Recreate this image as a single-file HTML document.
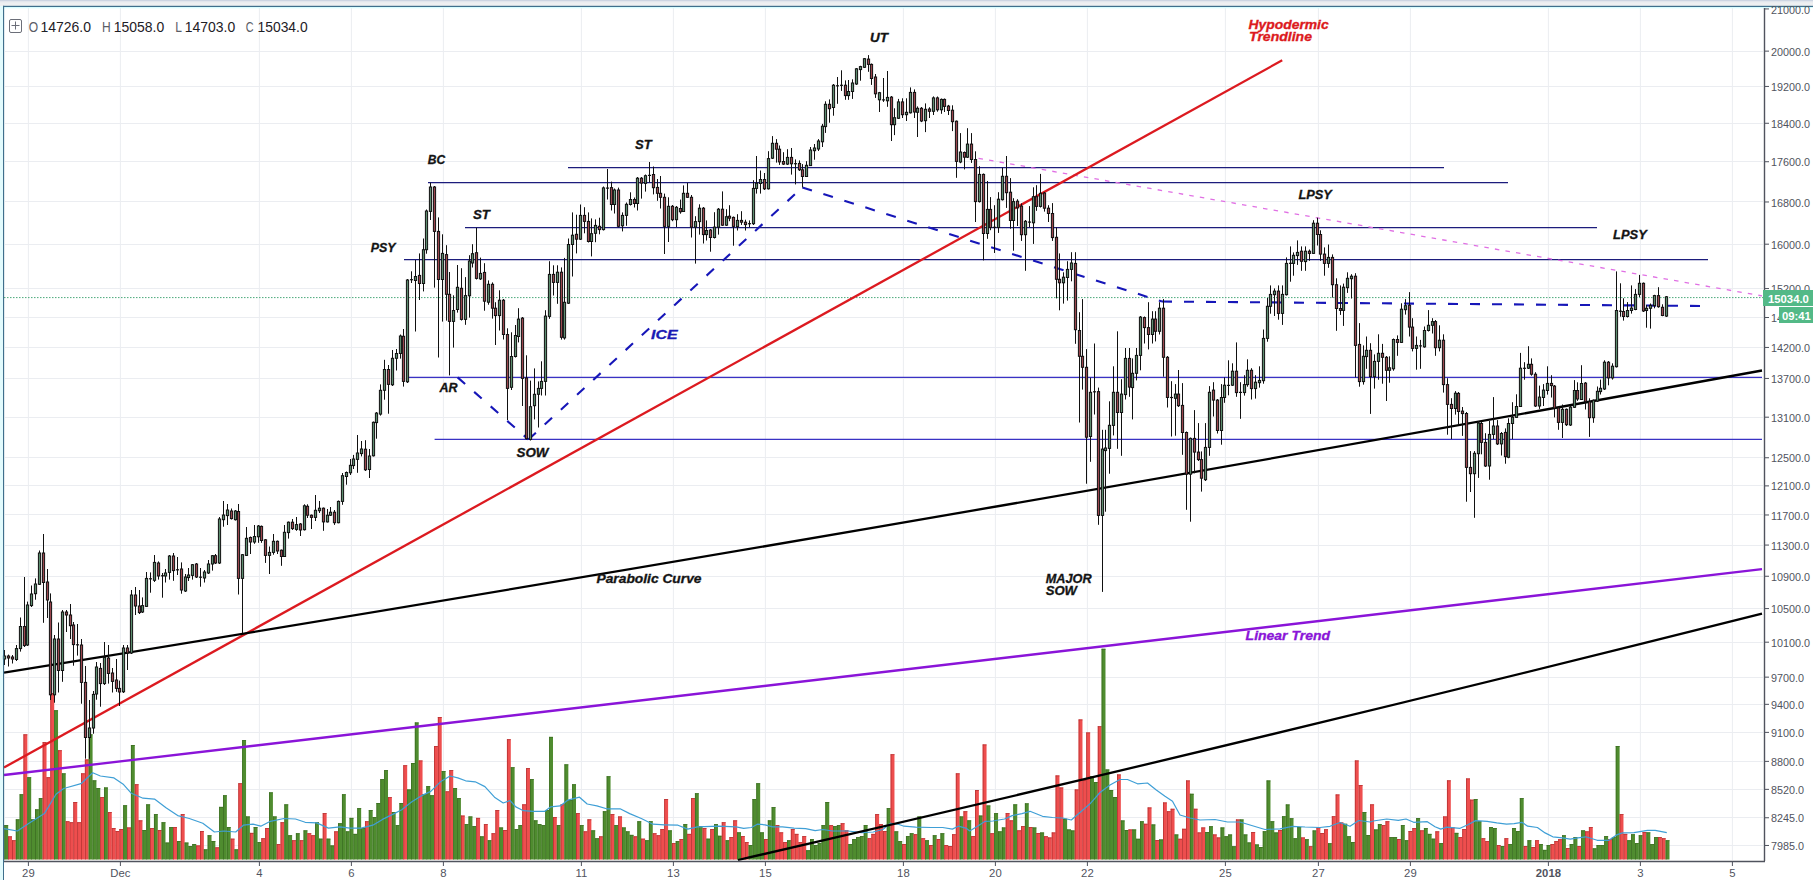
<!DOCTYPE html>
<html><head><meta charset="utf-8"><title>Chart</title>
<style>html,body{margin:0;padding:0;background:#fff;width:1813px;height:880px;overflow:hidden;font-family:"Liberation Sans",sans-serif}</style></head>
<body>
<svg width="1813" height="880" viewBox="0 0 1813 880" style="position:absolute;left:0;top:0;font-family:'Liberation Sans',sans-serif">
<rect x="0" y="0" width="1813" height="880" fill="#ffffff"/>
<rect x="0" y="0" width="1813" height="6" fill="#eeeff1"/>
<rect x="0" y="0" width="1813" height="1.3" fill="#cdd5e2"/>
<rect x="0" y="1.3" width="1813" height="1" fill="#e2e6ee"/>
<rect x="0" y="6" width="3" height="874" fill="#e2fbfd"/>
<line x1="28.4" y1="8" x2="28.4" y2="860" stroke="#ebedf1" stroke-width="1"/>
<line x1="120.4" y1="8" x2="120.4" y2="860" stroke="#ebedf1" stroke-width="1"/>
<line x1="259.4" y1="8" x2="259.4" y2="860" stroke="#ebedf1" stroke-width="1"/>
<line x1="351.4" y1="8" x2="351.4" y2="860" stroke="#ebedf1" stroke-width="1"/>
<line x1="443.4" y1="8" x2="443.4" y2="860" stroke="#ebedf1" stroke-width="1"/>
<line x1="581.4" y1="8" x2="581.4" y2="860" stroke="#ebedf1" stroke-width="1"/>
<line x1="673.4" y1="8" x2="673.4" y2="860" stroke="#ebedf1" stroke-width="1"/>
<line x1="765.4" y1="8" x2="765.4" y2="860" stroke="#ebedf1" stroke-width="1"/>
<line x1="903.4" y1="8" x2="903.4" y2="860" stroke="#ebedf1" stroke-width="1"/>
<line x1="995.4" y1="8" x2="995.4" y2="860" stroke="#ebedf1" stroke-width="1"/>
<line x1="1087.4" y1="8" x2="1087.4" y2="860" stroke="#ebedf1" stroke-width="1"/>
<line x1="1225.4" y1="8" x2="1225.4" y2="860" stroke="#ebedf1" stroke-width="1"/>
<line x1="1318.4" y1="8" x2="1318.4" y2="860" stroke="#ebedf1" stroke-width="1"/>
<line x1="1410.4" y1="8" x2="1410.4" y2="860" stroke="#ebedf1" stroke-width="1"/>
<line x1="1548.4" y1="8" x2="1548.4" y2="860" stroke="#ebedf1" stroke-width="1"/>
<line x1="1640.4" y1="8" x2="1640.4" y2="860" stroke="#ebedf1" stroke-width="1"/>
<line x1="1732.4" y1="8" x2="1732.4" y2="860" stroke="#ebedf1" stroke-width="1"/>
<line x1="5" y1="51.5" x2="1763" y2="51.5" stroke="#ebedf1" stroke-width="1"/>
<line x1="5" y1="86.5" x2="1763" y2="86.5" stroke="#ebedf1" stroke-width="1"/>
<line x1="5" y1="123.5" x2="1763" y2="123.5" stroke="#ebedf1" stroke-width="1"/>
<line x1="5" y1="161.5" x2="1763" y2="161.5" stroke="#ebedf1" stroke-width="1"/>
<line x1="5" y1="201.5" x2="1763" y2="201.5" stroke="#ebedf1" stroke-width="1"/>
<line x1="5" y1="244.5" x2="1763" y2="244.5" stroke="#ebedf1" stroke-width="1"/>
<line x1="5" y1="288.5" x2="1763" y2="288.5" stroke="#ebedf1" stroke-width="1"/>
<line x1="5" y1="317.5" x2="1763" y2="317.5" stroke="#ebedf1" stroke-width="1"/>
<line x1="5" y1="347.5" x2="1763" y2="347.5" stroke="#ebedf1" stroke-width="1"/>
<line x1="5" y1="378.5" x2="1763" y2="378.5" stroke="#ebedf1" stroke-width="1"/>
<line x1="5" y1="417.5" x2="1763" y2="417.5" stroke="#ebedf1" stroke-width="1"/>
<line x1="5" y1="457.5" x2="1763" y2="457.5" stroke="#ebedf1" stroke-width="1"/>
<line x1="5" y1="485.5" x2="1763" y2="485.5" stroke="#ebedf1" stroke-width="1"/>
<line x1="5" y1="514.5" x2="1763" y2="514.5" stroke="#ebedf1" stroke-width="1"/>
<line x1="5" y1="545.5" x2="1763" y2="545.5" stroke="#ebedf1" stroke-width="1"/>
<line x1="5" y1="576.5" x2="1763" y2="576.5" stroke="#ebedf1" stroke-width="1"/>
<line x1="5" y1="608.5" x2="1763" y2="608.5" stroke="#ebedf1" stroke-width="1"/>
<line x1="5" y1="642.5" x2="1763" y2="642.5" stroke="#ebedf1" stroke-width="1"/>
<line x1="5" y1="677.5" x2="1763" y2="677.5" stroke="#ebedf1" stroke-width="1"/>
<line x1="5" y1="704.5" x2="1763" y2="704.5" stroke="#ebedf1" stroke-width="1"/>
<line x1="5" y1="732.5" x2="1763" y2="732.5" stroke="#ebedf1" stroke-width="1"/>
<line x1="5" y1="761.5" x2="1763" y2="761.5" stroke="#ebedf1" stroke-width="1"/>
<line x1="5" y1="789.5" x2="1763" y2="789.5" stroke="#ebedf1" stroke-width="1"/>
<line x1="5" y1="817.5" x2="1763" y2="817.5" stroke="#ebedf1" stroke-width="1"/>
<line x1="5" y1="845.5" x2="1763" y2="845.5" stroke="#ebedf1" stroke-width="1"/>
<rect x="4.33" y="825.2" width="3.84" height="34.3" fill="#4f8c2f"/>
<rect x="4.33" y="825.2" width="0.8" height="34.3" fill="#3c6f22"/>
<rect x="4.33" y="825.2" width="3.84" height="0.8" fill="#3c6f22"/>
<rect x="8.16" y="836.4" width="3.84" height="23.1" fill="#ee4e4e"/>
<rect x="8.16" y="836.4" width="0.8" height="23.1" fill="#b83232"/>
<rect x="8.16" y="836.4" width="3.84" height="0.8" fill="#b83232"/>
<rect x="12.00" y="840.3" width="3.84" height="19.2" fill="#ee4e4e"/>
<rect x="12.00" y="840.3" width="0.8" height="19.2" fill="#b83232"/>
<rect x="12.00" y="840.3" width="3.84" height="0.8" fill="#b83232"/>
<rect x="15.84" y="819.4" width="3.84" height="40.1" fill="#4f8c2f"/>
<rect x="15.84" y="819.4" width="0.8" height="40.1" fill="#3c6f22"/>
<rect x="15.84" y="819.4" width="3.84" height="0.8" fill="#3c6f22"/>
<rect x="19.67" y="794.3" width="3.84" height="65.2" fill="#4f8c2f"/>
<rect x="19.67" y="794.3" width="0.8" height="65.2" fill="#3c6f22"/>
<rect x="19.67" y="794.3" width="3.84" height="0.8" fill="#3c6f22"/>
<rect x="23.51" y="734.4" width="3.84" height="125.1" fill="#ee4e4e"/>
<rect x="23.51" y="734.4" width="0.8" height="125.1" fill="#b83232"/>
<rect x="23.51" y="734.4" width="3.84" height="0.8" fill="#b83232"/>
<rect x="27.35" y="777.3" width="3.84" height="82.2" fill="#4f8c2f"/>
<rect x="27.35" y="777.3" width="0.8" height="82.2" fill="#3c6f22"/>
<rect x="27.35" y="777.3" width="3.84" height="0.8" fill="#3c6f22"/>
<rect x="31.18" y="819.4" width="3.84" height="40.1" fill="#4f8c2f"/>
<rect x="31.18" y="819.4" width="0.8" height="40.1" fill="#3c6f22"/>
<rect x="31.18" y="819.4" width="3.84" height="0.8" fill="#3c6f22"/>
<rect x="35.02" y="809.4" width="3.84" height="50.1" fill="#4f8c2f"/>
<rect x="35.02" y="809.4" width="0.8" height="50.1" fill="#3c6f22"/>
<rect x="35.02" y="809.4" width="3.84" height="0.8" fill="#3c6f22"/>
<rect x="38.86" y="798.2" width="3.84" height="61.3" fill="#4f8c2f"/>
<rect x="38.86" y="798.2" width="0.8" height="61.3" fill="#3c6f22"/>
<rect x="38.86" y="798.2" width="3.84" height="0.8" fill="#3c6f22"/>
<rect x="42.69" y="742.2" width="3.84" height="117.3" fill="#ee4e4e"/>
<rect x="42.69" y="742.2" width="0.8" height="117.3" fill="#b83232"/>
<rect x="42.69" y="742.2" width="3.84" height="0.8" fill="#b83232"/>
<rect x="46.53" y="777.3" width="3.84" height="82.2" fill="#ee4e4e"/>
<rect x="46.53" y="777.3" width="0.8" height="82.2" fill="#b83232"/>
<rect x="46.53" y="777.3" width="3.84" height="0.8" fill="#b83232"/>
<rect x="50.37" y="693.0" width="3.84" height="166.5" fill="#ee4e4e"/>
<rect x="50.37" y="693.0" width="0.8" height="166.5" fill="#b83232"/>
<rect x="50.37" y="693.0" width="3.84" height="0.8" fill="#b83232"/>
<rect x="54.20" y="710.3" width="3.84" height="149.2" fill="#4f8c2f"/>
<rect x="54.20" y="710.3" width="0.8" height="149.2" fill="#3c6f22"/>
<rect x="54.20" y="710.3" width="3.84" height="0.8" fill="#3c6f22"/>
<rect x="58.04" y="750.3" width="3.84" height="109.2" fill="#ee4e4e"/>
<rect x="58.04" y="750.3" width="0.8" height="109.2" fill="#b83232"/>
<rect x="58.04" y="750.3" width="3.84" height="0.8" fill="#b83232"/>
<rect x="61.88" y="773.4" width="3.84" height="86.1" fill="#4f8c2f"/>
<rect x="61.88" y="773.4" width="0.8" height="86.1" fill="#3c6f22"/>
<rect x="61.88" y="773.4" width="3.84" height="0.8" fill="#3c6f22"/>
<rect x="65.71" y="821.3" width="3.84" height="38.2" fill="#ee4e4e"/>
<rect x="65.71" y="821.3" width="0.8" height="38.2" fill="#b83232"/>
<rect x="65.71" y="821.3" width="3.84" height="0.8" fill="#b83232"/>
<rect x="69.55" y="822.3" width="3.84" height="37.2" fill="#ee4e4e"/>
<rect x="69.55" y="822.3" width="0.8" height="37.2" fill="#b83232"/>
<rect x="69.55" y="822.3" width="3.84" height="0.8" fill="#b83232"/>
<rect x="73.39" y="802.0" width="3.84" height="57.5" fill="#ee4e4e"/>
<rect x="73.39" y="802.0" width="0.8" height="57.5" fill="#b83232"/>
<rect x="73.39" y="802.0" width="3.84" height="0.8" fill="#b83232"/>
<rect x="77.23" y="822.3" width="3.84" height="37.2" fill="#ee4e4e"/>
<rect x="77.23" y="822.3" width="0.8" height="37.2" fill="#b83232"/>
<rect x="77.23" y="822.3" width="3.84" height="0.8" fill="#b83232"/>
<rect x="81.06" y="773.4" width="3.84" height="86.1" fill="#ee4e4e"/>
<rect x="81.06" y="773.4" width="0.8" height="86.1" fill="#b83232"/>
<rect x="81.06" y="773.4" width="3.84" height="0.8" fill="#b83232"/>
<rect x="84.90" y="759.5" width="3.84" height="100.0" fill="#ee4e4e"/>
<rect x="84.90" y="759.5" width="0.8" height="100.0" fill="#b83232"/>
<rect x="84.90" y="759.5" width="3.84" height="0.8" fill="#b83232"/>
<rect x="88.74" y="734.4" width="3.84" height="125.1" fill="#4f8c2f"/>
<rect x="88.74" y="734.4" width="0.8" height="125.1" fill="#3c6f22"/>
<rect x="88.74" y="734.4" width="3.84" height="0.8" fill="#3c6f22"/>
<rect x="92.57" y="780.4" width="3.84" height="79.1" fill="#4f8c2f"/>
<rect x="92.57" y="780.4" width="0.8" height="79.1" fill="#3c6f22"/>
<rect x="92.57" y="780.4" width="3.84" height="0.8" fill="#3c6f22"/>
<rect x="96.41" y="788.1" width="3.84" height="71.4" fill="#4f8c2f"/>
<rect x="96.41" y="788.1" width="0.8" height="71.4" fill="#3c6f22"/>
<rect x="96.41" y="788.1" width="3.84" height="0.8" fill="#3c6f22"/>
<rect x="100.25" y="797.2" width="3.84" height="62.3" fill="#ee4e4e"/>
<rect x="100.25" y="797.2" width="0.8" height="62.3" fill="#b83232"/>
<rect x="100.25" y="797.2" width="3.84" height="0.8" fill="#b83232"/>
<rect x="104.08" y="787.5" width="3.84" height="72.0" fill="#4f8c2f"/>
<rect x="104.08" y="787.5" width="0.8" height="72.0" fill="#3c6f22"/>
<rect x="104.08" y="787.5" width="3.84" height="0.8" fill="#3c6f22"/>
<rect x="107.92" y="812.1" width="3.84" height="47.4" fill="#ee4e4e"/>
<rect x="107.92" y="812.1" width="0.8" height="47.4" fill="#b83232"/>
<rect x="107.92" y="812.1" width="3.84" height="0.8" fill="#b83232"/>
<rect x="111.76" y="828.1" width="3.84" height="31.4" fill="#ee4e4e"/>
<rect x="111.76" y="828.1" width="0.8" height="31.4" fill="#b83232"/>
<rect x="111.76" y="828.1" width="3.84" height="0.8" fill="#b83232"/>
<rect x="115.59" y="831.0" width="3.84" height="28.5" fill="#ee4e4e"/>
<rect x="115.59" y="831.0" width="0.8" height="28.5" fill="#b83232"/>
<rect x="115.59" y="831.0" width="3.84" height="0.8" fill="#b83232"/>
<rect x="119.43" y="829.1" width="3.84" height="30.4" fill="#ee4e4e"/>
<rect x="119.43" y="829.1" width="0.8" height="30.4" fill="#b83232"/>
<rect x="119.43" y="829.1" width="3.84" height="0.8" fill="#b83232"/>
<rect x="123.27" y="805.3" width="3.84" height="54.2" fill="#4f8c2f"/>
<rect x="123.27" y="805.3" width="0.8" height="54.2" fill="#3c6f22"/>
<rect x="123.27" y="805.3" width="3.84" height="0.8" fill="#3c6f22"/>
<rect x="127.10" y="827.5" width="3.84" height="32.0" fill="#ee4e4e"/>
<rect x="127.10" y="827.5" width="0.8" height="32.0" fill="#b83232"/>
<rect x="127.10" y="827.5" width="3.84" height="0.8" fill="#b83232"/>
<rect x="130.94" y="745.0" width="3.84" height="114.5" fill="#4f8c2f"/>
<rect x="130.94" y="745.0" width="0.8" height="114.5" fill="#3c6f22"/>
<rect x="130.94" y="745.0" width="3.84" height="0.8" fill="#3c6f22"/>
<rect x="134.78" y="784.3" width="3.84" height="75.2" fill="#ee4e4e"/>
<rect x="134.78" y="784.3" width="0.8" height="75.2" fill="#b83232"/>
<rect x="134.78" y="784.3" width="3.84" height="0.8" fill="#b83232"/>
<rect x="138.61" y="820.4" width="3.84" height="39.1" fill="#ee4e4e"/>
<rect x="138.61" y="820.4" width="0.8" height="39.1" fill="#b83232"/>
<rect x="138.61" y="820.4" width="3.84" height="0.8" fill="#b83232"/>
<rect x="142.45" y="830.0" width="3.84" height="29.5" fill="#4f8c2f"/>
<rect x="142.45" y="830.0" width="0.8" height="29.5" fill="#3c6f22"/>
<rect x="142.45" y="830.0" width="3.84" height="0.8" fill="#3c6f22"/>
<rect x="146.29" y="804.4" width="3.84" height="55.1" fill="#4f8c2f"/>
<rect x="146.29" y="804.4" width="0.8" height="55.1" fill="#3c6f22"/>
<rect x="146.29" y="804.4" width="3.84" height="0.8" fill="#3c6f22"/>
<rect x="150.12" y="828.1" width="3.84" height="31.4" fill="#ee4e4e"/>
<rect x="150.12" y="828.1" width="0.8" height="31.4" fill="#b83232"/>
<rect x="150.12" y="828.1" width="3.84" height="0.8" fill="#b83232"/>
<rect x="153.96" y="814.2" width="3.84" height="45.3" fill="#4f8c2f"/>
<rect x="153.96" y="814.2" width="0.8" height="45.3" fill="#3c6f22"/>
<rect x="153.96" y="814.2" width="3.84" height="0.8" fill="#3c6f22"/>
<rect x="157.80" y="830.0" width="3.84" height="29.5" fill="#ee4e4e"/>
<rect x="157.80" y="830.0" width="0.8" height="29.5" fill="#b83232"/>
<rect x="157.80" y="830.0" width="3.84" height="0.8" fill="#b83232"/>
<rect x="161.63" y="822.3" width="3.84" height="37.2" fill="#4f8c2f"/>
<rect x="161.63" y="822.3" width="0.8" height="37.2" fill="#3c6f22"/>
<rect x="161.63" y="822.3" width="3.84" height="0.8" fill="#3c6f22"/>
<rect x="165.47" y="842.6" width="3.84" height="16.9" fill="#4f8c2f"/>
<rect x="165.47" y="842.6" width="0.8" height="16.9" fill="#3c6f22"/>
<rect x="165.47" y="842.6" width="3.84" height="0.8" fill="#3c6f22"/>
<rect x="169.31" y="827.1" width="3.84" height="32.4" fill="#4f8c2f"/>
<rect x="169.31" y="827.1" width="0.8" height="32.4" fill="#3c6f22"/>
<rect x="169.31" y="827.1" width="3.84" height="0.8" fill="#3c6f22"/>
<rect x="173.15" y="827.1" width="3.84" height="32.4" fill="#ee4e4e"/>
<rect x="173.15" y="827.1" width="0.8" height="32.4" fill="#b83232"/>
<rect x="173.15" y="827.1" width="3.84" height="0.8" fill="#b83232"/>
<rect x="176.98" y="841.0" width="3.84" height="18.5" fill="#4f8c2f"/>
<rect x="176.98" y="841.0" width="0.8" height="18.5" fill="#3c6f22"/>
<rect x="176.98" y="841.0" width="3.84" height="0.8" fill="#3c6f22"/>
<rect x="180.82" y="814.2" width="3.84" height="45.3" fill="#ee4e4e"/>
<rect x="180.82" y="814.2" width="0.8" height="45.3" fill="#b83232"/>
<rect x="180.82" y="814.2" width="3.84" height="0.8" fill="#b83232"/>
<rect x="184.66" y="842.6" width="3.84" height="16.9" fill="#4f8c2f"/>
<rect x="184.66" y="842.6" width="0.8" height="16.9" fill="#3c6f22"/>
<rect x="184.66" y="842.6" width="3.84" height="0.8" fill="#3c6f22"/>
<rect x="188.49" y="846.1" width="3.84" height="13.4" fill="#4f8c2f"/>
<rect x="188.49" y="846.1" width="0.8" height="13.4" fill="#3c6f22"/>
<rect x="188.49" y="846.1" width="3.84" height="0.8" fill="#3c6f22"/>
<rect x="192.33" y="844.1" width="3.84" height="15.4" fill="#4f8c2f"/>
<rect x="192.33" y="844.1" width="0.8" height="15.4" fill="#3c6f22"/>
<rect x="192.33" y="844.1" width="3.84" height="0.8" fill="#3c6f22"/>
<rect x="196.17" y="845.5" width="3.84" height="14.0" fill="#ee4e4e"/>
<rect x="196.17" y="845.5" width="0.8" height="14.0" fill="#b83232"/>
<rect x="196.17" y="845.5" width="3.84" height="0.8" fill="#b83232"/>
<rect x="200.00" y="831.0" width="3.84" height="28.5" fill="#ee4e4e"/>
<rect x="200.00" y="831.0" width="0.8" height="28.5" fill="#b83232"/>
<rect x="200.00" y="831.0" width="3.84" height="0.8" fill="#b83232"/>
<rect x="203.84" y="849.4" width="3.84" height="10.1" fill="#4f8c2f"/>
<rect x="203.84" y="849.4" width="0.8" height="10.1" fill="#3c6f22"/>
<rect x="203.84" y="849.4" width="3.84" height="0.8" fill="#3c6f22"/>
<rect x="207.68" y="835.3" width="3.84" height="24.2" fill="#4f8c2f"/>
<rect x="207.68" y="835.3" width="0.8" height="24.2" fill="#3c6f22"/>
<rect x="207.68" y="835.3" width="3.84" height="0.8" fill="#3c6f22"/>
<rect x="211.51" y="841.0" width="3.84" height="18.5" fill="#4f8c2f"/>
<rect x="211.51" y="841.0" width="0.8" height="18.5" fill="#3c6f22"/>
<rect x="211.51" y="841.0" width="3.84" height="0.8" fill="#3c6f22"/>
<rect x="215.35" y="847.4" width="3.84" height="12.1" fill="#ee4e4e"/>
<rect x="215.35" y="847.4" width="0.8" height="12.1" fill="#b83232"/>
<rect x="215.35" y="847.4" width="3.84" height="0.8" fill="#b83232"/>
<rect x="219.19" y="806.9" width="3.84" height="52.6" fill="#4f8c2f"/>
<rect x="219.19" y="806.9" width="0.8" height="52.6" fill="#3c6f22"/>
<rect x="219.19" y="806.9" width="3.84" height="0.8" fill="#3c6f22"/>
<rect x="223.02" y="795.3" width="3.84" height="64.2" fill="#4f8c2f"/>
<rect x="223.02" y="795.3" width="0.8" height="64.2" fill="#3c6f22"/>
<rect x="223.02" y="795.3" width="3.84" height="0.8" fill="#3c6f22"/>
<rect x="226.86" y="827.1" width="3.84" height="32.4" fill="#4f8c2f"/>
<rect x="226.86" y="827.1" width="0.8" height="32.4" fill="#3c6f22"/>
<rect x="226.86" y="827.1" width="3.84" height="0.8" fill="#3c6f22"/>
<rect x="230.70" y="838.7" width="3.84" height="20.8" fill="#ee4e4e"/>
<rect x="230.70" y="838.7" width="0.8" height="20.8" fill="#b83232"/>
<rect x="230.70" y="838.7" width="3.84" height="0.8" fill="#b83232"/>
<rect x="234.53" y="849.4" width="3.84" height="10.1" fill="#4f8c2f"/>
<rect x="234.53" y="849.4" width="0.8" height="10.1" fill="#3c6f22"/>
<rect x="234.53" y="849.4" width="3.84" height="0.8" fill="#3c6f22"/>
<rect x="238.37" y="783.3" width="3.84" height="76.2" fill="#ee4e4e"/>
<rect x="238.37" y="783.3" width="0.8" height="76.2" fill="#b83232"/>
<rect x="238.37" y="783.3" width="3.84" height="0.8" fill="#b83232"/>
<rect x="242.21" y="740.2" width="3.84" height="119.3" fill="#4f8c2f"/>
<rect x="242.21" y="740.2" width="0.8" height="119.3" fill="#3c6f22"/>
<rect x="242.21" y="740.2" width="3.84" height="0.8" fill="#3c6f22"/>
<rect x="246.04" y="816.5" width="3.84" height="43.0" fill="#4f8c2f"/>
<rect x="246.04" y="816.5" width="0.8" height="43.0" fill="#3c6f22"/>
<rect x="246.04" y="816.5" width="3.84" height="0.8" fill="#3c6f22"/>
<rect x="249.88" y="832.9" width="3.84" height="26.6" fill="#ee4e4e"/>
<rect x="249.88" y="832.9" width="0.8" height="26.6" fill="#b83232"/>
<rect x="249.88" y="832.9" width="3.84" height="0.8" fill="#b83232"/>
<rect x="253.72" y="827.1" width="3.84" height="32.4" fill="#4f8c2f"/>
<rect x="253.72" y="827.1" width="0.8" height="32.4" fill="#3c6f22"/>
<rect x="253.72" y="827.1" width="3.84" height="0.8" fill="#3c6f22"/>
<rect x="257.55" y="842.2" width="3.84" height="17.3" fill="#4f8c2f"/>
<rect x="257.55" y="842.2" width="0.8" height="17.3" fill="#3c6f22"/>
<rect x="257.55" y="842.2" width="3.84" height="0.8" fill="#3c6f22"/>
<rect x="261.39" y="838.3" width="3.84" height="21.2" fill="#ee4e4e"/>
<rect x="261.39" y="838.3" width="0.8" height="21.2" fill="#b83232"/>
<rect x="261.39" y="838.3" width="3.84" height="0.8" fill="#b83232"/>
<rect x="265.23" y="828.1" width="3.84" height="31.4" fill="#ee4e4e"/>
<rect x="265.23" y="828.1" width="0.8" height="31.4" fill="#b83232"/>
<rect x="265.23" y="828.1" width="3.84" height="0.8" fill="#b83232"/>
<rect x="269.07" y="792.4" width="3.84" height="67.1" fill="#4f8c2f"/>
<rect x="269.07" y="792.4" width="0.8" height="67.1" fill="#3c6f22"/>
<rect x="269.07" y="792.4" width="3.84" height="0.8" fill="#3c6f22"/>
<rect x="272.90" y="816.5" width="3.84" height="43.0" fill="#4f8c2f"/>
<rect x="272.90" y="816.5" width="0.8" height="43.0" fill="#3c6f22"/>
<rect x="272.90" y="816.5" width="3.84" height="0.8" fill="#3c6f22"/>
<rect x="276.74" y="844.1" width="3.84" height="15.4" fill="#ee4e4e"/>
<rect x="276.74" y="844.1" width="0.8" height="15.4" fill="#b83232"/>
<rect x="276.74" y="844.1" width="3.84" height="0.8" fill="#b83232"/>
<rect x="280.58" y="822.3" width="3.84" height="37.2" fill="#ee4e4e"/>
<rect x="280.58" y="822.3" width="0.8" height="37.2" fill="#b83232"/>
<rect x="280.58" y="822.3" width="3.84" height="0.8" fill="#b83232"/>
<rect x="284.41" y="804.4" width="3.84" height="55.1" fill="#4f8c2f"/>
<rect x="284.41" y="804.4" width="0.8" height="55.1" fill="#3c6f22"/>
<rect x="284.41" y="804.4" width="3.84" height="0.8" fill="#3c6f22"/>
<rect x="288.25" y="835.3" width="3.84" height="24.2" fill="#4f8c2f"/>
<rect x="288.25" y="835.3" width="0.8" height="24.2" fill="#3c6f22"/>
<rect x="288.25" y="835.3" width="3.84" height="0.8" fill="#3c6f22"/>
<rect x="292.09" y="840.3" width="3.84" height="19.2" fill="#ee4e4e"/>
<rect x="292.09" y="840.3" width="0.8" height="19.2" fill="#b83232"/>
<rect x="292.09" y="840.3" width="3.84" height="0.8" fill="#b83232"/>
<rect x="295.92" y="833.3" width="3.84" height="26.2" fill="#4f8c2f"/>
<rect x="295.92" y="833.3" width="0.8" height="26.2" fill="#3c6f22"/>
<rect x="295.92" y="833.3" width="3.84" height="0.8" fill="#3c6f22"/>
<rect x="299.76" y="840.3" width="3.84" height="19.2" fill="#ee4e4e"/>
<rect x="299.76" y="840.3" width="0.8" height="19.2" fill="#b83232"/>
<rect x="299.76" y="840.3" width="3.84" height="0.8" fill="#b83232"/>
<rect x="303.60" y="830.4" width="3.84" height="29.1" fill="#4f8c2f"/>
<rect x="303.60" y="830.4" width="0.8" height="29.1" fill="#3c6f22"/>
<rect x="303.60" y="830.4" width="3.84" height="0.8" fill="#3c6f22"/>
<rect x="307.43" y="833.3" width="3.84" height="26.2" fill="#ee4e4e"/>
<rect x="307.43" y="833.3" width="0.8" height="26.2" fill="#b83232"/>
<rect x="307.43" y="833.3" width="3.84" height="0.8" fill="#b83232"/>
<rect x="311.27" y="835.3" width="3.84" height="24.2" fill="#ee4e4e"/>
<rect x="311.27" y="835.3" width="0.8" height="24.2" fill="#b83232"/>
<rect x="311.27" y="835.3" width="3.84" height="0.8" fill="#b83232"/>
<rect x="315.11" y="822.3" width="3.84" height="37.2" fill="#4f8c2f"/>
<rect x="315.11" y="822.3" width="0.8" height="37.2" fill="#3c6f22"/>
<rect x="315.11" y="822.3" width="3.84" height="0.8" fill="#3c6f22"/>
<rect x="318.94" y="838.7" width="3.84" height="20.8" fill="#4f8c2f"/>
<rect x="318.94" y="838.7" width="0.8" height="20.8" fill="#3c6f22"/>
<rect x="318.94" y="838.7" width="3.84" height="0.8" fill="#3c6f22"/>
<rect x="322.78" y="813.2" width="3.84" height="46.3" fill="#ee4e4e"/>
<rect x="322.78" y="813.2" width="0.8" height="46.3" fill="#b83232"/>
<rect x="322.78" y="813.2" width="3.84" height="0.8" fill="#b83232"/>
<rect x="326.62" y="838.7" width="3.84" height="20.8" fill="#4f8c2f"/>
<rect x="326.62" y="838.7" width="0.8" height="20.8" fill="#3c6f22"/>
<rect x="326.62" y="838.7" width="3.84" height="0.8" fill="#3c6f22"/>
<rect x="330.45" y="845.5" width="3.84" height="14.0" fill="#4f8c2f"/>
<rect x="330.45" y="845.5" width="0.8" height="14.0" fill="#3c6f22"/>
<rect x="330.45" y="845.5" width="3.84" height="0.8" fill="#3c6f22"/>
<rect x="334.29" y="831.4" width="3.84" height="28.1" fill="#ee4e4e"/>
<rect x="334.29" y="831.4" width="0.8" height="28.1" fill="#b83232"/>
<rect x="334.29" y="831.4" width="3.84" height="0.8" fill="#b83232"/>
<rect x="338.13" y="823.3" width="3.84" height="36.2" fill="#4f8c2f"/>
<rect x="338.13" y="823.3" width="0.8" height="36.2" fill="#3c6f22"/>
<rect x="338.13" y="823.3" width="3.84" height="0.8" fill="#3c6f22"/>
<rect x="341.96" y="794.3" width="3.84" height="65.2" fill="#4f8c2f"/>
<rect x="341.96" y="794.3" width="0.8" height="65.2" fill="#3c6f22"/>
<rect x="341.96" y="794.3" width="3.84" height="0.8" fill="#3c6f22"/>
<rect x="345.80" y="831.4" width="3.84" height="28.1" fill="#4f8c2f"/>
<rect x="345.80" y="831.4" width="0.8" height="28.1" fill="#3c6f22"/>
<rect x="345.80" y="831.4" width="3.84" height="0.8" fill="#3c6f22"/>
<rect x="349.64" y="817.9" width="3.84" height="41.6" fill="#4f8c2f"/>
<rect x="349.64" y="817.9" width="0.8" height="41.6" fill="#3c6f22"/>
<rect x="349.64" y="817.9" width="3.84" height="0.8" fill="#3c6f22"/>
<rect x="353.47" y="833.9" width="3.84" height="25.6" fill="#4f8c2f"/>
<rect x="353.47" y="833.9" width="0.8" height="25.6" fill="#3c6f22"/>
<rect x="353.47" y="833.9" width="3.84" height="0.8" fill="#3c6f22"/>
<rect x="357.31" y="808.2" width="3.84" height="51.3" fill="#4f8c2f"/>
<rect x="357.31" y="808.2" width="0.8" height="51.3" fill="#3c6f22"/>
<rect x="357.31" y="808.2" width="3.84" height="0.8" fill="#3c6f22"/>
<rect x="361.15" y="828.1" width="3.84" height="31.4" fill="#4f8c2f"/>
<rect x="361.15" y="828.1" width="0.8" height="31.4" fill="#3c6f22"/>
<rect x="361.15" y="828.1" width="3.84" height="0.8" fill="#3c6f22"/>
<rect x="364.99" y="821.3" width="3.84" height="38.2" fill="#ee4e4e"/>
<rect x="364.99" y="821.3" width="0.8" height="38.2" fill="#b83232"/>
<rect x="364.99" y="821.3" width="3.84" height="0.8" fill="#b83232"/>
<rect x="368.82" y="810.1" width="3.84" height="49.4" fill="#4f8c2f"/>
<rect x="368.82" y="810.1" width="0.8" height="49.4" fill="#3c6f22"/>
<rect x="368.82" y="810.1" width="3.84" height="0.8" fill="#3c6f22"/>
<rect x="372.66" y="817.1" width="3.84" height="42.4" fill="#4f8c2f"/>
<rect x="372.66" y="817.1" width="0.8" height="42.4" fill="#3c6f22"/>
<rect x="372.66" y="817.1" width="3.84" height="0.8" fill="#3c6f22"/>
<rect x="376.50" y="803.0" width="3.84" height="56.5" fill="#4f8c2f"/>
<rect x="376.50" y="803.0" width="0.8" height="56.5" fill="#3c6f22"/>
<rect x="376.50" y="803.0" width="3.84" height="0.8" fill="#3c6f22"/>
<rect x="380.33" y="779.2" width="3.84" height="80.3" fill="#4f8c2f"/>
<rect x="380.33" y="779.2" width="0.8" height="80.3" fill="#3c6f22"/>
<rect x="380.33" y="779.2" width="3.84" height="0.8" fill="#3c6f22"/>
<rect x="384.17" y="770.2" width="3.84" height="89.3" fill="#4f8c2f"/>
<rect x="384.17" y="770.2" width="0.8" height="89.3" fill="#3c6f22"/>
<rect x="384.17" y="770.2" width="3.84" height="0.8" fill="#3c6f22"/>
<rect x="388.01" y="797.2" width="3.84" height="62.3" fill="#ee4e4e"/>
<rect x="388.01" y="797.2" width="0.8" height="62.3" fill="#b83232"/>
<rect x="388.01" y="797.2" width="3.84" height="0.8" fill="#b83232"/>
<rect x="391.84" y="812.1" width="3.84" height="47.4" fill="#4f8c2f"/>
<rect x="391.84" y="812.1" width="0.8" height="47.4" fill="#3c6f22"/>
<rect x="391.84" y="812.1" width="3.84" height="0.8" fill="#3c6f22"/>
<rect x="395.68" y="825.2" width="3.84" height="34.3" fill="#4f8c2f"/>
<rect x="395.68" y="825.2" width="0.8" height="34.3" fill="#3c6f22"/>
<rect x="395.68" y="825.2" width="3.84" height="0.8" fill="#3c6f22"/>
<rect x="399.52" y="803.0" width="3.84" height="56.5" fill="#4f8c2f"/>
<rect x="399.52" y="803.0" width="0.8" height="56.5" fill="#3c6f22"/>
<rect x="399.52" y="803.0" width="3.84" height="0.8" fill="#3c6f22"/>
<rect x="403.35" y="765.3" width="3.84" height="94.2" fill="#ee4e4e"/>
<rect x="403.35" y="765.3" width="0.8" height="94.2" fill="#b83232"/>
<rect x="403.35" y="765.3" width="3.84" height="0.8" fill="#b83232"/>
<rect x="407.19" y="789.5" width="3.84" height="70.0" fill="#4f8c2f"/>
<rect x="407.19" y="789.5" width="0.8" height="70.0" fill="#3c6f22"/>
<rect x="407.19" y="789.5" width="3.84" height="0.8" fill="#3c6f22"/>
<rect x="411.03" y="763.0" width="3.84" height="96.5" fill="#4f8c2f"/>
<rect x="411.03" y="763.0" width="0.8" height="96.5" fill="#3c6f22"/>
<rect x="411.03" y="763.0" width="3.84" height="0.8" fill="#3c6f22"/>
<rect x="414.86" y="722.5" width="3.84" height="137.0" fill="#4f8c2f"/>
<rect x="414.86" y="722.5" width="0.8" height="137.0" fill="#3c6f22"/>
<rect x="414.86" y="722.5" width="3.84" height="0.8" fill="#3c6f22"/>
<rect x="418.70" y="760.5" width="3.84" height="99.0" fill="#ee4e4e"/>
<rect x="418.70" y="760.5" width="0.8" height="99.0" fill="#b83232"/>
<rect x="418.70" y="760.5" width="3.84" height="0.8" fill="#b83232"/>
<rect x="422.54" y="794.3" width="3.84" height="65.2" fill="#4f8c2f"/>
<rect x="422.54" y="794.3" width="0.8" height="65.2" fill="#3c6f22"/>
<rect x="422.54" y="794.3" width="3.84" height="0.8" fill="#3c6f22"/>
<rect x="426.37" y="786.2" width="3.84" height="73.3" fill="#4f8c2f"/>
<rect x="426.37" y="786.2" width="0.8" height="73.3" fill="#3c6f22"/>
<rect x="426.37" y="786.2" width="3.84" height="0.8" fill="#3c6f22"/>
<rect x="430.21" y="795.3" width="3.84" height="64.2" fill="#4f8c2f"/>
<rect x="430.21" y="795.3" width="0.8" height="64.2" fill="#3c6f22"/>
<rect x="430.21" y="795.3" width="3.84" height="0.8" fill="#3c6f22"/>
<rect x="434.05" y="746.0" width="3.84" height="113.5" fill="#ee4e4e"/>
<rect x="434.05" y="746.0" width="0.8" height="113.5" fill="#b83232"/>
<rect x="434.05" y="746.0" width="3.84" height="0.8" fill="#b83232"/>
<rect x="437.88" y="717.0" width="3.84" height="142.5" fill="#ee4e4e"/>
<rect x="437.88" y="717.0" width="0.8" height="142.5" fill="#b83232"/>
<rect x="437.88" y="717.0" width="3.84" height="0.8" fill="#b83232"/>
<rect x="441.72" y="771.1" width="3.84" height="88.4" fill="#4f8c2f"/>
<rect x="441.72" y="771.1" width="0.8" height="88.4" fill="#3c6f22"/>
<rect x="441.72" y="771.1" width="3.84" height="0.8" fill="#3c6f22"/>
<rect x="445.56" y="791.4" width="3.84" height="68.1" fill="#ee4e4e"/>
<rect x="445.56" y="791.4" width="0.8" height="68.1" fill="#b83232"/>
<rect x="445.56" y="791.4" width="3.84" height="0.8" fill="#b83232"/>
<rect x="449.39" y="770.2" width="3.84" height="89.3" fill="#ee4e4e"/>
<rect x="449.39" y="770.2" width="0.8" height="89.3" fill="#b83232"/>
<rect x="449.39" y="770.2" width="3.84" height="0.8" fill="#b83232"/>
<rect x="453.23" y="788.1" width="3.84" height="71.4" fill="#4f8c2f"/>
<rect x="453.23" y="788.1" width="0.8" height="71.4" fill="#3c6f22"/>
<rect x="453.23" y="788.1" width="3.84" height="0.8" fill="#3c6f22"/>
<rect x="457.07" y="798.2" width="3.84" height="61.3" fill="#4f8c2f"/>
<rect x="457.07" y="798.2" width="0.8" height="61.3" fill="#3c6f22"/>
<rect x="457.07" y="798.2" width="3.84" height="0.8" fill="#3c6f22"/>
<rect x="460.91" y="815.6" width="3.84" height="43.9" fill="#ee4e4e"/>
<rect x="460.91" y="815.6" width="0.8" height="43.9" fill="#b83232"/>
<rect x="460.91" y="815.6" width="3.84" height="0.8" fill="#b83232"/>
<rect x="464.74" y="824.2" width="3.84" height="35.3" fill="#4f8c2f"/>
<rect x="464.74" y="824.2" width="0.8" height="35.3" fill="#3c6f22"/>
<rect x="464.74" y="824.2" width="3.84" height="0.8" fill="#3c6f22"/>
<rect x="468.58" y="816.5" width="3.84" height="43.0" fill="#4f8c2f"/>
<rect x="468.58" y="816.5" width="0.8" height="43.0" fill="#3c6f22"/>
<rect x="468.58" y="816.5" width="3.84" height="0.8" fill="#3c6f22"/>
<rect x="472.42" y="826.2" width="3.84" height="33.3" fill="#4f8c2f"/>
<rect x="472.42" y="826.2" width="0.8" height="33.3" fill="#3c6f22"/>
<rect x="472.42" y="826.2" width="3.84" height="0.8" fill="#3c6f22"/>
<rect x="476.25" y="817.9" width="3.84" height="41.6" fill="#ee4e4e"/>
<rect x="476.25" y="817.9" width="0.8" height="41.6" fill="#b83232"/>
<rect x="476.25" y="817.9" width="3.84" height="0.8" fill="#b83232"/>
<rect x="480.09" y="836.4" width="3.84" height="23.1" fill="#4f8c2f"/>
<rect x="480.09" y="836.4" width="0.8" height="23.1" fill="#3c6f22"/>
<rect x="480.09" y="836.4" width="3.84" height="0.8" fill="#3c6f22"/>
<rect x="483.93" y="824.2" width="3.84" height="35.3" fill="#ee4e4e"/>
<rect x="483.93" y="824.2" width="0.8" height="35.3" fill="#b83232"/>
<rect x="483.93" y="824.2" width="3.84" height="0.8" fill="#b83232"/>
<rect x="487.76" y="840.3" width="3.84" height="19.2" fill="#4f8c2f"/>
<rect x="487.76" y="840.3" width="0.8" height="19.2" fill="#3c6f22"/>
<rect x="487.76" y="840.3" width="3.84" height="0.8" fill="#3c6f22"/>
<rect x="491.60" y="833.3" width="3.84" height="26.2" fill="#ee4e4e"/>
<rect x="491.60" y="833.3" width="0.8" height="26.2" fill="#b83232"/>
<rect x="491.60" y="833.3" width="3.84" height="0.8" fill="#b83232"/>
<rect x="495.44" y="810.1" width="3.84" height="49.4" fill="#ee4e4e"/>
<rect x="495.44" y="810.1" width="0.8" height="49.4" fill="#b83232"/>
<rect x="495.44" y="810.1" width="3.84" height="0.8" fill="#b83232"/>
<rect x="499.27" y="827.5" width="3.84" height="32.0" fill="#4f8c2f"/>
<rect x="499.27" y="827.5" width="0.8" height="32.0" fill="#3c6f22"/>
<rect x="499.27" y="827.5" width="3.84" height="0.8" fill="#3c6f22"/>
<rect x="503.11" y="830.0" width="3.84" height="29.5" fill="#ee4e4e"/>
<rect x="503.11" y="830.0" width="0.8" height="29.5" fill="#b83232"/>
<rect x="503.11" y="830.0" width="3.84" height="0.8" fill="#b83232"/>
<rect x="506.95" y="739.3" width="3.84" height="120.2" fill="#ee4e4e"/>
<rect x="506.95" y="739.3" width="0.8" height="120.2" fill="#b83232"/>
<rect x="506.95" y="739.3" width="3.84" height="0.8" fill="#b83232"/>
<rect x="510.78" y="767.3" width="3.84" height="92.2" fill="#4f8c2f"/>
<rect x="510.78" y="767.3" width="0.8" height="92.2" fill="#3c6f22"/>
<rect x="510.78" y="767.3" width="3.84" height="0.8" fill="#3c6f22"/>
<rect x="514.62" y="829.1" width="3.84" height="30.4" fill="#4f8c2f"/>
<rect x="514.62" y="829.1" width="0.8" height="30.4" fill="#3c6f22"/>
<rect x="514.62" y="829.1" width="3.84" height="0.8" fill="#3c6f22"/>
<rect x="518.46" y="825.2" width="3.84" height="34.3" fill="#4f8c2f"/>
<rect x="518.46" y="825.2" width="0.8" height="34.3" fill="#3c6f22"/>
<rect x="518.46" y="825.2" width="3.84" height="0.8" fill="#3c6f22"/>
<rect x="522.29" y="804.4" width="3.84" height="55.1" fill="#ee4e4e"/>
<rect x="522.29" y="804.4" width="0.8" height="55.1" fill="#b83232"/>
<rect x="522.29" y="804.4" width="3.84" height="0.8" fill="#b83232"/>
<rect x="526.13" y="768.2" width="3.84" height="91.3" fill="#ee4e4e"/>
<rect x="526.13" y="768.2" width="0.8" height="91.3" fill="#b83232"/>
<rect x="526.13" y="768.2" width="3.84" height="0.8" fill="#b83232"/>
<rect x="529.97" y="779.2" width="3.84" height="80.3" fill="#4f8c2f"/>
<rect x="529.97" y="779.2" width="0.8" height="80.3" fill="#3c6f22"/>
<rect x="529.97" y="779.2" width="3.84" height="0.8" fill="#3c6f22"/>
<rect x="533.80" y="820.4" width="3.84" height="39.1" fill="#4f8c2f"/>
<rect x="533.80" y="820.4" width="0.8" height="39.1" fill="#3c6f22"/>
<rect x="533.80" y="820.4" width="3.84" height="0.8" fill="#3c6f22"/>
<rect x="537.64" y="824.2" width="3.84" height="35.3" fill="#4f8c2f"/>
<rect x="537.64" y="824.2" width="0.8" height="35.3" fill="#3c6f22"/>
<rect x="537.64" y="824.2" width="3.84" height="0.8" fill="#3c6f22"/>
<rect x="541.48" y="825.2" width="3.84" height="34.3" fill="#4f8c2f"/>
<rect x="541.48" y="825.2" width="0.8" height="34.3" fill="#3c6f22"/>
<rect x="541.48" y="825.2" width="3.84" height="0.8" fill="#3c6f22"/>
<rect x="545.31" y="810.1" width="3.84" height="49.4" fill="#4f8c2f"/>
<rect x="545.31" y="810.1" width="0.8" height="49.4" fill="#3c6f22"/>
<rect x="545.31" y="810.1" width="3.84" height="0.8" fill="#3c6f22"/>
<rect x="549.15" y="736.9" width="3.84" height="122.6" fill="#4f8c2f"/>
<rect x="549.15" y="736.9" width="0.8" height="122.6" fill="#3c6f22"/>
<rect x="549.15" y="736.9" width="3.84" height="0.8" fill="#3c6f22"/>
<rect x="552.99" y="817.1" width="3.84" height="42.4" fill="#ee4e4e"/>
<rect x="552.99" y="817.1" width="0.8" height="42.4" fill="#b83232"/>
<rect x="552.99" y="817.1" width="3.84" height="0.8" fill="#b83232"/>
<rect x="556.83" y="825.2" width="3.84" height="34.3" fill="#4f8c2f"/>
<rect x="556.83" y="825.2" width="0.8" height="34.3" fill="#3c6f22"/>
<rect x="556.83" y="825.2" width="3.84" height="0.8" fill="#3c6f22"/>
<rect x="560.66" y="804.4" width="3.84" height="55.1" fill="#ee4e4e"/>
<rect x="560.66" y="804.4" width="0.8" height="55.1" fill="#b83232"/>
<rect x="560.66" y="804.4" width="3.84" height="0.8" fill="#b83232"/>
<rect x="564.50" y="764.4" width="3.84" height="95.1" fill="#4f8c2f"/>
<rect x="564.50" y="764.4" width="0.8" height="95.1" fill="#3c6f22"/>
<rect x="564.50" y="764.4" width="3.84" height="0.8" fill="#3c6f22"/>
<rect x="568.34" y="800.1" width="3.84" height="59.4" fill="#4f8c2f"/>
<rect x="568.34" y="800.1" width="0.8" height="59.4" fill="#3c6f22"/>
<rect x="568.34" y="800.1" width="3.84" height="0.8" fill="#3c6f22"/>
<rect x="572.17" y="784.3" width="3.84" height="75.2" fill="#4f8c2f"/>
<rect x="572.17" y="784.3" width="0.8" height="75.2" fill="#3c6f22"/>
<rect x="572.17" y="784.3" width="3.84" height="0.8" fill="#3c6f22"/>
<rect x="576.01" y="813.2" width="3.84" height="46.3" fill="#ee4e4e"/>
<rect x="576.01" y="813.2" width="0.8" height="46.3" fill="#b83232"/>
<rect x="576.01" y="813.2" width="3.84" height="0.8" fill="#b83232"/>
<rect x="579.85" y="825.2" width="3.84" height="34.3" fill="#4f8c2f"/>
<rect x="579.85" y="825.2" width="0.8" height="34.3" fill="#3c6f22"/>
<rect x="579.85" y="825.2" width="3.84" height="0.8" fill="#3c6f22"/>
<rect x="583.68" y="831.4" width="3.84" height="28.1" fill="#ee4e4e"/>
<rect x="583.68" y="831.4" width="0.8" height="28.1" fill="#b83232"/>
<rect x="583.68" y="831.4" width="3.84" height="0.8" fill="#b83232"/>
<rect x="587.52" y="819.4" width="3.84" height="40.1" fill="#ee4e4e"/>
<rect x="587.52" y="819.4" width="0.8" height="40.1" fill="#b83232"/>
<rect x="587.52" y="819.4" width="3.84" height="0.8" fill="#b83232"/>
<rect x="591.36" y="830.4" width="3.84" height="29.1" fill="#4f8c2f"/>
<rect x="591.36" y="830.4" width="0.8" height="29.1" fill="#3c6f22"/>
<rect x="591.36" y="830.4" width="3.84" height="0.8" fill="#3c6f22"/>
<rect x="595.19" y="838.3" width="3.84" height="21.2" fill="#4f8c2f"/>
<rect x="595.19" y="838.3" width="0.8" height="21.2" fill="#3c6f22"/>
<rect x="595.19" y="838.3" width="3.84" height="0.8" fill="#3c6f22"/>
<rect x="599.03" y="836.4" width="3.84" height="23.1" fill="#ee4e4e"/>
<rect x="599.03" y="836.4" width="0.8" height="23.1" fill="#b83232"/>
<rect x="599.03" y="836.4" width="3.84" height="0.8" fill="#b83232"/>
<rect x="602.87" y="811.3" width="3.84" height="48.2" fill="#4f8c2f"/>
<rect x="602.87" y="811.3" width="0.8" height="48.2" fill="#3c6f22"/>
<rect x="602.87" y="811.3" width="3.84" height="0.8" fill="#3c6f22"/>
<rect x="606.70" y="776.3" width="3.84" height="83.2" fill="#4f8c2f"/>
<rect x="606.70" y="776.3" width="0.8" height="83.2" fill="#3c6f22"/>
<rect x="606.70" y="776.3" width="3.84" height="0.8" fill="#3c6f22"/>
<rect x="610.54" y="814.2" width="3.84" height="45.3" fill="#ee4e4e"/>
<rect x="610.54" y="814.2" width="0.8" height="45.3" fill="#b83232"/>
<rect x="610.54" y="814.2" width="3.84" height="0.8" fill="#b83232"/>
<rect x="614.38" y="825.2" width="3.84" height="34.3" fill="#4f8c2f"/>
<rect x="614.38" y="825.2" width="0.8" height="34.3" fill="#3c6f22"/>
<rect x="614.38" y="825.2" width="3.84" height="0.8" fill="#3c6f22"/>
<rect x="618.21" y="816.5" width="3.84" height="43.0" fill="#ee4e4e"/>
<rect x="618.21" y="816.5" width="0.8" height="43.0" fill="#b83232"/>
<rect x="618.21" y="816.5" width="3.84" height="0.8" fill="#b83232"/>
<rect x="622.05" y="827.5" width="3.84" height="32.0" fill="#4f8c2f"/>
<rect x="622.05" y="827.5" width="0.8" height="32.0" fill="#3c6f22"/>
<rect x="622.05" y="827.5" width="3.84" height="0.8" fill="#3c6f22"/>
<rect x="625.89" y="831.4" width="3.84" height="28.1" fill="#4f8c2f"/>
<rect x="625.89" y="831.4" width="0.8" height="28.1" fill="#3c6f22"/>
<rect x="625.89" y="831.4" width="3.84" height="0.8" fill="#3c6f22"/>
<rect x="629.72" y="834.9" width="3.84" height="24.6" fill="#4f8c2f"/>
<rect x="629.72" y="834.9" width="0.8" height="24.6" fill="#3c6f22"/>
<rect x="629.72" y="834.9" width="3.84" height="0.8" fill="#3c6f22"/>
<rect x="633.56" y="836.4" width="3.84" height="23.1" fill="#ee4e4e"/>
<rect x="633.56" y="836.4" width="0.8" height="23.1" fill="#b83232"/>
<rect x="633.56" y="836.4" width="3.84" height="0.8" fill="#b83232"/>
<rect x="637.40" y="821.3" width="3.84" height="38.2" fill="#4f8c2f"/>
<rect x="637.40" y="821.3" width="0.8" height="38.2" fill="#3c6f22"/>
<rect x="637.40" y="821.3" width="3.84" height="0.8" fill="#3c6f22"/>
<rect x="641.23" y="838.7" width="3.84" height="20.8" fill="#ee4e4e"/>
<rect x="641.23" y="838.7" width="0.8" height="20.8" fill="#b83232"/>
<rect x="641.23" y="838.7" width="3.84" height="0.8" fill="#b83232"/>
<rect x="645.07" y="840.3" width="3.84" height="19.2" fill="#4f8c2f"/>
<rect x="645.07" y="840.3" width="0.8" height="19.2" fill="#3c6f22"/>
<rect x="645.07" y="840.3" width="3.84" height="0.8" fill="#3c6f22"/>
<rect x="648.91" y="821.3" width="3.84" height="38.2" fill="#4f8c2f"/>
<rect x="648.91" y="821.3" width="0.8" height="38.2" fill="#3c6f22"/>
<rect x="648.91" y="821.3" width="3.84" height="0.8" fill="#3c6f22"/>
<rect x="652.75" y="833.3" width="3.84" height="26.2" fill="#ee4e4e"/>
<rect x="652.75" y="833.3" width="0.8" height="26.2" fill="#b83232"/>
<rect x="652.75" y="833.3" width="3.84" height="0.8" fill="#b83232"/>
<rect x="656.58" y="835.3" width="3.84" height="24.2" fill="#ee4e4e"/>
<rect x="656.58" y="835.3" width="0.8" height="24.2" fill="#b83232"/>
<rect x="656.58" y="835.3" width="3.84" height="0.8" fill="#b83232"/>
<rect x="660.42" y="829.1" width="3.84" height="30.4" fill="#ee4e4e"/>
<rect x="660.42" y="829.1" width="0.8" height="30.4" fill="#b83232"/>
<rect x="660.42" y="829.1" width="3.84" height="0.8" fill="#b83232"/>
<rect x="664.26" y="799.1" width="3.84" height="60.4" fill="#ee4e4e"/>
<rect x="664.26" y="799.1" width="0.8" height="60.4" fill="#b83232"/>
<rect x="664.26" y="799.1" width="3.84" height="0.8" fill="#b83232"/>
<rect x="668.09" y="830.4" width="3.84" height="29.1" fill="#4f8c2f"/>
<rect x="668.09" y="830.4" width="0.8" height="29.1" fill="#3c6f22"/>
<rect x="668.09" y="830.4" width="3.84" height="0.8" fill="#3c6f22"/>
<rect x="671.93" y="843.2" width="3.84" height="16.3" fill="#ee4e4e"/>
<rect x="671.93" y="843.2" width="0.8" height="16.3" fill="#b83232"/>
<rect x="671.93" y="843.2" width="3.84" height="0.8" fill="#b83232"/>
<rect x="675.77" y="841.2" width="3.84" height="18.3" fill="#4f8c2f"/>
<rect x="675.77" y="841.2" width="0.8" height="18.3" fill="#3c6f22"/>
<rect x="675.77" y="841.2" width="3.84" height="0.8" fill="#3c6f22"/>
<rect x="679.60" y="839.1" width="3.84" height="20.4" fill="#ee4e4e"/>
<rect x="679.60" y="839.1" width="0.8" height="20.4" fill="#b83232"/>
<rect x="679.60" y="839.1" width="3.84" height="0.8" fill="#b83232"/>
<rect x="683.44" y="824.2" width="3.84" height="35.3" fill="#4f8c2f"/>
<rect x="683.44" y="824.2" width="0.8" height="35.3" fill="#3c6f22"/>
<rect x="683.44" y="824.2" width="3.84" height="0.8" fill="#3c6f22"/>
<rect x="687.28" y="833.9" width="3.84" height="25.6" fill="#ee4e4e"/>
<rect x="687.28" y="833.9" width="0.8" height="25.6" fill="#b83232"/>
<rect x="687.28" y="833.9" width="3.84" height="0.8" fill="#b83232"/>
<rect x="691.11" y="798.2" width="3.84" height="61.3" fill="#ee4e4e"/>
<rect x="691.11" y="798.2" width="0.8" height="61.3" fill="#b83232"/>
<rect x="691.11" y="798.2" width="3.84" height="0.8" fill="#b83232"/>
<rect x="694.95" y="793.3" width="3.84" height="66.2" fill="#4f8c2f"/>
<rect x="694.95" y="793.3" width="0.8" height="66.2" fill="#3c6f22"/>
<rect x="694.95" y="793.3" width="3.84" height="0.8" fill="#3c6f22"/>
<rect x="698.79" y="826.2" width="3.84" height="33.3" fill="#4f8c2f"/>
<rect x="698.79" y="826.2" width="0.8" height="33.3" fill="#3c6f22"/>
<rect x="698.79" y="826.2" width="3.84" height="0.8" fill="#3c6f22"/>
<rect x="702.62" y="828.1" width="3.84" height="31.4" fill="#ee4e4e"/>
<rect x="702.62" y="828.1" width="0.8" height="31.4" fill="#b83232"/>
<rect x="702.62" y="828.1" width="3.84" height="0.8" fill="#b83232"/>
<rect x="706.46" y="838.7" width="3.84" height="20.8" fill="#4f8c2f"/>
<rect x="706.46" y="838.7" width="0.8" height="20.8" fill="#3c6f22"/>
<rect x="706.46" y="838.7" width="3.84" height="0.8" fill="#3c6f22"/>
<rect x="710.30" y="829.1" width="3.84" height="30.4" fill="#ee4e4e"/>
<rect x="710.30" y="829.1" width="0.8" height="30.4" fill="#b83232"/>
<rect x="710.30" y="829.1" width="3.84" height="0.8" fill="#b83232"/>
<rect x="714.13" y="824.2" width="3.84" height="35.3" fill="#4f8c2f"/>
<rect x="714.13" y="824.2" width="0.8" height="35.3" fill="#3c6f22"/>
<rect x="714.13" y="824.2" width="3.84" height="0.8" fill="#3c6f22"/>
<rect x="717.97" y="835.8" width="3.84" height="23.7" fill="#4f8c2f"/>
<rect x="717.97" y="835.8" width="0.8" height="23.7" fill="#3c6f22"/>
<rect x="717.97" y="835.8" width="3.84" height="0.8" fill="#3c6f22"/>
<rect x="721.81" y="822.3" width="3.84" height="37.2" fill="#ee4e4e"/>
<rect x="721.81" y="822.3" width="0.8" height="37.2" fill="#b83232"/>
<rect x="721.81" y="822.3" width="3.84" height="0.8" fill="#b83232"/>
<rect x="725.64" y="840.3" width="3.84" height="19.2" fill="#4f8c2f"/>
<rect x="725.64" y="840.3" width="0.8" height="19.2" fill="#3c6f22"/>
<rect x="725.64" y="840.3" width="3.84" height="0.8" fill="#3c6f22"/>
<rect x="729.48" y="837.2" width="3.84" height="22.3" fill="#ee4e4e"/>
<rect x="729.48" y="837.2" width="0.8" height="22.3" fill="#b83232"/>
<rect x="729.48" y="837.2" width="3.84" height="0.8" fill="#b83232"/>
<rect x="733.32" y="820.4" width="3.84" height="39.1" fill="#ee4e4e"/>
<rect x="733.32" y="820.4" width="0.8" height="39.1" fill="#b83232"/>
<rect x="733.32" y="820.4" width="3.84" height="0.8" fill="#b83232"/>
<rect x="737.15" y="832.4" width="3.84" height="27.1" fill="#4f8c2f"/>
<rect x="737.15" y="832.4" width="0.8" height="27.1" fill="#3c6f22"/>
<rect x="737.15" y="832.4" width="3.84" height="0.8" fill="#3c6f22"/>
<rect x="740.99" y="836.2" width="3.84" height="23.3" fill="#ee4e4e"/>
<rect x="740.99" y="836.2" width="0.8" height="23.3" fill="#b83232"/>
<rect x="740.99" y="836.2" width="3.84" height="0.8" fill="#b83232"/>
<rect x="744.83" y="842.2" width="3.84" height="17.3" fill="#ee4e4e"/>
<rect x="744.83" y="842.2" width="0.8" height="17.3" fill="#b83232"/>
<rect x="744.83" y="842.2" width="3.84" height="0.8" fill="#b83232"/>
<rect x="748.67" y="845.1" width="3.84" height="14.4" fill="#4f8c2f"/>
<rect x="748.67" y="845.1" width="0.8" height="14.4" fill="#3c6f22"/>
<rect x="748.67" y="845.1" width="3.84" height="0.8" fill="#3c6f22"/>
<rect x="752.50" y="799.1" width="3.84" height="60.4" fill="#4f8c2f"/>
<rect x="752.50" y="799.1" width="0.8" height="60.4" fill="#3c6f22"/>
<rect x="752.50" y="799.1" width="3.84" height="0.8" fill="#3c6f22"/>
<rect x="756.34" y="783.3" width="3.84" height="76.2" fill="#4f8c2f"/>
<rect x="756.34" y="783.3" width="0.8" height="76.2" fill="#3c6f22"/>
<rect x="756.34" y="783.3" width="3.84" height="0.8" fill="#3c6f22"/>
<rect x="760.18" y="832.4" width="3.84" height="27.1" fill="#4f8c2f"/>
<rect x="760.18" y="832.4" width="0.8" height="27.1" fill="#3c6f22"/>
<rect x="760.18" y="832.4" width="3.84" height="0.8" fill="#3c6f22"/>
<rect x="764.01" y="839.1" width="3.84" height="20.4" fill="#ee4e4e"/>
<rect x="764.01" y="839.1" width="0.8" height="20.4" fill="#b83232"/>
<rect x="764.01" y="839.1" width="3.84" height="0.8" fill="#b83232"/>
<rect x="767.85" y="820.4" width="3.84" height="39.1" fill="#4f8c2f"/>
<rect x="767.85" y="820.4" width="0.8" height="39.1" fill="#3c6f22"/>
<rect x="767.85" y="820.4" width="3.84" height="0.8" fill="#3c6f22"/>
<rect x="771.69" y="807.2" width="3.84" height="52.3" fill="#4f8c2f"/>
<rect x="771.69" y="807.2" width="0.8" height="52.3" fill="#3c6f22"/>
<rect x="771.69" y="807.2" width="3.84" height="0.8" fill="#3c6f22"/>
<rect x="775.52" y="825.2" width="3.84" height="34.3" fill="#ee4e4e"/>
<rect x="775.52" y="825.2" width="0.8" height="34.3" fill="#b83232"/>
<rect x="775.52" y="825.2" width="3.84" height="0.8" fill="#b83232"/>
<rect x="779.36" y="832.4" width="3.84" height="27.1" fill="#ee4e4e"/>
<rect x="779.36" y="832.4" width="0.8" height="27.1" fill="#b83232"/>
<rect x="779.36" y="832.4" width="3.84" height="0.8" fill="#b83232"/>
<rect x="783.20" y="842.2" width="3.84" height="17.3" fill="#ee4e4e"/>
<rect x="783.20" y="842.2" width="0.8" height="17.3" fill="#b83232"/>
<rect x="783.20" y="842.2" width="3.84" height="0.8" fill="#b83232"/>
<rect x="787.03" y="840.3" width="3.84" height="19.2" fill="#4f8c2f"/>
<rect x="787.03" y="840.3" width="0.8" height="19.2" fill="#3c6f22"/>
<rect x="787.03" y="840.3" width="3.84" height="0.8" fill="#3c6f22"/>
<rect x="790.87" y="829.1" width="3.84" height="30.4" fill="#ee4e4e"/>
<rect x="790.87" y="829.1" width="0.8" height="30.4" fill="#b83232"/>
<rect x="790.87" y="829.1" width="3.84" height="0.8" fill="#b83232"/>
<rect x="794.71" y="833.9" width="3.84" height="25.6" fill="#ee4e4e"/>
<rect x="794.71" y="833.9" width="0.8" height="25.6" fill="#b83232"/>
<rect x="794.71" y="833.9" width="3.84" height="0.8" fill="#b83232"/>
<rect x="798.54" y="842.2" width="3.84" height="17.3" fill="#ee4e4e"/>
<rect x="798.54" y="842.2" width="0.8" height="17.3" fill="#b83232"/>
<rect x="798.54" y="842.2" width="3.84" height="0.8" fill="#b83232"/>
<rect x="802.38" y="836.2" width="3.84" height="23.3" fill="#ee4e4e"/>
<rect x="802.38" y="836.2" width="0.8" height="23.3" fill="#b83232"/>
<rect x="802.38" y="836.2" width="3.84" height="0.8" fill="#b83232"/>
<rect x="806.22" y="850.3" width="3.84" height="9.2" fill="#4f8c2f"/>
<rect x="806.22" y="850.3" width="0.8" height="9.2" fill="#3c6f22"/>
<rect x="806.22" y="850.3" width="3.84" height="0.8" fill="#3c6f22"/>
<rect x="810.05" y="839.1" width="3.84" height="20.4" fill="#4f8c2f"/>
<rect x="810.05" y="839.1" width="0.8" height="20.4" fill="#3c6f22"/>
<rect x="810.05" y="839.1" width="3.84" height="0.8" fill="#3c6f22"/>
<rect x="813.89" y="845.1" width="3.84" height="14.4" fill="#4f8c2f"/>
<rect x="813.89" y="845.1" width="0.8" height="14.4" fill="#3c6f22"/>
<rect x="813.89" y="845.1" width="3.84" height="0.8" fill="#3c6f22"/>
<rect x="817.73" y="843.2" width="3.84" height="16.3" fill="#4f8c2f"/>
<rect x="817.73" y="843.2" width="0.8" height="16.3" fill="#3c6f22"/>
<rect x="817.73" y="843.2" width="3.84" height="0.8" fill="#3c6f22"/>
<rect x="821.56" y="825.2" width="3.84" height="34.3" fill="#4f8c2f"/>
<rect x="821.56" y="825.2" width="0.8" height="34.3" fill="#3c6f22"/>
<rect x="821.56" y="825.2" width="3.84" height="0.8" fill="#3c6f22"/>
<rect x="825.40" y="802.0" width="3.84" height="57.5" fill="#4f8c2f"/>
<rect x="825.40" y="802.0" width="0.8" height="57.5" fill="#3c6f22"/>
<rect x="825.40" y="802.0" width="3.84" height="0.8" fill="#3c6f22"/>
<rect x="829.24" y="825.2" width="3.84" height="34.3" fill="#ee4e4e"/>
<rect x="829.24" y="825.2" width="0.8" height="34.3" fill="#b83232"/>
<rect x="829.24" y="825.2" width="3.84" height="0.8" fill="#b83232"/>
<rect x="833.07" y="826.2" width="3.84" height="33.3" fill="#4f8c2f"/>
<rect x="833.07" y="826.2" width="0.8" height="33.3" fill="#3c6f22"/>
<rect x="833.07" y="826.2" width="3.84" height="0.8" fill="#3c6f22"/>
<rect x="836.91" y="825.2" width="3.84" height="34.3" fill="#4f8c2f"/>
<rect x="836.91" y="825.2" width="0.8" height="34.3" fill="#3c6f22"/>
<rect x="836.91" y="825.2" width="3.84" height="0.8" fill="#3c6f22"/>
<rect x="840.75" y="823.3" width="3.84" height="36.2" fill="#ee4e4e"/>
<rect x="840.75" y="823.3" width="0.8" height="36.2" fill="#b83232"/>
<rect x="840.75" y="823.3" width="3.84" height="0.8" fill="#b83232"/>
<rect x="844.59" y="830.4" width="3.84" height="29.1" fill="#ee4e4e"/>
<rect x="844.59" y="830.4" width="0.8" height="29.1" fill="#b83232"/>
<rect x="844.59" y="830.4" width="3.84" height="0.8" fill="#b83232"/>
<rect x="848.42" y="844.1" width="3.84" height="15.4" fill="#4f8c2f"/>
<rect x="848.42" y="844.1" width="0.8" height="15.4" fill="#3c6f22"/>
<rect x="848.42" y="844.1" width="3.84" height="0.8" fill="#3c6f22"/>
<rect x="852.26" y="839.1" width="3.84" height="20.4" fill="#4f8c2f"/>
<rect x="852.26" y="839.1" width="0.8" height="20.4" fill="#3c6f22"/>
<rect x="852.26" y="839.1" width="3.84" height="0.8" fill="#3c6f22"/>
<rect x="856.10" y="837.2" width="3.84" height="22.3" fill="#4f8c2f"/>
<rect x="856.10" y="837.2" width="0.8" height="22.3" fill="#3c6f22"/>
<rect x="856.10" y="837.2" width="3.84" height="0.8" fill="#3c6f22"/>
<rect x="859.93" y="836.2" width="3.84" height="23.3" fill="#4f8c2f"/>
<rect x="859.93" y="836.2" width="0.8" height="23.3" fill="#3c6f22"/>
<rect x="859.93" y="836.2" width="3.84" height="0.8" fill="#3c6f22"/>
<rect x="863.77" y="825.2" width="3.84" height="34.3" fill="#4f8c2f"/>
<rect x="863.77" y="825.2" width="0.8" height="34.3" fill="#3c6f22"/>
<rect x="863.77" y="825.2" width="3.84" height="0.8" fill="#3c6f22"/>
<rect x="867.61" y="838.3" width="3.84" height="21.2" fill="#ee4e4e"/>
<rect x="867.61" y="838.3" width="0.8" height="21.2" fill="#b83232"/>
<rect x="867.61" y="838.3" width="3.84" height="0.8" fill="#b83232"/>
<rect x="871.44" y="833.9" width="3.84" height="25.6" fill="#ee4e4e"/>
<rect x="871.44" y="833.9" width="0.8" height="25.6" fill="#b83232"/>
<rect x="871.44" y="833.9" width="3.84" height="0.8" fill="#b83232"/>
<rect x="875.28" y="814.2" width="3.84" height="45.3" fill="#ee4e4e"/>
<rect x="875.28" y="814.2" width="0.8" height="45.3" fill="#b83232"/>
<rect x="875.28" y="814.2" width="3.84" height="0.8" fill="#b83232"/>
<rect x="879.12" y="824.2" width="3.84" height="35.3" fill="#ee4e4e"/>
<rect x="879.12" y="824.2" width="0.8" height="35.3" fill="#b83232"/>
<rect x="879.12" y="824.2" width="3.84" height="0.8" fill="#b83232"/>
<rect x="882.95" y="831.0" width="3.84" height="28.5" fill="#ee4e4e"/>
<rect x="882.95" y="831.0" width="0.8" height="28.5" fill="#b83232"/>
<rect x="882.95" y="831.0" width="3.84" height="0.8" fill="#b83232"/>
<rect x="886.79" y="808.2" width="3.84" height="51.3" fill="#4f8c2f"/>
<rect x="886.79" y="808.2" width="0.8" height="51.3" fill="#3c6f22"/>
<rect x="886.79" y="808.2" width="3.84" height="0.8" fill="#3c6f22"/>
<rect x="890.63" y="754.3" width="3.84" height="105.2" fill="#ee4e4e"/>
<rect x="890.63" y="754.3" width="0.8" height="105.2" fill="#b83232"/>
<rect x="890.63" y="754.3" width="3.84" height="0.8" fill="#b83232"/>
<rect x="894.46" y="831.4" width="3.84" height="28.1" fill="#4f8c2f"/>
<rect x="894.46" y="831.4" width="0.8" height="28.1" fill="#3c6f22"/>
<rect x="894.46" y="831.4" width="3.84" height="0.8" fill="#3c6f22"/>
<rect x="898.30" y="841.2" width="3.84" height="18.3" fill="#4f8c2f"/>
<rect x="898.30" y="841.2" width="0.8" height="18.3" fill="#3c6f22"/>
<rect x="898.30" y="841.2" width="3.84" height="0.8" fill="#3c6f22"/>
<rect x="902.14" y="844.1" width="3.84" height="15.4" fill="#ee4e4e"/>
<rect x="902.14" y="844.1" width="0.8" height="15.4" fill="#b83232"/>
<rect x="902.14" y="844.1" width="3.84" height="0.8" fill="#b83232"/>
<rect x="905.97" y="836.2" width="3.84" height="23.3" fill="#4f8c2f"/>
<rect x="905.97" y="836.2" width="0.8" height="23.3" fill="#3c6f22"/>
<rect x="905.97" y="836.2" width="3.84" height="0.8" fill="#3c6f22"/>
<rect x="909.81" y="833.3" width="3.84" height="26.2" fill="#4f8c2f"/>
<rect x="909.81" y="833.3" width="0.8" height="26.2" fill="#3c6f22"/>
<rect x="909.81" y="833.3" width="3.84" height="0.8" fill="#3c6f22"/>
<rect x="913.65" y="834.3" width="3.84" height="25.2" fill="#ee4e4e"/>
<rect x="913.65" y="834.3" width="0.8" height="25.2" fill="#b83232"/>
<rect x="913.65" y="834.3" width="3.84" height="0.8" fill="#b83232"/>
<rect x="917.48" y="816.5" width="3.84" height="43.0" fill="#4f8c2f"/>
<rect x="917.48" y="816.5" width="0.8" height="43.0" fill="#3c6f22"/>
<rect x="917.48" y="816.5" width="3.84" height="0.8" fill="#3c6f22"/>
<rect x="921.32" y="838.3" width="3.84" height="21.2" fill="#ee4e4e"/>
<rect x="921.32" y="838.3" width="0.8" height="21.2" fill="#b83232"/>
<rect x="921.32" y="838.3" width="3.84" height="0.8" fill="#b83232"/>
<rect x="925.16" y="840.3" width="3.84" height="19.2" fill="#4f8c2f"/>
<rect x="925.16" y="840.3" width="0.8" height="19.2" fill="#3c6f22"/>
<rect x="925.16" y="840.3" width="3.84" height="0.8" fill="#3c6f22"/>
<rect x="928.99" y="845.1" width="3.84" height="14.4" fill="#ee4e4e"/>
<rect x="928.99" y="845.1" width="0.8" height="14.4" fill="#b83232"/>
<rect x="928.99" y="845.1" width="3.84" height="0.8" fill="#b83232"/>
<rect x="932.83" y="835.3" width="3.84" height="24.2" fill="#4f8c2f"/>
<rect x="932.83" y="835.3" width="0.8" height="24.2" fill="#3c6f22"/>
<rect x="932.83" y="835.3" width="3.84" height="0.8" fill="#3c6f22"/>
<rect x="936.67" y="839.1" width="3.84" height="20.4" fill="#ee4e4e"/>
<rect x="936.67" y="839.1" width="0.8" height="20.4" fill="#b83232"/>
<rect x="936.67" y="839.1" width="3.84" height="0.8" fill="#b83232"/>
<rect x="940.51" y="833.3" width="3.84" height="26.2" fill="#4f8c2f"/>
<rect x="940.51" y="833.3" width="0.8" height="26.2" fill="#3c6f22"/>
<rect x="940.51" y="833.3" width="3.84" height="0.8" fill="#3c6f22"/>
<rect x="944.34" y="845.1" width="3.84" height="14.4" fill="#ee4e4e"/>
<rect x="944.34" y="845.1" width="0.8" height="14.4" fill="#b83232"/>
<rect x="944.34" y="845.1" width="3.84" height="0.8" fill="#b83232"/>
<rect x="948.18" y="846.1" width="3.84" height="13.4" fill="#ee4e4e"/>
<rect x="948.18" y="846.1" width="0.8" height="13.4" fill="#b83232"/>
<rect x="948.18" y="846.1" width="3.84" height="0.8" fill="#b83232"/>
<rect x="952.02" y="834.3" width="3.84" height="25.2" fill="#ee4e4e"/>
<rect x="952.02" y="834.3" width="0.8" height="25.2" fill="#b83232"/>
<rect x="952.02" y="834.3" width="3.84" height="0.8" fill="#b83232"/>
<rect x="955.85" y="773.4" width="3.84" height="86.1" fill="#ee4e4e"/>
<rect x="955.85" y="773.4" width="0.8" height="86.1" fill="#b83232"/>
<rect x="955.85" y="773.4" width="3.84" height="0.8" fill="#b83232"/>
<rect x="959.69" y="816.5" width="3.84" height="43.0" fill="#4f8c2f"/>
<rect x="959.69" y="816.5" width="0.8" height="43.0" fill="#3c6f22"/>
<rect x="959.69" y="816.5" width="3.84" height="0.8" fill="#3c6f22"/>
<rect x="963.53" y="811.3" width="3.84" height="48.2" fill="#ee4e4e"/>
<rect x="963.53" y="811.3" width="0.8" height="48.2" fill="#b83232"/>
<rect x="963.53" y="811.3" width="3.84" height="0.8" fill="#b83232"/>
<rect x="967.36" y="820.4" width="3.84" height="39.1" fill="#4f8c2f"/>
<rect x="967.36" y="820.4" width="0.8" height="39.1" fill="#3c6f22"/>
<rect x="967.36" y="820.4" width="3.84" height="0.8" fill="#3c6f22"/>
<rect x="971.20" y="836.2" width="3.84" height="23.3" fill="#ee4e4e"/>
<rect x="971.20" y="836.2" width="0.8" height="23.3" fill="#b83232"/>
<rect x="971.20" y="836.2" width="3.84" height="0.8" fill="#b83232"/>
<rect x="975.04" y="790.1" width="3.84" height="69.4" fill="#ee4e4e"/>
<rect x="975.04" y="790.1" width="0.8" height="69.4" fill="#b83232"/>
<rect x="975.04" y="790.1" width="3.84" height="0.8" fill="#b83232"/>
<rect x="978.87" y="815.6" width="3.84" height="43.9" fill="#4f8c2f"/>
<rect x="978.87" y="815.6" width="0.8" height="43.9" fill="#3c6f22"/>
<rect x="978.87" y="815.6" width="3.84" height="0.8" fill="#3c6f22"/>
<rect x="982.71" y="744.5" width="3.84" height="115.0" fill="#ee4e4e"/>
<rect x="982.71" y="744.5" width="0.8" height="115.0" fill="#b83232"/>
<rect x="982.71" y="744.5" width="3.84" height="0.8" fill="#b83232"/>
<rect x="986.55" y="805.5" width="3.84" height="54.0" fill="#4f8c2f"/>
<rect x="986.55" y="805.5" width="0.8" height="54.0" fill="#3c6f22"/>
<rect x="986.55" y="805.5" width="3.84" height="0.8" fill="#3c6f22"/>
<rect x="990.38" y="833.3" width="3.84" height="26.2" fill="#ee4e4e"/>
<rect x="990.38" y="833.3" width="0.8" height="26.2" fill="#b83232"/>
<rect x="990.38" y="833.3" width="3.84" height="0.8" fill="#b83232"/>
<rect x="994.22" y="813.2" width="3.84" height="46.3" fill="#4f8c2f"/>
<rect x="994.22" y="813.2" width="0.8" height="46.3" fill="#3c6f22"/>
<rect x="994.22" y="813.2" width="3.84" height="0.8" fill="#3c6f22"/>
<rect x="998.06" y="831.4" width="3.84" height="28.1" fill="#4f8c2f"/>
<rect x="998.06" y="831.4" width="0.8" height="28.1" fill="#3c6f22"/>
<rect x="998.06" y="831.4" width="3.84" height="0.8" fill="#3c6f22"/>
<rect x="1001.89" y="827.5" width="3.84" height="32.0" fill="#4f8c2f"/>
<rect x="1001.89" y="827.5" width="0.8" height="32.0" fill="#3c6f22"/>
<rect x="1001.89" y="827.5" width="3.84" height="0.8" fill="#3c6f22"/>
<rect x="1005.73" y="813.2" width="3.84" height="46.3" fill="#ee4e4e"/>
<rect x="1005.73" y="813.2" width="0.8" height="46.3" fill="#b83232"/>
<rect x="1005.73" y="813.2" width="3.84" height="0.8" fill="#b83232"/>
<rect x="1009.57" y="820.4" width="3.84" height="39.1" fill="#ee4e4e"/>
<rect x="1009.57" y="820.4" width="0.8" height="39.1" fill="#b83232"/>
<rect x="1009.57" y="820.4" width="3.84" height="0.8" fill="#b83232"/>
<rect x="1013.40" y="804.4" width="3.84" height="55.1" fill="#4f8c2f"/>
<rect x="1013.40" y="804.4" width="0.8" height="55.1" fill="#3c6f22"/>
<rect x="1013.40" y="804.4" width="3.84" height="0.8" fill="#3c6f22"/>
<rect x="1017.24" y="830.4" width="3.84" height="29.1" fill="#ee4e4e"/>
<rect x="1017.24" y="830.4" width="0.8" height="29.1" fill="#b83232"/>
<rect x="1017.24" y="830.4" width="3.84" height="0.8" fill="#b83232"/>
<rect x="1021.08" y="826.2" width="3.84" height="33.3" fill="#ee4e4e"/>
<rect x="1021.08" y="826.2" width="0.8" height="33.3" fill="#b83232"/>
<rect x="1021.08" y="826.2" width="3.84" height="0.8" fill="#b83232"/>
<rect x="1024.91" y="803.4" width="3.84" height="56.1" fill="#4f8c2f"/>
<rect x="1024.91" y="803.4" width="0.8" height="56.1" fill="#3c6f22"/>
<rect x="1024.91" y="803.4" width="3.84" height="0.8" fill="#3c6f22"/>
<rect x="1028.75" y="827.1" width="3.84" height="32.4" fill="#ee4e4e"/>
<rect x="1028.75" y="827.1" width="0.8" height="32.4" fill="#b83232"/>
<rect x="1028.75" y="827.1" width="3.84" height="0.8" fill="#b83232"/>
<rect x="1032.59" y="827.5" width="3.84" height="32.0" fill="#4f8c2f"/>
<rect x="1032.59" y="827.5" width="0.8" height="32.0" fill="#3c6f22"/>
<rect x="1032.59" y="827.5" width="3.84" height="0.8" fill="#3c6f22"/>
<rect x="1036.43" y="833.0" width="3.84" height="26.5" fill="#ee4e4e"/>
<rect x="1036.43" y="833.0" width="0.8" height="26.5" fill="#b83232"/>
<rect x="1036.43" y="833.0" width="3.84" height="0.8" fill="#b83232"/>
<rect x="1040.26" y="832.5" width="3.84" height="27.0" fill="#4f8c2f"/>
<rect x="1040.26" y="832.5" width="0.8" height="27.0" fill="#3c6f22"/>
<rect x="1040.26" y="832.5" width="3.84" height="0.8" fill="#3c6f22"/>
<rect x="1044.10" y="836.3" width="3.84" height="23.2" fill="#ee4e4e"/>
<rect x="1044.10" y="836.3" width="0.8" height="23.2" fill="#b83232"/>
<rect x="1044.10" y="836.3" width="3.84" height="0.8" fill="#b83232"/>
<rect x="1047.94" y="837.5" width="3.84" height="22.0" fill="#ee4e4e"/>
<rect x="1047.94" y="837.5" width="0.8" height="22.0" fill="#b83232"/>
<rect x="1047.94" y="837.5" width="3.84" height="0.8" fill="#b83232"/>
<rect x="1051.77" y="832.5" width="3.84" height="27.0" fill="#ee4e4e"/>
<rect x="1051.77" y="832.5" width="0.8" height="27.0" fill="#b83232"/>
<rect x="1051.77" y="832.5" width="3.84" height="0.8" fill="#b83232"/>
<rect x="1055.61" y="775.5" width="3.84" height="84.0" fill="#ee4e4e"/>
<rect x="1055.61" y="775.5" width="0.8" height="84.0" fill="#b83232"/>
<rect x="1055.61" y="775.5" width="3.84" height="0.8" fill="#b83232"/>
<rect x="1059.45" y="787.5" width="3.84" height="72.0" fill="#ee4e4e"/>
<rect x="1059.45" y="787.5" width="0.8" height="72.0" fill="#b83232"/>
<rect x="1059.45" y="787.5" width="3.84" height="0.8" fill="#b83232"/>
<rect x="1063.28" y="818.8" width="3.84" height="40.7" fill="#4f8c2f"/>
<rect x="1063.28" y="818.8" width="0.8" height="40.7" fill="#3c6f22"/>
<rect x="1063.28" y="818.8" width="3.84" height="0.8" fill="#3c6f22"/>
<rect x="1067.12" y="829.5" width="3.84" height="30.0" fill="#4f8c2f"/>
<rect x="1067.12" y="829.5" width="0.8" height="30.0" fill="#3c6f22"/>
<rect x="1067.12" y="829.5" width="3.84" height="0.8" fill="#3c6f22"/>
<rect x="1070.96" y="830.5" width="3.84" height="29.0" fill="#4f8c2f"/>
<rect x="1070.96" y="830.5" width="0.8" height="29.0" fill="#3c6f22"/>
<rect x="1070.96" y="830.5" width="3.84" height="0.8" fill="#3c6f22"/>
<rect x="1074.79" y="789.5" width="3.84" height="70.0" fill="#ee4e4e"/>
<rect x="1074.79" y="789.5" width="0.8" height="70.0" fill="#b83232"/>
<rect x="1074.79" y="789.5" width="3.84" height="0.8" fill="#b83232"/>
<rect x="1078.63" y="719.5" width="3.84" height="140.0" fill="#ee4e4e"/>
<rect x="1078.63" y="719.5" width="0.8" height="140.0" fill="#b83232"/>
<rect x="1078.63" y="719.5" width="3.84" height="0.8" fill="#b83232"/>
<rect x="1082.47" y="780.0" width="3.84" height="79.5" fill="#ee4e4e"/>
<rect x="1082.47" y="780.0" width="0.8" height="79.5" fill="#b83232"/>
<rect x="1082.47" y="780.0" width="3.84" height="0.8" fill="#b83232"/>
<rect x="1086.30" y="732.5" width="3.84" height="127.0" fill="#ee4e4e"/>
<rect x="1086.30" y="732.5" width="0.8" height="127.0" fill="#b83232"/>
<rect x="1086.30" y="732.5" width="3.84" height="0.8" fill="#b83232"/>
<rect x="1090.14" y="776.3" width="3.84" height="83.2" fill="#4f8c2f"/>
<rect x="1090.14" y="776.3" width="0.8" height="83.2" fill="#3c6f22"/>
<rect x="1090.14" y="776.3" width="3.84" height="0.8" fill="#3c6f22"/>
<rect x="1093.98" y="782.0" width="3.84" height="77.5" fill="#4f8c2f"/>
<rect x="1093.98" y="782.0" width="0.8" height="77.5" fill="#3c6f22"/>
<rect x="1093.98" y="782.0" width="3.84" height="0.8" fill="#3c6f22"/>
<rect x="1097.81" y="726.3" width="3.84" height="133.2" fill="#ee4e4e"/>
<rect x="1097.81" y="726.3" width="0.8" height="133.2" fill="#b83232"/>
<rect x="1097.81" y="726.3" width="3.84" height="0.8" fill="#b83232"/>
<rect x="1101.65" y="648.8" width="3.84" height="210.7" fill="#4f8c2f"/>
<rect x="1101.65" y="648.8" width="0.8" height="210.7" fill="#3c6f22"/>
<rect x="1101.65" y="648.8" width="3.84" height="0.8" fill="#3c6f22"/>
<rect x="1105.49" y="769.5" width="3.84" height="90.0" fill="#4f8c2f"/>
<rect x="1105.49" y="769.5" width="0.8" height="90.0" fill="#3c6f22"/>
<rect x="1105.49" y="769.5" width="3.84" height="0.8" fill="#3c6f22"/>
<rect x="1109.32" y="790.0" width="3.84" height="69.5" fill="#4f8c2f"/>
<rect x="1109.32" y="790.0" width="0.8" height="69.5" fill="#3c6f22"/>
<rect x="1109.32" y="790.0" width="3.84" height="0.8" fill="#3c6f22"/>
<rect x="1113.16" y="797.0" width="3.84" height="62.5" fill="#4f8c2f"/>
<rect x="1113.16" y="797.0" width="0.8" height="62.5" fill="#3c6f22"/>
<rect x="1113.16" y="797.0" width="3.84" height="0.8" fill="#3c6f22"/>
<rect x="1117.00" y="774.5" width="3.84" height="85.0" fill="#ee4e4e"/>
<rect x="1117.00" y="774.5" width="0.8" height="85.0" fill="#b83232"/>
<rect x="1117.00" y="774.5" width="3.84" height="0.8" fill="#b83232"/>
<rect x="1120.83" y="820.5" width="3.84" height="39.0" fill="#4f8c2f"/>
<rect x="1120.83" y="820.5" width="0.8" height="39.0" fill="#3c6f22"/>
<rect x="1120.83" y="820.5" width="3.84" height="0.8" fill="#3c6f22"/>
<rect x="1124.67" y="830.0" width="3.84" height="29.5" fill="#4f8c2f"/>
<rect x="1124.67" y="830.0" width="0.8" height="29.5" fill="#3c6f22"/>
<rect x="1124.67" y="830.0" width="3.84" height="0.8" fill="#3c6f22"/>
<rect x="1128.51" y="829.5" width="3.84" height="30.0" fill="#ee4e4e"/>
<rect x="1128.51" y="829.5" width="0.8" height="30.0" fill="#b83232"/>
<rect x="1128.51" y="829.5" width="3.84" height="0.8" fill="#b83232"/>
<rect x="1132.35" y="829.5" width="3.84" height="30.0" fill="#4f8c2f"/>
<rect x="1132.35" y="829.5" width="0.8" height="30.0" fill="#3c6f22"/>
<rect x="1132.35" y="829.5" width="3.84" height="0.8" fill="#3c6f22"/>
<rect x="1136.18" y="838.8" width="3.84" height="20.7" fill="#4f8c2f"/>
<rect x="1136.18" y="838.8" width="0.8" height="20.7" fill="#3c6f22"/>
<rect x="1136.18" y="838.8" width="3.84" height="0.8" fill="#3c6f22"/>
<rect x="1140.02" y="821.3" width="3.84" height="38.2" fill="#4f8c2f"/>
<rect x="1140.02" y="821.3" width="0.8" height="38.2" fill="#3c6f22"/>
<rect x="1140.02" y="821.3" width="3.84" height="0.8" fill="#3c6f22"/>
<rect x="1143.86" y="823.8" width="3.84" height="35.7" fill="#ee4e4e"/>
<rect x="1143.86" y="823.8" width="0.8" height="35.7" fill="#b83232"/>
<rect x="1143.86" y="823.8" width="3.84" height="0.8" fill="#b83232"/>
<rect x="1147.69" y="807.5" width="3.84" height="52.0" fill="#ee4e4e"/>
<rect x="1147.69" y="807.5" width="0.8" height="52.0" fill="#b83232"/>
<rect x="1147.69" y="807.5" width="3.84" height="0.8" fill="#b83232"/>
<rect x="1151.53" y="824.5" width="3.84" height="35.0" fill="#4f8c2f"/>
<rect x="1151.53" y="824.5" width="0.8" height="35.0" fill="#3c6f22"/>
<rect x="1151.53" y="824.5" width="3.84" height="0.8" fill="#3c6f22"/>
<rect x="1155.37" y="840.0" width="3.84" height="19.5" fill="#ee4e4e"/>
<rect x="1155.37" y="840.0" width="0.8" height="19.5" fill="#b83232"/>
<rect x="1155.37" y="840.0" width="3.84" height="0.8" fill="#b83232"/>
<rect x="1159.20" y="839.5" width="3.84" height="20.0" fill="#4f8c2f"/>
<rect x="1159.20" y="839.5" width="0.8" height="20.0" fill="#3c6f22"/>
<rect x="1159.20" y="839.5" width="3.84" height="0.8" fill="#3c6f22"/>
<rect x="1163.04" y="802.5" width="3.84" height="57.0" fill="#ee4e4e"/>
<rect x="1163.04" y="802.5" width="0.8" height="57.0" fill="#b83232"/>
<rect x="1163.04" y="802.5" width="3.84" height="0.8" fill="#b83232"/>
<rect x="1166.88" y="811.3" width="3.84" height="48.2" fill="#ee4e4e"/>
<rect x="1166.88" y="811.3" width="0.8" height="48.2" fill="#b83232"/>
<rect x="1166.88" y="811.3" width="3.84" height="0.8" fill="#b83232"/>
<rect x="1170.71" y="808.8" width="3.84" height="50.7" fill="#ee4e4e"/>
<rect x="1170.71" y="808.8" width="0.8" height="50.7" fill="#b83232"/>
<rect x="1170.71" y="808.8" width="3.84" height="0.8" fill="#b83232"/>
<rect x="1174.55" y="834.5" width="3.84" height="25.0" fill="#4f8c2f"/>
<rect x="1174.55" y="834.5" width="0.8" height="25.0" fill="#3c6f22"/>
<rect x="1174.55" y="834.5" width="3.84" height="0.8" fill="#3c6f22"/>
<rect x="1178.39" y="838.8" width="3.84" height="20.7" fill="#ee4e4e"/>
<rect x="1178.39" y="838.8" width="0.8" height="20.7" fill="#b83232"/>
<rect x="1178.39" y="838.8" width="3.84" height="0.8" fill="#b83232"/>
<rect x="1182.22" y="828.8" width="3.84" height="30.7" fill="#ee4e4e"/>
<rect x="1182.22" y="828.8" width="0.8" height="30.7" fill="#b83232"/>
<rect x="1182.22" y="828.8" width="3.84" height="0.8" fill="#b83232"/>
<rect x="1186.06" y="780.5" width="3.84" height="79.0" fill="#ee4e4e"/>
<rect x="1186.06" y="780.5" width="0.8" height="79.0" fill="#b83232"/>
<rect x="1186.06" y="780.5" width="3.84" height="0.8" fill="#b83232"/>
<rect x="1189.90" y="793.8" width="3.84" height="65.7" fill="#4f8c2f"/>
<rect x="1189.90" y="793.8" width="0.8" height="65.7" fill="#3c6f22"/>
<rect x="1189.90" y="793.8" width="3.84" height="0.8" fill="#3c6f22"/>
<rect x="1193.73" y="808.8" width="3.84" height="50.7" fill="#ee4e4e"/>
<rect x="1193.73" y="808.8" width="0.8" height="50.7" fill="#b83232"/>
<rect x="1193.73" y="808.8" width="3.84" height="0.8" fill="#b83232"/>
<rect x="1197.57" y="832.5" width="3.84" height="27.0" fill="#ee4e4e"/>
<rect x="1197.57" y="832.5" width="0.8" height="27.0" fill="#b83232"/>
<rect x="1197.57" y="832.5" width="3.84" height="0.8" fill="#b83232"/>
<rect x="1201.41" y="827.5" width="3.84" height="32.0" fill="#ee4e4e"/>
<rect x="1201.41" y="827.5" width="0.8" height="32.0" fill="#b83232"/>
<rect x="1201.41" y="827.5" width="3.84" height="0.8" fill="#b83232"/>
<rect x="1205.24" y="832.0" width="3.84" height="27.5" fill="#4f8c2f"/>
<rect x="1205.24" y="832.0" width="0.8" height="27.5" fill="#3c6f22"/>
<rect x="1205.24" y="832.0" width="3.84" height="0.8" fill="#3c6f22"/>
<rect x="1209.08" y="826.3" width="3.84" height="33.2" fill="#4f8c2f"/>
<rect x="1209.08" y="826.3" width="0.8" height="33.2" fill="#3c6f22"/>
<rect x="1209.08" y="826.3" width="3.84" height="0.8" fill="#3c6f22"/>
<rect x="1212.92" y="834.5" width="3.84" height="25.0" fill="#ee4e4e"/>
<rect x="1212.92" y="834.5" width="0.8" height="25.0" fill="#b83232"/>
<rect x="1212.92" y="834.5" width="3.84" height="0.8" fill="#b83232"/>
<rect x="1216.75" y="837.5" width="3.84" height="22.0" fill="#ee4e4e"/>
<rect x="1216.75" y="837.5" width="0.8" height="22.0" fill="#b83232"/>
<rect x="1216.75" y="837.5" width="3.84" height="0.8" fill="#b83232"/>
<rect x="1220.59" y="827.5" width="3.84" height="32.0" fill="#4f8c2f"/>
<rect x="1220.59" y="827.5" width="0.8" height="32.0" fill="#3c6f22"/>
<rect x="1220.59" y="827.5" width="3.84" height="0.8" fill="#3c6f22"/>
<rect x="1224.43" y="836.3" width="3.84" height="23.2" fill="#4f8c2f"/>
<rect x="1224.43" y="836.3" width="0.8" height="23.2" fill="#3c6f22"/>
<rect x="1224.43" y="836.3" width="3.84" height="0.8" fill="#3c6f22"/>
<rect x="1228.27" y="834.5" width="3.84" height="25.0" fill="#4f8c2f"/>
<rect x="1228.27" y="834.5" width="0.8" height="25.0" fill="#3c6f22"/>
<rect x="1228.27" y="834.5" width="3.84" height="0.8" fill="#3c6f22"/>
<rect x="1232.10" y="846.3" width="3.84" height="13.2" fill="#4f8c2f"/>
<rect x="1232.10" y="846.3" width="0.8" height="13.2" fill="#3c6f22"/>
<rect x="1232.10" y="846.3" width="3.84" height="0.8" fill="#3c6f22"/>
<rect x="1235.94" y="819.5" width="3.84" height="40.0" fill="#ee4e4e"/>
<rect x="1235.94" y="819.5" width="0.8" height="40.0" fill="#b83232"/>
<rect x="1235.94" y="819.5" width="3.84" height="0.8" fill="#b83232"/>
<rect x="1239.78" y="819.5" width="3.84" height="40.0" fill="#4f8c2f"/>
<rect x="1239.78" y="819.5" width="0.8" height="40.0" fill="#3c6f22"/>
<rect x="1239.78" y="819.5" width="3.84" height="0.8" fill="#3c6f22"/>
<rect x="1243.61" y="834.5" width="3.84" height="25.0" fill="#4f8c2f"/>
<rect x="1243.61" y="834.5" width="0.8" height="25.0" fill="#3c6f22"/>
<rect x="1243.61" y="834.5" width="3.84" height="0.8" fill="#3c6f22"/>
<rect x="1247.45" y="842.5" width="3.84" height="17.0" fill="#4f8c2f"/>
<rect x="1247.45" y="842.5" width="0.8" height="17.0" fill="#3c6f22"/>
<rect x="1247.45" y="842.5" width="3.84" height="0.8" fill="#3c6f22"/>
<rect x="1251.29" y="832.0" width="3.84" height="27.5" fill="#ee4e4e"/>
<rect x="1251.29" y="832.0" width="0.8" height="27.5" fill="#b83232"/>
<rect x="1251.29" y="832.0" width="3.84" height="0.8" fill="#b83232"/>
<rect x="1255.12" y="844.5" width="3.84" height="15.0" fill="#4f8c2f"/>
<rect x="1255.12" y="844.5" width="0.8" height="15.0" fill="#3c6f22"/>
<rect x="1255.12" y="844.5" width="3.84" height="0.8" fill="#3c6f22"/>
<rect x="1258.96" y="847.0" width="3.84" height="12.5" fill="#4f8c2f"/>
<rect x="1258.96" y="847.0" width="0.8" height="12.5" fill="#3c6f22"/>
<rect x="1258.96" y="847.0" width="3.84" height="0.8" fill="#3c6f22"/>
<rect x="1262.80" y="831.3" width="3.84" height="28.2" fill="#4f8c2f"/>
<rect x="1262.80" y="831.3" width="0.8" height="28.2" fill="#3c6f22"/>
<rect x="1262.80" y="831.3" width="3.84" height="0.8" fill="#3c6f22"/>
<rect x="1266.63" y="780.5" width="3.84" height="79.0" fill="#4f8c2f"/>
<rect x="1266.63" y="780.5" width="0.8" height="79.0" fill="#3c6f22"/>
<rect x="1266.63" y="780.5" width="3.84" height="0.8" fill="#3c6f22"/>
<rect x="1270.47" y="821.3" width="3.84" height="38.2" fill="#4f8c2f"/>
<rect x="1270.47" y="821.3" width="0.8" height="38.2" fill="#3c6f22"/>
<rect x="1270.47" y="821.3" width="3.84" height="0.8" fill="#3c6f22"/>
<rect x="1274.31" y="832.5" width="3.84" height="27.0" fill="#4f8c2f"/>
<rect x="1274.31" y="832.5" width="0.8" height="27.0" fill="#3c6f22"/>
<rect x="1274.31" y="832.5" width="3.84" height="0.8" fill="#3c6f22"/>
<rect x="1278.14" y="830.0" width="3.84" height="29.5" fill="#ee4e4e"/>
<rect x="1278.14" y="830.0" width="0.8" height="29.5" fill="#b83232"/>
<rect x="1278.14" y="830.0" width="3.84" height="0.8" fill="#b83232"/>
<rect x="1281.98" y="816.3" width="3.84" height="43.2" fill="#4f8c2f"/>
<rect x="1281.98" y="816.3" width="0.8" height="43.2" fill="#3c6f22"/>
<rect x="1281.98" y="816.3" width="3.84" height="0.8" fill="#3c6f22"/>
<rect x="1285.82" y="804.5" width="3.84" height="55.0" fill="#4f8c2f"/>
<rect x="1285.82" y="804.5" width="0.8" height="55.0" fill="#3c6f22"/>
<rect x="1285.82" y="804.5" width="3.84" height="0.8" fill="#3c6f22"/>
<rect x="1289.65" y="818.3" width="3.84" height="41.2" fill="#4f8c2f"/>
<rect x="1289.65" y="818.3" width="0.8" height="41.2" fill="#3c6f22"/>
<rect x="1289.65" y="818.3" width="3.84" height="0.8" fill="#3c6f22"/>
<rect x="1293.49" y="838.3" width="3.84" height="21.2" fill="#4f8c2f"/>
<rect x="1293.49" y="838.3" width="0.8" height="21.2" fill="#3c6f22"/>
<rect x="1293.49" y="838.3" width="3.84" height="0.8" fill="#3c6f22"/>
<rect x="1297.33" y="827.0" width="3.84" height="32.5" fill="#4f8c2f"/>
<rect x="1297.33" y="827.0" width="0.8" height="32.5" fill="#3c6f22"/>
<rect x="1297.33" y="827.0" width="3.84" height="0.8" fill="#3c6f22"/>
<rect x="1301.16" y="837.5" width="3.84" height="22.0" fill="#ee4e4e"/>
<rect x="1301.16" y="837.5" width="0.8" height="22.0" fill="#b83232"/>
<rect x="1301.16" y="837.5" width="3.84" height="0.8" fill="#b83232"/>
<rect x="1305.00" y="839.3" width="3.84" height="20.2" fill="#4f8c2f"/>
<rect x="1305.00" y="839.3" width="0.8" height="20.2" fill="#3c6f22"/>
<rect x="1305.00" y="839.3" width="3.84" height="0.8" fill="#3c6f22"/>
<rect x="1308.84" y="846.3" width="3.84" height="13.2" fill="#ee4e4e"/>
<rect x="1308.84" y="846.3" width="0.8" height="13.2" fill="#b83232"/>
<rect x="1308.84" y="846.3" width="3.84" height="0.8" fill="#b83232"/>
<rect x="1312.67" y="830.5" width="3.84" height="29.0" fill="#4f8c2f"/>
<rect x="1312.67" y="830.5" width="0.8" height="29.0" fill="#3c6f22"/>
<rect x="1312.67" y="830.5" width="3.84" height="0.8" fill="#3c6f22"/>
<rect x="1316.51" y="827.5" width="3.84" height="32.0" fill="#ee4e4e"/>
<rect x="1316.51" y="827.5" width="0.8" height="32.0" fill="#b83232"/>
<rect x="1316.51" y="827.5" width="3.84" height="0.8" fill="#b83232"/>
<rect x="1320.35" y="833.0" width="3.84" height="26.5" fill="#ee4e4e"/>
<rect x="1320.35" y="833.0" width="0.8" height="26.5" fill="#b83232"/>
<rect x="1320.35" y="833.0" width="3.84" height="0.8" fill="#b83232"/>
<rect x="1324.19" y="829.3" width="3.84" height="30.2" fill="#ee4e4e"/>
<rect x="1324.19" y="829.3" width="0.8" height="30.2" fill="#b83232"/>
<rect x="1324.19" y="829.3" width="3.84" height="0.8" fill="#b83232"/>
<rect x="1328.02" y="843.3" width="3.84" height="16.2" fill="#4f8c2f"/>
<rect x="1328.02" y="843.3" width="0.8" height="16.2" fill="#3c6f22"/>
<rect x="1328.02" y="843.3" width="3.84" height="0.8" fill="#3c6f22"/>
<rect x="1331.86" y="816.3" width="3.84" height="43.2" fill="#ee4e4e"/>
<rect x="1331.86" y="816.3" width="0.8" height="43.2" fill="#b83232"/>
<rect x="1331.86" y="816.3" width="3.84" height="0.8" fill="#b83232"/>
<rect x="1335.70" y="794.5" width="3.84" height="65.0" fill="#ee4e4e"/>
<rect x="1335.70" y="794.5" width="0.8" height="65.0" fill="#b83232"/>
<rect x="1335.70" y="794.5" width="3.84" height="0.8" fill="#b83232"/>
<rect x="1339.53" y="822.5" width="3.84" height="37.0" fill="#ee4e4e"/>
<rect x="1339.53" y="822.5" width="0.8" height="37.0" fill="#b83232"/>
<rect x="1339.53" y="822.5" width="3.84" height="0.8" fill="#b83232"/>
<rect x="1343.37" y="823.8" width="3.84" height="35.7" fill="#4f8c2f"/>
<rect x="1343.37" y="823.8" width="0.8" height="35.7" fill="#3c6f22"/>
<rect x="1343.37" y="823.8" width="3.84" height="0.8" fill="#3c6f22"/>
<rect x="1347.21" y="836.3" width="3.84" height="23.2" fill="#4f8c2f"/>
<rect x="1347.21" y="836.3" width="0.8" height="23.2" fill="#3c6f22"/>
<rect x="1347.21" y="836.3" width="3.84" height="0.8" fill="#3c6f22"/>
<rect x="1351.04" y="842.0" width="3.84" height="17.5" fill="#4f8c2f"/>
<rect x="1351.04" y="842.0" width="0.8" height="17.5" fill="#3c6f22"/>
<rect x="1351.04" y="842.0" width="3.84" height="0.8" fill="#3c6f22"/>
<rect x="1354.88" y="760.5" width="3.84" height="99.0" fill="#ee4e4e"/>
<rect x="1354.88" y="760.5" width="0.8" height="99.0" fill="#b83232"/>
<rect x="1354.88" y="760.5" width="3.84" height="0.8" fill="#b83232"/>
<rect x="1358.72" y="785.0" width="3.84" height="74.5" fill="#ee4e4e"/>
<rect x="1358.72" y="785.0" width="0.8" height="74.5" fill="#b83232"/>
<rect x="1358.72" y="785.0" width="3.84" height="0.8" fill="#b83232"/>
<rect x="1362.55" y="812.1" width="3.84" height="47.4" fill="#4f8c2f"/>
<rect x="1362.55" y="812.1" width="0.8" height="47.4" fill="#3c6f22"/>
<rect x="1362.55" y="812.1" width="3.84" height="0.8" fill="#3c6f22"/>
<rect x="1366.39" y="835.0" width="3.84" height="24.5" fill="#4f8c2f"/>
<rect x="1366.39" y="835.0" width="0.8" height="24.5" fill="#3c6f22"/>
<rect x="1366.39" y="835.0" width="3.84" height="0.8" fill="#3c6f22"/>
<rect x="1370.23" y="804.4" width="3.84" height="55.1" fill="#ee4e4e"/>
<rect x="1370.23" y="804.4" width="0.8" height="55.1" fill="#b83232"/>
<rect x="1370.23" y="804.4" width="3.84" height="0.8" fill="#b83232"/>
<rect x="1374.06" y="829.5" width="3.84" height="30.0" fill="#4f8c2f"/>
<rect x="1374.06" y="829.5" width="0.8" height="30.0" fill="#3c6f22"/>
<rect x="1374.06" y="829.5" width="3.84" height="0.8" fill="#3c6f22"/>
<rect x="1377.90" y="824.2" width="3.84" height="35.3" fill="#4f8c2f"/>
<rect x="1377.90" y="824.2" width="0.8" height="35.3" fill="#3c6f22"/>
<rect x="1377.90" y="824.2" width="3.84" height="0.8" fill="#3c6f22"/>
<rect x="1381.74" y="825.2" width="3.84" height="34.3" fill="#ee4e4e"/>
<rect x="1381.74" y="825.2" width="0.8" height="34.3" fill="#b83232"/>
<rect x="1381.74" y="825.2" width="3.84" height="0.8" fill="#b83232"/>
<rect x="1385.57" y="821.3" width="3.84" height="38.2" fill="#ee4e4e"/>
<rect x="1385.57" y="821.3" width="0.8" height="38.2" fill="#b83232"/>
<rect x="1385.57" y="821.3" width="3.84" height="0.8" fill="#b83232"/>
<rect x="1389.41" y="837.2" width="3.84" height="22.3" fill="#4f8c2f"/>
<rect x="1389.41" y="837.2" width="0.8" height="22.3" fill="#3c6f22"/>
<rect x="1389.41" y="837.2" width="3.84" height="0.8" fill="#3c6f22"/>
<rect x="1393.25" y="837.2" width="3.84" height="22.3" fill="#4f8c2f"/>
<rect x="1393.25" y="837.2" width="0.8" height="22.3" fill="#3c6f22"/>
<rect x="1393.25" y="837.2" width="3.84" height="0.8" fill="#3c6f22"/>
<rect x="1397.08" y="839.1" width="3.84" height="20.4" fill="#ee4e4e"/>
<rect x="1397.08" y="839.1" width="0.8" height="20.4" fill="#b83232"/>
<rect x="1397.08" y="839.1" width="3.84" height="0.8" fill="#b83232"/>
<rect x="1400.92" y="825.2" width="3.84" height="34.3" fill="#4f8c2f"/>
<rect x="1400.92" y="825.2" width="0.8" height="34.3" fill="#3c6f22"/>
<rect x="1400.92" y="825.2" width="3.84" height="0.8" fill="#3c6f22"/>
<rect x="1404.76" y="840.3" width="3.84" height="19.2" fill="#4f8c2f"/>
<rect x="1404.76" y="840.3" width="0.8" height="19.2" fill="#3c6f22"/>
<rect x="1404.76" y="840.3" width="3.84" height="0.8" fill="#3c6f22"/>
<rect x="1408.59" y="831.0" width="3.84" height="28.5" fill="#ee4e4e"/>
<rect x="1408.59" y="831.0" width="0.8" height="28.5" fill="#b83232"/>
<rect x="1408.59" y="831.0" width="3.84" height="0.8" fill="#b83232"/>
<rect x="1412.43" y="828.1" width="3.84" height="31.4" fill="#ee4e4e"/>
<rect x="1412.43" y="828.1" width="0.8" height="31.4" fill="#b83232"/>
<rect x="1412.43" y="828.1" width="3.84" height="0.8" fill="#b83232"/>
<rect x="1416.27" y="818.1" width="3.84" height="41.4" fill="#4f8c2f"/>
<rect x="1416.27" y="818.1" width="0.8" height="41.4" fill="#3c6f22"/>
<rect x="1416.27" y="818.1" width="3.84" height="0.8" fill="#3c6f22"/>
<rect x="1420.11" y="830.4" width="3.84" height="29.1" fill="#ee4e4e"/>
<rect x="1420.11" y="830.4" width="0.8" height="29.1" fill="#b83232"/>
<rect x="1420.11" y="830.4" width="3.84" height="0.8" fill="#b83232"/>
<rect x="1423.94" y="828.1" width="3.84" height="31.4" fill="#4f8c2f"/>
<rect x="1423.94" y="828.1" width="0.8" height="31.4" fill="#3c6f22"/>
<rect x="1423.94" y="828.1" width="3.84" height="0.8" fill="#3c6f22"/>
<rect x="1427.78" y="833.9" width="3.84" height="25.6" fill="#4f8c2f"/>
<rect x="1427.78" y="833.9" width="0.8" height="25.6" fill="#3c6f22"/>
<rect x="1427.78" y="833.9" width="3.84" height="0.8" fill="#3c6f22"/>
<rect x="1431.62" y="838.7" width="3.84" height="20.8" fill="#4f8c2f"/>
<rect x="1431.62" y="838.7" width="0.8" height="20.8" fill="#3c6f22"/>
<rect x="1431.62" y="838.7" width="3.84" height="0.8" fill="#3c6f22"/>
<rect x="1435.45" y="831.4" width="3.84" height="28.1" fill="#ee4e4e"/>
<rect x="1435.45" y="831.4" width="0.8" height="28.1" fill="#b83232"/>
<rect x="1435.45" y="831.4" width="3.84" height="0.8" fill="#b83232"/>
<rect x="1439.29" y="843.2" width="3.84" height="16.3" fill="#4f8c2f"/>
<rect x="1439.29" y="843.2" width="0.8" height="16.3" fill="#3c6f22"/>
<rect x="1439.29" y="843.2" width="3.84" height="0.8" fill="#3c6f22"/>
<rect x="1443.13" y="816.5" width="3.84" height="43.0" fill="#ee4e4e"/>
<rect x="1443.13" y="816.5" width="0.8" height="43.0" fill="#b83232"/>
<rect x="1443.13" y="816.5" width="3.84" height="0.8" fill="#b83232"/>
<rect x="1446.96" y="780.4" width="3.84" height="79.1" fill="#ee4e4e"/>
<rect x="1446.96" y="780.4" width="0.8" height="79.1" fill="#b83232"/>
<rect x="1446.96" y="780.4" width="3.84" height="0.8" fill="#b83232"/>
<rect x="1450.80" y="827.5" width="3.84" height="32.0" fill="#ee4e4e"/>
<rect x="1450.80" y="827.5" width="0.8" height="32.0" fill="#b83232"/>
<rect x="1450.80" y="827.5" width="3.84" height="0.8" fill="#b83232"/>
<rect x="1454.64" y="832.9" width="3.84" height="26.6" fill="#4f8c2f"/>
<rect x="1454.64" y="832.9" width="0.8" height="26.6" fill="#3c6f22"/>
<rect x="1454.64" y="832.9" width="3.84" height="0.8" fill="#3c6f22"/>
<rect x="1458.47" y="837.2" width="3.84" height="22.3" fill="#ee4e4e"/>
<rect x="1458.47" y="837.2" width="0.8" height="22.3" fill="#b83232"/>
<rect x="1458.47" y="837.2" width="3.84" height="0.8" fill="#b83232"/>
<rect x="1462.31" y="829.1" width="3.84" height="30.4" fill="#ee4e4e"/>
<rect x="1462.31" y="829.1" width="0.8" height="30.4" fill="#b83232"/>
<rect x="1462.31" y="829.1" width="3.84" height="0.8" fill="#b83232"/>
<rect x="1466.15" y="778.5" width="3.84" height="81.0" fill="#ee4e4e"/>
<rect x="1466.15" y="778.5" width="0.8" height="81.0" fill="#b83232"/>
<rect x="1466.15" y="778.5" width="3.84" height="0.8" fill="#b83232"/>
<rect x="1469.98" y="799.7" width="3.84" height="59.8" fill="#ee4e4e"/>
<rect x="1469.98" y="799.7" width="0.8" height="59.8" fill="#b83232"/>
<rect x="1469.98" y="799.7" width="3.84" height="0.8" fill="#b83232"/>
<rect x="1473.82" y="799.1" width="3.84" height="60.4" fill="#4f8c2f"/>
<rect x="1473.82" y="799.1" width="0.8" height="60.4" fill="#3c6f22"/>
<rect x="1473.82" y="799.1" width="3.84" height="0.8" fill="#3c6f22"/>
<rect x="1477.66" y="821.3" width="3.84" height="38.2" fill="#4f8c2f"/>
<rect x="1477.66" y="821.3" width="0.8" height="38.2" fill="#3c6f22"/>
<rect x="1477.66" y="821.3" width="3.84" height="0.8" fill="#3c6f22"/>
<rect x="1481.49" y="838.3" width="3.84" height="21.2" fill="#ee4e4e"/>
<rect x="1481.49" y="838.3" width="0.8" height="21.2" fill="#b83232"/>
<rect x="1481.49" y="838.3" width="3.84" height="0.8" fill="#b83232"/>
<rect x="1485.33" y="841.2" width="3.84" height="18.3" fill="#ee4e4e"/>
<rect x="1485.33" y="841.2" width="0.8" height="18.3" fill="#b83232"/>
<rect x="1485.33" y="841.2" width="3.84" height="0.8" fill="#b83232"/>
<rect x="1489.17" y="827.1" width="3.84" height="32.4" fill="#4f8c2f"/>
<rect x="1489.17" y="827.1" width="0.8" height="32.4" fill="#3c6f22"/>
<rect x="1489.17" y="827.1" width="3.84" height="0.8" fill="#3c6f22"/>
<rect x="1493.00" y="828.1" width="3.84" height="31.4" fill="#4f8c2f"/>
<rect x="1493.00" y="828.1" width="0.8" height="31.4" fill="#3c6f22"/>
<rect x="1493.00" y="828.1" width="3.84" height="0.8" fill="#3c6f22"/>
<rect x="1496.84" y="845.1" width="3.84" height="14.4" fill="#ee4e4e"/>
<rect x="1496.84" y="845.1" width="0.8" height="14.4" fill="#b83232"/>
<rect x="1496.84" y="845.1" width="3.84" height="0.8" fill="#b83232"/>
<rect x="1500.68" y="846.1" width="3.84" height="13.4" fill="#4f8c2f"/>
<rect x="1500.68" y="846.1" width="0.8" height="13.4" fill="#3c6f22"/>
<rect x="1500.68" y="846.1" width="3.84" height="0.8" fill="#3c6f22"/>
<rect x="1504.51" y="838.3" width="3.84" height="21.2" fill="#ee4e4e"/>
<rect x="1504.51" y="838.3" width="0.8" height="21.2" fill="#b83232"/>
<rect x="1504.51" y="838.3" width="3.84" height="0.8" fill="#b83232"/>
<rect x="1508.35" y="844.1" width="3.84" height="15.4" fill="#4f8c2f"/>
<rect x="1508.35" y="844.1" width="0.8" height="15.4" fill="#3c6f22"/>
<rect x="1508.35" y="844.1" width="3.84" height="0.8" fill="#3c6f22"/>
<rect x="1512.19" y="828.1" width="3.84" height="31.4" fill="#4f8c2f"/>
<rect x="1512.19" y="828.1" width="0.8" height="31.4" fill="#3c6f22"/>
<rect x="1512.19" y="828.1" width="3.84" height="0.8" fill="#3c6f22"/>
<rect x="1516.03" y="831.0" width="3.84" height="28.5" fill="#4f8c2f"/>
<rect x="1516.03" y="831.0" width="0.8" height="28.5" fill="#3c6f22"/>
<rect x="1516.03" y="831.0" width="3.84" height="0.8" fill="#3c6f22"/>
<rect x="1519.86" y="798.2" width="3.84" height="61.3" fill="#4f8c2f"/>
<rect x="1519.86" y="798.2" width="0.8" height="61.3" fill="#3c6f22"/>
<rect x="1519.86" y="798.2" width="3.84" height="0.8" fill="#3c6f22"/>
<rect x="1523.70" y="846.1" width="3.84" height="13.4" fill="#ee4e4e"/>
<rect x="1523.70" y="846.1" width="0.8" height="13.4" fill="#b83232"/>
<rect x="1523.70" y="846.1" width="3.84" height="0.8" fill="#b83232"/>
<rect x="1527.54" y="840.3" width="3.84" height="19.2" fill="#4f8c2f"/>
<rect x="1527.54" y="840.3" width="0.8" height="19.2" fill="#3c6f22"/>
<rect x="1527.54" y="840.3" width="3.84" height="0.8" fill="#3c6f22"/>
<rect x="1531.37" y="847.0" width="3.84" height="12.5" fill="#ee4e4e"/>
<rect x="1531.37" y="847.0" width="0.8" height="12.5" fill="#b83232"/>
<rect x="1531.37" y="847.0" width="3.84" height="0.8" fill="#b83232"/>
<rect x="1535.21" y="840.3" width="3.84" height="19.2" fill="#ee4e4e"/>
<rect x="1535.21" y="840.3" width="0.8" height="19.2" fill="#b83232"/>
<rect x="1535.21" y="840.3" width="3.84" height="0.8" fill="#b83232"/>
<rect x="1539.05" y="844.1" width="3.84" height="15.4" fill="#4f8c2f"/>
<rect x="1539.05" y="844.1" width="0.8" height="15.4" fill="#3c6f22"/>
<rect x="1539.05" y="844.1" width="3.84" height="0.8" fill="#3c6f22"/>
<rect x="1542.88" y="849.9" width="3.84" height="9.6" fill="#4f8c2f"/>
<rect x="1542.88" y="849.9" width="0.8" height="9.6" fill="#3c6f22"/>
<rect x="1542.88" y="849.9" width="3.84" height="0.8" fill="#3c6f22"/>
<rect x="1546.72" y="845.1" width="3.84" height="14.4" fill="#4f8c2f"/>
<rect x="1546.72" y="845.1" width="0.8" height="14.4" fill="#3c6f22"/>
<rect x="1546.72" y="845.1" width="3.84" height="0.8" fill="#3c6f22"/>
<rect x="1550.56" y="844.1" width="3.84" height="15.4" fill="#ee4e4e"/>
<rect x="1550.56" y="844.1" width="0.8" height="15.4" fill="#b83232"/>
<rect x="1550.56" y="844.1" width="3.84" height="0.8" fill="#b83232"/>
<rect x="1554.39" y="841.2" width="3.84" height="18.3" fill="#ee4e4e"/>
<rect x="1554.39" y="841.2" width="0.8" height="18.3" fill="#b83232"/>
<rect x="1554.39" y="841.2" width="3.84" height="0.8" fill="#b83232"/>
<rect x="1558.23" y="839.3" width="3.84" height="20.2" fill="#ee4e4e"/>
<rect x="1558.23" y="839.3" width="0.8" height="20.2" fill="#b83232"/>
<rect x="1558.23" y="839.3" width="3.84" height="0.8" fill="#b83232"/>
<rect x="1562.07" y="835.3" width="3.84" height="24.2" fill="#4f8c2f"/>
<rect x="1562.07" y="835.3" width="0.8" height="24.2" fill="#3c6f22"/>
<rect x="1562.07" y="835.3" width="3.84" height="0.8" fill="#3c6f22"/>
<rect x="1565.90" y="848.0" width="3.84" height="11.5" fill="#ee4e4e"/>
<rect x="1565.90" y="848.0" width="0.8" height="11.5" fill="#b83232"/>
<rect x="1565.90" y="848.0" width="3.84" height="0.8" fill="#b83232"/>
<rect x="1569.74" y="844.1" width="3.84" height="15.4" fill="#4f8c2f"/>
<rect x="1569.74" y="844.1" width="0.8" height="15.4" fill="#3c6f22"/>
<rect x="1569.74" y="844.1" width="3.84" height="0.8" fill="#3c6f22"/>
<rect x="1573.58" y="837.2" width="3.84" height="22.3" fill="#4f8c2f"/>
<rect x="1573.58" y="837.2" width="0.8" height="22.3" fill="#3c6f22"/>
<rect x="1573.58" y="837.2" width="3.84" height="0.8" fill="#3c6f22"/>
<rect x="1577.41" y="846.1" width="3.84" height="13.4" fill="#ee4e4e"/>
<rect x="1577.41" y="846.1" width="0.8" height="13.4" fill="#b83232"/>
<rect x="1577.41" y="846.1" width="3.84" height="0.8" fill="#b83232"/>
<rect x="1581.25" y="830.4" width="3.84" height="29.1" fill="#4f8c2f"/>
<rect x="1581.25" y="830.4" width="0.8" height="29.1" fill="#3c6f22"/>
<rect x="1581.25" y="830.4" width="3.84" height="0.8" fill="#3c6f22"/>
<rect x="1585.09" y="831.4" width="3.84" height="28.1" fill="#ee4e4e"/>
<rect x="1585.09" y="831.4" width="0.8" height="28.1" fill="#b83232"/>
<rect x="1585.09" y="831.4" width="3.84" height="0.8" fill="#b83232"/>
<rect x="1588.92" y="827.1" width="3.84" height="32.4" fill="#ee4e4e"/>
<rect x="1588.92" y="827.1" width="0.8" height="32.4" fill="#b83232"/>
<rect x="1588.92" y="827.1" width="3.84" height="0.8" fill="#b83232"/>
<rect x="1592.76" y="848.4" width="3.84" height="11.1" fill="#4f8c2f"/>
<rect x="1592.76" y="848.4" width="0.8" height="11.1" fill="#3c6f22"/>
<rect x="1592.76" y="848.4" width="3.84" height="0.8" fill="#3c6f22"/>
<rect x="1596.60" y="845.1" width="3.84" height="14.4" fill="#4f8c2f"/>
<rect x="1596.60" y="845.1" width="0.8" height="14.4" fill="#3c6f22"/>
<rect x="1596.60" y="845.1" width="3.84" height="0.8" fill="#3c6f22"/>
<rect x="1600.43" y="845.1" width="3.84" height="14.4" fill="#4f8c2f"/>
<rect x="1600.43" y="845.1" width="0.8" height="14.4" fill="#3c6f22"/>
<rect x="1600.43" y="845.1" width="3.84" height="0.8" fill="#3c6f22"/>
<rect x="1604.27" y="836.2" width="3.84" height="23.3" fill="#4f8c2f"/>
<rect x="1604.27" y="836.2" width="0.8" height="23.3" fill="#3c6f22"/>
<rect x="1604.27" y="836.2" width="3.84" height="0.8" fill="#3c6f22"/>
<rect x="1608.11" y="839.3" width="3.84" height="20.2" fill="#ee4e4e"/>
<rect x="1608.11" y="839.3" width="0.8" height="20.2" fill="#b83232"/>
<rect x="1608.11" y="839.3" width="3.84" height="0.8" fill="#b83232"/>
<rect x="1611.95" y="837.2" width="3.84" height="22.3" fill="#4f8c2f"/>
<rect x="1611.95" y="837.2" width="0.8" height="22.3" fill="#3c6f22"/>
<rect x="1611.95" y="837.2" width="3.84" height="0.8" fill="#3c6f22"/>
<rect x="1615.78" y="746.0" width="3.84" height="113.5" fill="#4f8c2f"/>
<rect x="1615.78" y="746.0" width="0.8" height="113.5" fill="#3c6f22"/>
<rect x="1615.78" y="746.0" width="3.84" height="0.8" fill="#3c6f22"/>
<rect x="1619.62" y="814.2" width="3.84" height="45.3" fill="#ee4e4e"/>
<rect x="1619.62" y="814.2" width="0.8" height="45.3" fill="#b83232"/>
<rect x="1619.62" y="814.2" width="3.84" height="0.8" fill="#b83232"/>
<rect x="1623.46" y="833.9" width="3.84" height="25.6" fill="#ee4e4e"/>
<rect x="1623.46" y="833.9" width="0.8" height="25.6" fill="#b83232"/>
<rect x="1623.46" y="833.9" width="3.84" height="0.8" fill="#b83232"/>
<rect x="1627.29" y="840.3" width="3.84" height="19.2" fill="#4f8c2f"/>
<rect x="1627.29" y="840.3" width="0.8" height="19.2" fill="#3c6f22"/>
<rect x="1627.29" y="840.3" width="3.84" height="0.8" fill="#3c6f22"/>
<rect x="1631.13" y="834.3" width="3.84" height="25.2" fill="#4f8c2f"/>
<rect x="1631.13" y="834.3" width="0.8" height="25.2" fill="#3c6f22"/>
<rect x="1631.13" y="834.3" width="3.84" height="0.8" fill="#3c6f22"/>
<rect x="1634.97" y="843.2" width="3.84" height="16.3" fill="#4f8c2f"/>
<rect x="1634.97" y="843.2" width="0.8" height="16.3" fill="#3c6f22"/>
<rect x="1634.97" y="843.2" width="3.84" height="0.8" fill="#3c6f22"/>
<rect x="1638.80" y="835.3" width="3.84" height="24.2" fill="#4f8c2f"/>
<rect x="1638.80" y="835.3" width="0.8" height="24.2" fill="#3c6f22"/>
<rect x="1638.80" y="835.3" width="3.84" height="0.8" fill="#3c6f22"/>
<rect x="1642.64" y="832.0" width="3.84" height="27.5" fill="#ee4e4e"/>
<rect x="1642.64" y="832.0" width="0.8" height="27.5" fill="#b83232"/>
<rect x="1642.64" y="832.0" width="3.84" height="0.8" fill="#b83232"/>
<rect x="1646.48" y="832.4" width="3.84" height="27.1" fill="#4f8c2f"/>
<rect x="1646.48" y="832.4" width="0.8" height="27.1" fill="#3c6f22"/>
<rect x="1646.48" y="832.4" width="3.84" height="0.8" fill="#3c6f22"/>
<rect x="1650.31" y="844.1" width="3.84" height="15.4" fill="#4f8c2f"/>
<rect x="1650.31" y="844.1" width="0.8" height="15.4" fill="#3c6f22"/>
<rect x="1650.31" y="844.1" width="3.84" height="0.8" fill="#3c6f22"/>
<rect x="1654.15" y="837.2" width="3.84" height="22.3" fill="#4f8c2f"/>
<rect x="1654.15" y="837.2" width="0.8" height="22.3" fill="#3c6f22"/>
<rect x="1654.15" y="837.2" width="3.84" height="0.8" fill="#3c6f22"/>
<rect x="1657.99" y="837.2" width="3.84" height="22.3" fill="#ee4e4e"/>
<rect x="1657.99" y="837.2" width="0.8" height="22.3" fill="#b83232"/>
<rect x="1657.99" y="837.2" width="3.84" height="0.8" fill="#b83232"/>
<rect x="1661.82" y="838.3" width="3.84" height="21.2" fill="#ee4e4e"/>
<rect x="1661.82" y="838.3" width="0.8" height="21.2" fill="#b83232"/>
<rect x="1661.82" y="838.3" width="3.84" height="0.8" fill="#b83232"/>
<rect x="1665.66" y="840.3" width="3.84" height="19.2" fill="#4f8c2f"/>
<rect x="1665.66" y="840.3" width="0.8" height="19.2" fill="#3c6f22"/>
<rect x="1665.66" y="840.3" width="3.84" height="0.8" fill="#3c6f22"/>
<polyline points="3.9,828.7 17.4,831.0 29.0,823.3 44.4,813.6 56.0,794.3 63.7,788.5 81.0,783.7 92.7,772.7 100.4,776.0 114.0,777.9 123.6,784.6 131.4,793.3 143.0,798.2 154.5,799.1 166.0,807.8 177.7,815.6 189.3,818.5 202.8,823.3 214.4,832.0 224.0,831.0 235.7,832.0 243.4,825.2 253.0,824.2 260.8,826.2 270.4,821.3 284.0,818.5 295.5,819.0 305.2,822.3 316.8,822.9 328.4,828.1 340.0,826.8 350.0,828.1 361.2,828.1 372.8,825.2 382.5,819.4 392.2,814.6 401.8,809.8 411.5,802.0 421.1,795.9 430.8,791.4 440.4,781.8 450.1,776.0 457.8,777.9 465.6,780.8 475.2,781.8 484.9,786.6 494.5,797.2 503.2,803.0 510.0,800.5 515.8,806.9 523.5,810.7 533.2,811.3 544.8,811.3 550.5,806.9 560.2,805.9 567.9,800.1 579.5,797.2 587.2,804.0 596.9,805.9 606.6,808.8 620.1,808.8 629.7,813.6 641.3,818.5 652.9,824.2 664.5,824.8 678.0,825.2 687.7,829.1 697.4,826.8 718.6,826.2 736.0,826.8 743.7,828.3 751.5,827.5 757.3,824.2 765.0,824.8 772.7,826.8 782.4,826.8 794.0,828.1 805.6,828.7 815.2,830.6 822.9,829.5 832.6,831.0 848.0,831.0 861.6,832.6 873.2,832.0 882.8,829.5 890.5,823.3 898.3,824.2 904.0,826.2 915.7,827.1 931.1,827.5 942.7,827.5 952.4,829.1 958.2,826.2 965.9,828.1 969.7,831.0 977.5,826.2 985.2,821.3 992.9,821.0 1004.5,819.0 1012.2,815.6 1021.9,813.6 1030.0,811.3 1042.5,816.3 1052.5,817.5 1062.5,818.0 1071.3,820.0 1080.0,812.5 1090.0,803.8 1100.0,792.5 1110.0,785.0 1120.0,779.5 1127.5,779.5 1137.5,783.8 1147.5,783.0 1156.3,790.0 1165.0,796.3 1172.5,801.3 1180.0,815.0 1190.0,818.0 1200.0,820.0 1215.0,819.5 1227.5,822.0 1240.0,822.0 1250.0,825.0 1265.0,829.5 1280.0,828.8 1292.5,826.3 1305.0,827.0 1320.0,827.5 1330.0,826.3 1340.0,822.5 1350.0,826.3 1358.8,820.5 1370.0,822.0 1373.2,821.0 1386.7,819.0 1398.3,820.4 1406.0,819.0 1413.7,822.3 1427.3,821.7 1435.0,826.8 1440.8,829.1 1446.6,827.1 1460.1,828.3 1467.8,824.8 1475.6,820.6 1487.1,821.3 1496.8,822.9 1506.5,824.2 1514.2,823.7 1521.9,822.3 1527.7,826.2 1537.4,827.5 1545.1,832.9 1552.8,836.8 1562.5,837.8 1570.2,839.1 1577.9,837.8 1585.7,836.8 1597.2,840.3 1608.8,840.3 1616.6,834.9 1622.4,832.9 1634.0,832.6 1647.5,830.4 1655.2,830.4 1666.8,832.6" fill="none" stroke="#3f9fd6" stroke-width="1.2" stroke-linejoin="round"/>
<line x1="568" y1="167.5" x2="1444" y2="167.5" stroke="#1c1c7c" stroke-width="1.25"/>
<line x1="428" y1="182.5" x2="1508" y2="182.5" stroke="#1c1c7c" stroke-width="1.25"/>
<line x1="465" y1="227.5" x2="1597" y2="227.5" stroke="#1c1c7c" stroke-width="1.25"/>
<line x1="404" y1="259.5" x2="1708" y2="259.5" stroke="#1c1c7c" stroke-width="1.25"/>
<line x1="407.8" y1="377.4" x2="1762" y2="377.4" stroke="#3a32c4" stroke-width="1.3"/>
<line x1="434.6" y1="439.3" x2="1762" y2="439.3" stroke="#3a32c4" stroke-width="1.3"/>
<line x1="4" y1="297.6" x2="1763" y2="297.6" stroke="#4aa87a" stroke-width="1" stroke-dasharray="1.5 1.5"/>
<line x1="978.5" y1="158.3" x2="1762" y2="295.9" stroke="#e070e4" stroke-width="1.3" stroke-dasharray="4.5 6.2"/>
<line x1="457.6" y1="377.4" x2="528.5" y2="439.5" stroke="#1616b8" stroke-width="2.1" stroke-dasharray="10 12"/>
<line x1="528.5" y1="439.5" x2="802.4" y2="187.4" stroke="#1616b8" stroke-width="2.1" stroke-dasharray="10 12"/>
<line x1="802.4" y1="187.4" x2="1162" y2="301.5" stroke="#1616b8" stroke-width="2.1" stroke-dasharray="10 12"/>
<line x1="1162" y1="301.5" x2="1705" y2="306" stroke="#1616b8" stroke-width="2.1" stroke-dasharray="10 12"/>
<line x1="4" y1="767.5" x2="1282.2" y2="60.3" stroke="#dc1a20" stroke-width="2.3"/>
<path d="M4 672.7 Q883 530.5 1762 370.5" fill="none" stroke="#000000" stroke-width="2.3"/>
<line x1="4" y1="775" x2="1762" y2="569.1" stroke="#8a14d8" stroke-width="2.3"/>
<path d="M738 860 Q1250 742.3 1762 613.7" fill="none" stroke="#000000" stroke-width="2.3"/>
<rect x="4" y="650.0" width="1" height="15.0" fill="#111"/>
<rect x="3.4" y="656.0" width="2.2" height="3.0" fill="#5c8c6e" stroke="#111" stroke-width="1"/>
<rect x="8" y="654.6" width="1" height="11.9" fill="#111"/>
<rect x="7.4" y="656.0" width="2.2" height="2.0" fill="#9a464e" stroke="#111" stroke-width="1"/>
<rect x="12" y="655.0" width="1" height="8.5" fill="#111"/>
<rect x="11.4" y="657.0" width="2.2" height="2.0" fill="#9a464e" stroke="#111" stroke-width="1"/>
<rect x="16" y="645.0" width="1" height="16.0" fill="#111"/>
<rect x="15.4" y="648.6" width="2.2" height="10.9" fill="#5c8c6e" stroke="#111" stroke-width="1"/>
<rect x="20" y="617.5" width="1" height="34.1" fill="#111"/>
<rect x="19.4" y="626.5" width="2.2" height="22.1" fill="#5c8c6e" stroke="#111" stroke-width="1"/>
<rect x="24" y="577.0" width="1" height="70.0" fill="#111"/>
<rect x="23.4" y="626.5" width="2.2" height="19.1" fill="#9a464e" stroke="#111" stroke-width="1"/>
<rect x="27" y="601.6" width="1" height="44.4" fill="#111"/>
<rect x="26.4" y="605.0" width="2.2" height="40.0" fill="#5c8c6e" stroke="#111" stroke-width="1"/>
<rect x="31" y="585.5" width="1" height="21.5" fill="#111"/>
<rect x="30.4" y="594.0" width="2.2" height="11.6" fill="#5c8c6e" stroke="#111" stroke-width="1"/>
<rect x="35" y="578.4" width="1" height="21.3" fill="#111"/>
<rect x="34.4" y="584.0" width="2.2" height="9.7" fill="#5c8c6e" stroke="#111" stroke-width="1"/>
<rect x="39" y="550.5" width="1" height="34.5" fill="#111"/>
<rect x="38.4" y="553.0" width="2.2" height="31.3" fill="#5c8c6e" stroke="#111" stroke-width="1"/>
<rect x="43" y="534.0" width="1" height="88.8" fill="#111"/>
<rect x="42.4" y="553.0" width="2.2" height="29.5" fill="#9a464e" stroke="#111" stroke-width="1"/>
<rect x="47" y="569.0" width="1" height="49.0" fill="#111"/>
<rect x="46.4" y="582.0" width="2.2" height="18.0" fill="#9a464e" stroke="#111" stroke-width="1"/>
<rect x="50" y="593.4" width="1" height="106.6" fill="#111"/>
<rect x="49.4" y="602.0" width="2.2" height="92.8" fill="#9a464e" stroke="#111" stroke-width="1"/>
<rect x="54" y="635.0" width="1" height="67.7" fill="#111"/>
<rect x="53.4" y="639.0" width="2.2" height="55.8" fill="#5c8c6e" stroke="#111" stroke-width="1"/>
<rect x="58" y="622.5" width="1" height="70.0" fill="#111"/>
<rect x="57.4" y="639.0" width="2.2" height="31.5" fill="#9a464e" stroke="#111" stroke-width="1"/>
<rect x="62" y="610.0" width="1" height="71.8" fill="#111"/>
<rect x="61.4" y="612.0" width="2.2" height="58.5" fill="#5c8c6e" stroke="#111" stroke-width="1"/>
<rect x="66" y="610.0" width="1" height="22.0" fill="#111"/>
<rect x="65.4" y="612.0" width="2.2" height="3.0" fill="#9a464e" stroke="#111" stroke-width="1"/>
<rect x="70" y="604.0" width="1" height="35.0" fill="#111"/>
<rect x="69.4" y="615.0" width="2.2" height="10.7" fill="#9a464e" stroke="#111" stroke-width="1"/>
<rect x="73" y="622.0" width="1" height="43.7" fill="#111"/>
<rect x="72.4" y="625.0" width="2.2" height="19.6" fill="#9a464e" stroke="#111" stroke-width="1"/>
<rect x="77" y="624.0" width="1" height="31.6" fill="#111"/>
<rect x="76" y="644.2" width="3" height="1.2" fill="#111"/>
<rect x="81" y="639.0" width="1" height="64.7" fill="#111"/>
<rect x="80.4" y="645.0" width="2.2" height="37.4" fill="#9a464e" stroke="#111" stroke-width="1"/>
<rect x="85" y="666.0" width="1" height="92.7" fill="#111"/>
<rect x="84.4" y="682.4" width="2.2" height="55.1" fill="#9a464e" stroke="#111" stroke-width="1"/>
<rect x="89" y="700.0" width="1" height="58.7" fill="#111"/>
<rect x="88.4" y="728.0" width="2.2" height="9.5" fill="#5c8c6e" stroke="#111" stroke-width="1"/>
<rect x="93" y="691.0" width="1" height="42.7" fill="#111"/>
<rect x="92.4" y="694.4" width="2.2" height="33.6" fill="#5c8c6e" stroke="#111" stroke-width="1"/>
<rect x="96" y="662.0" width="1" height="37.7" fill="#111"/>
<rect x="95.4" y="667.0" width="2.2" height="27.0" fill="#5c8c6e" stroke="#111" stroke-width="1"/>
<rect x="100" y="663.0" width="1" height="43.7" fill="#111"/>
<rect x="99.4" y="668.4" width="2.2" height="15.2" fill="#9a464e" stroke="#111" stroke-width="1"/>
<rect x="104" y="642.0" width="1" height="43.0" fill="#111"/>
<rect x="103.4" y="657.5" width="2.2" height="26.1" fill="#5c8c6e" stroke="#111" stroke-width="1"/>
<rect x="108" y="645.0" width="1" height="38.6" fill="#111"/>
<rect x="107.4" y="658.0" width="2.2" height="15.5" fill="#9a464e" stroke="#111" stroke-width="1"/>
<rect x="112" y="668.0" width="1" height="24.5" fill="#111"/>
<rect x="111.4" y="673.0" width="2.2" height="8.4" fill="#9a464e" stroke="#111" stroke-width="1"/>
<rect x="116" y="659.0" width="1" height="32.8" fill="#111"/>
<rect x="115.4" y="680.0" width="2.2" height="8.4" fill="#9a464e" stroke="#111" stroke-width="1"/>
<rect x="119" y="680.6" width="1" height="25.4" fill="#111"/>
<rect x="118.4" y="688.4" width="2.2" height="3.6" fill="#9a464e" stroke="#111" stroke-width="1"/>
<rect x="123" y="645.0" width="1" height="48.0" fill="#111"/>
<rect x="122.4" y="648.0" width="2.2" height="43.8" fill="#5c8c6e" stroke="#111" stroke-width="1"/>
<rect x="127" y="645.0" width="1" height="25.0" fill="#111"/>
<rect x="126.4" y="648.0" width="2.2" height="5.0" fill="#9a464e" stroke="#111" stroke-width="1"/>
<rect x="131" y="590.0" width="1" height="64.0" fill="#111"/>
<rect x="130.4" y="595.0" width="2.2" height="58.0" fill="#5c8c6e" stroke="#111" stroke-width="1"/>
<rect x="135" y="587.0" width="1" height="28.0" fill="#111"/>
<rect x="134.4" y="595.0" width="2.2" height="11.0" fill="#9a464e" stroke="#111" stroke-width="1"/>
<rect x="139" y="590.0" width="1" height="24.0" fill="#111"/>
<rect x="138.4" y="606.0" width="2.2" height="6.6" fill="#9a464e" stroke="#111" stroke-width="1"/>
<rect x="142" y="597.4" width="1" height="15.6" fill="#111"/>
<rect x="141.4" y="605.6" width="2.2" height="6.4" fill="#5c8c6e" stroke="#111" stroke-width="1"/>
<rect x="146" y="572.0" width="1" height="35.0" fill="#111"/>
<rect x="145.4" y="578.4" width="2.2" height="28.0" fill="#5c8c6e" stroke="#111" stroke-width="1"/>
<rect x="150" y="572.4" width="1" height="20.3" fill="#111"/>
<rect x="149" y="578.2" width="3" height="1.2" fill="#111"/>
<rect x="154" y="555.0" width="1" height="27.0" fill="#111"/>
<rect x="153.4" y="562.4" width="2.2" height="17.9" fill="#5c8c6e" stroke="#111" stroke-width="1"/>
<rect x="158" y="561.4" width="1" height="18.2" fill="#111"/>
<rect x="157.4" y="563.0" width="2.2" height="13.0" fill="#9a464e" stroke="#111" stroke-width="1"/>
<rect x="162" y="573.0" width="1" height="24.7" fill="#111"/>
<rect x="161" y="575.2" width="3" height="1.2" fill="#111"/>
<rect x="165" y="569.0" width="1" height="13.5" fill="#111"/>
<rect x="164.4" y="573.0" width="2.2" height="3.0" fill="#5c8c6e" stroke="#111" stroke-width="1"/>
<rect x="169" y="555.0" width="1" height="24.6" fill="#111"/>
<rect x="168.4" y="556.0" width="2.2" height="16.4" fill="#5c8c6e" stroke="#111" stroke-width="1"/>
<rect x="173" y="553.0" width="1" height="27.8" fill="#111"/>
<rect x="172.4" y="556.0" width="2.2" height="14.6" fill="#9a464e" stroke="#111" stroke-width="1"/>
<rect x="177" y="557.0" width="1" height="18.0" fill="#111"/>
<rect x="176" y="569.2" width="3" height="1.2" fill="#111"/>
<rect x="181" y="562.4" width="1" height="31.3" fill="#111"/>
<rect x="180.4" y="569.0" width="2.2" height="21.0" fill="#9a464e" stroke="#111" stroke-width="1"/>
<rect x="185" y="574.0" width="1" height="18.0" fill="#111"/>
<rect x="184.4" y="577.0" width="2.2" height="14.0" fill="#5c8c6e" stroke="#111" stroke-width="1"/>
<rect x="188" y="568.0" width="1" height="13.0" fill="#111"/>
<rect x="187.4" y="575.0" width="2.2" height="2.6" fill="#5c8c6e" stroke="#111" stroke-width="1"/>
<rect x="192" y="564.0" width="1" height="15.6" fill="#111"/>
<rect x="191.4" y="564.7" width="2.2" height="10.7" fill="#5c8c6e" stroke="#111" stroke-width="1"/>
<rect x="196" y="563.0" width="1" height="15.0" fill="#111"/>
<rect x="195.4" y="564.0" width="2.2" height="13.0" fill="#9a464e" stroke="#111" stroke-width="1"/>
<rect x="200" y="568.0" width="1" height="18.7" fill="#111"/>
<rect x="199" y="576.6" width="3" height="1.2" fill="#111"/>
<rect x="204" y="570.0" width="1" height="12.5" fill="#111"/>
<rect x="203.4" y="572.0" width="2.2" height="6.0" fill="#5c8c6e" stroke="#111" stroke-width="1"/>
<rect x="208" y="560.0" width="1" height="14.0" fill="#111"/>
<rect x="207.4" y="564.0" width="2.2" height="9.0" fill="#5c8c6e" stroke="#111" stroke-width="1"/>
<rect x="212" y="555.0" width="1" height="15.6" fill="#111"/>
<rect x="211.4" y="555.7" width="2.2" height="8.3" fill="#5c8c6e" stroke="#111" stroke-width="1"/>
<rect x="215" y="554.0" width="1" height="10.0" fill="#111"/>
<rect x="214.4" y="555.7" width="2.2" height="7.3" fill="#9a464e" stroke="#111" stroke-width="1"/>
<rect x="219" y="517.0" width="1" height="47.0" fill="#111"/>
<rect x="218.4" y="519.0" width="2.2" height="44.0" fill="#5c8c6e" stroke="#111" stroke-width="1"/>
<rect x="223" y="501.0" width="1" height="25.7" fill="#111"/>
<rect x="222.4" y="515.0" width="2.2" height="4.7" fill="#5c8c6e" stroke="#111" stroke-width="1"/>
<rect x="227" y="504.0" width="1" height="21.0" fill="#111"/>
<rect x="226.4" y="510.0" width="2.2" height="5.6" fill="#5c8c6e" stroke="#111" stroke-width="1"/>
<rect x="231" y="508.5" width="1" height="11.0" fill="#111"/>
<rect x="230.4" y="511.0" width="2.2" height="7.6" fill="#9a464e" stroke="#111" stroke-width="1"/>
<rect x="235" y="510.0" width="1" height="10.5" fill="#111"/>
<rect x="234.4" y="511.0" width="2.2" height="8.7" fill="#5c8c6e" stroke="#111" stroke-width="1"/>
<rect x="238" y="504.0" width="1" height="90.5" fill="#111"/>
<rect x="237.4" y="511.5" width="2.2" height="66.9" fill="#9a464e" stroke="#111" stroke-width="1"/>
<rect x="242" y="554.0" width="1" height="79.0" fill="#111"/>
<rect x="241.4" y="554.7" width="2.2" height="23.7" fill="#5c8c6e" stroke="#111" stroke-width="1"/>
<rect x="246" y="527.0" width="1" height="29.0" fill="#111"/>
<rect x="245.4" y="538.3" width="2.2" height="17.1" fill="#5c8c6e" stroke="#111" stroke-width="1"/>
<rect x="250" y="536.5" width="1" height="17.5" fill="#111"/>
<rect x="249.4" y="537.5" width="2.2" height="4.5" fill="#9a464e" stroke="#111" stroke-width="1"/>
<rect x="254" y="525.0" width="1" height="18.8" fill="#111"/>
<rect x="253.4" y="536.5" width="2.2" height="5.5" fill="#5c8c6e" stroke="#111" stroke-width="1"/>
<rect x="258" y="525.0" width="1" height="17.8" fill="#111"/>
<rect x="257.4" y="526.0" width="2.2" height="10.8" fill="#5c8c6e" stroke="#111" stroke-width="1"/>
<rect x="261" y="525.5" width="1" height="17.3" fill="#111"/>
<rect x="260.4" y="526.4" width="2.2" height="14.1" fill="#9a464e" stroke="#111" stroke-width="1"/>
<rect x="265" y="539.0" width="1" height="23.9" fill="#111"/>
<rect x="264.4" y="539.8" width="2.2" height="15.6" fill="#9a464e" stroke="#111" stroke-width="1"/>
<rect x="269" y="546.5" width="1" height="27.5" fill="#111"/>
<rect x="268.4" y="552.4" width="2.2" height="3.0" fill="#5c8c6e" stroke="#111" stroke-width="1"/>
<rect x="273" y="534.0" width="1" height="20.7" fill="#111"/>
<rect x="272.4" y="541.3" width="2.2" height="11.1" fill="#5c8c6e" stroke="#111" stroke-width="1"/>
<rect x="277" y="540.5" width="1" height="13.5" fill="#111"/>
<rect x="276.4" y="541.3" width="2.2" height="9.7" fill="#9a464e" stroke="#111" stroke-width="1"/>
<rect x="281" y="549.5" width="1" height="16.3" fill="#111"/>
<rect x="280.4" y="550.2" width="2.2" height="6.3" fill="#9a464e" stroke="#111" stroke-width="1"/>
<rect x="284" y="525.0" width="1" height="32.0" fill="#111"/>
<rect x="283.4" y="532.3" width="2.2" height="24.2" fill="#5c8c6e" stroke="#111" stroke-width="1"/>
<rect x="288" y="521.5" width="1" height="17.1" fill="#111"/>
<rect x="287.4" y="522.2" width="2.2" height="10.4" fill="#5c8c6e" stroke="#111" stroke-width="1"/>
<rect x="292" y="519.0" width="1" height="11.0" fill="#111"/>
<rect x="291.4" y="522.2" width="2.2" height="6.4" fill="#9a464e" stroke="#111" stroke-width="1"/>
<rect x="296" y="517.0" width="1" height="13.8" fill="#111"/>
<rect x="295.4" y="524.6" width="2.2" height="4.8" fill="#5c8c6e" stroke="#111" stroke-width="1"/>
<rect x="300" y="523.0" width="1" height="13.0" fill="#111"/>
<rect x="299.4" y="524.0" width="2.2" height="6.0" fill="#9a464e" stroke="#111" stroke-width="1"/>
<rect x="304" y="504.3" width="1" height="26.2" fill="#111"/>
<rect x="303.4" y="505.8" width="2.2" height="23.9" fill="#5c8c6e" stroke="#111" stroke-width="1"/>
<rect x="307" y="504.3" width="1" height="13.7" fill="#111"/>
<rect x="306.4" y="506.3" width="2.2" height="8.9" fill="#9a464e" stroke="#111" stroke-width="1"/>
<rect x="311" y="514.5" width="1" height="14.5" fill="#111"/>
<rect x="310.4" y="515.2" width="2.2" height="2.2" fill="#9a464e" stroke="#111" stroke-width="1"/>
<rect x="315" y="495.0" width="1" height="26.0" fill="#111"/>
<rect x="314.4" y="510.3" width="2.2" height="7.1" fill="#5c8c6e" stroke="#111" stroke-width="1"/>
<rect x="319" y="501.0" width="1" height="12.0" fill="#111"/>
<rect x="318.4" y="508.2" width="2.2" height="2.5" fill="#5c8c6e" stroke="#111" stroke-width="1"/>
<rect x="323" y="507.5" width="1" height="23.3" fill="#111"/>
<rect x="322.4" y="508.2" width="2.2" height="13.7" fill="#9a464e" stroke="#111" stroke-width="1"/>
<rect x="327" y="509.0" width="1" height="13.5" fill="#111"/>
<rect x="326.4" y="515.2" width="2.2" height="6.7" fill="#5c8c6e" stroke="#111" stroke-width="1"/>
<rect x="330" y="507.0" width="1" height="9.0" fill="#111"/>
<rect x="329.4" y="512.2" width="2.2" height="3.0" fill="#5c8c6e" stroke="#111" stroke-width="1"/>
<rect x="334" y="510.0" width="1" height="14.9" fill="#111"/>
<rect x="333.4" y="512.2" width="2.2" height="10.5" fill="#9a464e" stroke="#111" stroke-width="1"/>
<rect x="338" y="500.5" width="1" height="22.8" fill="#111"/>
<rect x="337.4" y="501.4" width="2.2" height="21.3" fill="#5c8c6e" stroke="#111" stroke-width="1"/>
<rect x="342" y="473.0" width="1" height="31.8" fill="#111"/>
<rect x="341.4" y="475.7" width="2.2" height="25.7" fill="#5c8c6e" stroke="#111" stroke-width="1"/>
<rect x="346" y="471.5" width="1" height="13.2" fill="#111"/>
<rect x="345.4" y="472.5" width="2.2" height="4.0" fill="#5c8c6e" stroke="#111" stroke-width="1"/>
<rect x="350" y="459.0" width="1" height="16.0" fill="#111"/>
<rect x="349.4" y="465.3" width="2.2" height="7.5" fill="#5c8c6e" stroke="#111" stroke-width="1"/>
<rect x="353" y="454.9" width="1" height="14.1" fill="#111"/>
<rect x="352.4" y="459.0" width="2.2" height="6.6" fill="#5c8c6e" stroke="#111" stroke-width="1"/>
<rect x="357" y="435.0" width="1" height="37.8" fill="#111"/>
<rect x="356.4" y="453.0" width="2.2" height="6.4" fill="#5c8c6e" stroke="#111" stroke-width="1"/>
<rect x="361" y="441.0" width="1" height="15.4" fill="#111"/>
<rect x="360.4" y="449.0" width="2.2" height="4.6" fill="#5c8c6e" stroke="#111" stroke-width="1"/>
<rect x="365" y="440.2" width="1" height="30.8" fill="#111"/>
<rect x="364.4" y="449.2" width="2.2" height="20.6" fill="#9a464e" stroke="#111" stroke-width="1"/>
<rect x="369" y="449.0" width="1" height="29.0" fill="#111"/>
<rect x="368.4" y="456.0" width="2.2" height="13.5" fill="#5c8c6e" stroke="#111" stroke-width="1"/>
<rect x="373" y="421.5" width="1" height="35.0" fill="#111"/>
<rect x="372.4" y="422.3" width="2.2" height="33.5" fill="#5c8c6e" stroke="#111" stroke-width="1"/>
<rect x="376" y="412.0" width="1" height="26.7" fill="#111"/>
<rect x="375.4" y="413.1" width="2.2" height="9.5" fill="#5c8c6e" stroke="#111" stroke-width="1"/>
<rect x="380" y="384.4" width="1" height="31.2" fill="#111"/>
<rect x="379.4" y="390.3" width="2.2" height="23.8" fill="#5c8c6e" stroke="#111" stroke-width="1"/>
<rect x="384" y="359.8" width="1" height="39.9" fill="#111"/>
<rect x="383.4" y="369.5" width="2.2" height="20.8" fill="#5c8c6e" stroke="#111" stroke-width="1"/>
<rect x="388" y="365.0" width="1" height="48.7" fill="#111"/>
<rect x="387.4" y="369.5" width="2.2" height="14.9" fill="#9a464e" stroke="#111" stroke-width="1"/>
<rect x="392" y="350.0" width="1" height="36.0" fill="#111"/>
<rect x="391.4" y="358.3" width="2.2" height="26.5" fill="#5c8c6e" stroke="#111" stroke-width="1"/>
<rect x="396" y="349.0" width="1" height="21.5" fill="#111"/>
<rect x="395.4" y="353.5" width="2.2" height="4.8" fill="#5c8c6e" stroke="#111" stroke-width="1"/>
<rect x="400" y="334.5" width="1" height="24.1" fill="#111"/>
<rect x="399.4" y="336.0" width="2.2" height="17.5" fill="#5c8c6e" stroke="#111" stroke-width="1"/>
<rect x="403" y="329.0" width="1" height="57.6" fill="#111"/>
<rect x="402.4" y="336.3" width="2.2" height="45.1" fill="#9a464e" stroke="#111" stroke-width="1"/>
<rect x="407" y="279.0" width="1" height="104.0" fill="#111"/>
<rect x="406.4" y="280.0" width="2.2" height="101.8" fill="#5c8c6e" stroke="#111" stroke-width="1"/>
<rect x="411" y="271.3" width="1" height="11.7" fill="#111"/>
<rect x="410" y="279.1" width="3" height="1.2" fill="#111"/>
<rect x="415" y="260.0" width="1" height="71.5" fill="#111"/>
<rect x="414.4" y="276.5" width="2.2" height="4.0" fill="#5c8c6e" stroke="#111" stroke-width="1"/>
<rect x="419" y="253.4" width="1" height="46.6" fill="#111"/>
<rect x="418.4" y="275.4" width="2.2" height="8.1" fill="#9a464e" stroke="#111" stroke-width="1"/>
<rect x="423" y="238.5" width="1" height="52.9" fill="#111"/>
<rect x="422.4" y="249.7" width="2.2" height="33.8" fill="#5c8c6e" stroke="#111" stroke-width="1"/>
<rect x="426" y="209.5" width="1" height="44.2" fill="#111"/>
<rect x="425.4" y="211.0" width="2.2" height="38.7" fill="#5c8c6e" stroke="#111" stroke-width="1"/>
<rect x="430" y="182.7" width="1" height="37.3" fill="#111"/>
<rect x="429.4" y="187.0" width="2.2" height="24.4" fill="#5c8c6e" stroke="#111" stroke-width="1"/>
<rect x="434" y="186.0" width="1" height="101.6" fill="#111"/>
<rect x="433.4" y="187.0" width="2.2" height="44.4" fill="#9a464e" stroke="#111" stroke-width="1"/>
<rect x="438" y="217.4" width="1" height="140.1" fill="#111"/>
<rect x="437.4" y="231.4" width="2.2" height="48.1" fill="#9a464e" stroke="#111" stroke-width="1"/>
<rect x="442" y="234.3" width="1" height="87.3" fill="#111"/>
<rect x="441.4" y="253.4" width="2.2" height="26.1" fill="#5c8c6e" stroke="#111" stroke-width="1"/>
<rect x="446" y="245.2" width="1" height="75.4" fill="#111"/>
<rect x="445.4" y="254.6" width="2.2" height="39.7" fill="#9a464e" stroke="#111" stroke-width="1"/>
<rect x="449" y="272.0" width="1" height="103.4" fill="#111"/>
<rect x="448.4" y="294.3" width="2.2" height="27.1" fill="#9a464e" stroke="#111" stroke-width="1"/>
<rect x="453" y="295.3" width="1" height="52.3" fill="#111"/>
<rect x="452.4" y="310.5" width="2.2" height="10.9" fill="#5c8c6e" stroke="#111" stroke-width="1"/>
<rect x="457" y="265.0" width="1" height="47.6" fill="#111"/>
<rect x="456.4" y="287.3" width="2.2" height="22.2" fill="#5c8c6e" stroke="#111" stroke-width="1"/>
<rect x="461" y="268.2" width="1" height="52.3" fill="#111"/>
<rect x="460.4" y="288.3" width="2.2" height="31.1" fill="#9a464e" stroke="#111" stroke-width="1"/>
<rect x="465" y="277.1" width="1" height="47.7" fill="#111"/>
<rect x="464.4" y="295.6" width="2.2" height="23.8" fill="#5c8c6e" stroke="#111" stroke-width="1"/>
<rect x="469" y="255.2" width="1" height="62.4" fill="#111"/>
<rect x="468.4" y="261.0" width="2.2" height="34.8" fill="#5c8c6e" stroke="#111" stroke-width="1"/>
<rect x="472" y="244.2" width="1" height="23.3" fill="#111"/>
<rect x="471.4" y="253.7" width="2.2" height="9.3" fill="#5c8c6e" stroke="#111" stroke-width="1"/>
<rect x="476" y="227.8" width="1" height="51.7" fill="#111"/>
<rect x="475.4" y="252.7" width="2.2" height="25.7" fill="#9a464e" stroke="#111" stroke-width="1"/>
<rect x="480" y="257.6" width="1" height="22.4" fill="#111"/>
<rect x="479.4" y="273.4" width="2.2" height="5.5" fill="#5c8c6e" stroke="#111" stroke-width="1"/>
<rect x="484" y="263.2" width="1" height="47.5" fill="#111"/>
<rect x="483.4" y="272.4" width="2.2" height="28.8" fill="#9a464e" stroke="#111" stroke-width="1"/>
<rect x="488" y="280.4" width="1" height="24.3" fill="#111"/>
<rect x="487.4" y="284.3" width="2.2" height="17.9" fill="#5c8c6e" stroke="#111" stroke-width="1"/>
<rect x="492" y="282.4" width="1" height="36.2" fill="#111"/>
<rect x="491.4" y="284.3" width="2.2" height="23.9" fill="#9a464e" stroke="#111" stroke-width="1"/>
<rect x="495" y="302.2" width="1" height="42.8" fill="#111"/>
<rect x="494.4" y="308.2" width="2.2" height="7.4" fill="#9a464e" stroke="#111" stroke-width="1"/>
<rect x="499" y="290.3" width="1" height="40.2" fill="#111"/>
<rect x="498.4" y="300.2" width="2.2" height="15.4" fill="#5c8c6e" stroke="#111" stroke-width="1"/>
<rect x="503" y="299.0" width="1" height="40.5" fill="#111"/>
<rect x="502.4" y="300.2" width="2.2" height="34.3" fill="#9a464e" stroke="#111" stroke-width="1"/>
<rect x="507" y="328.3" width="1" height="91.7" fill="#111"/>
<rect x="506.4" y="334.5" width="2.2" height="53.9" fill="#9a464e" stroke="#111" stroke-width="1"/>
<rect x="511" y="332.3" width="1" height="57.7" fill="#111"/>
<rect x="510.4" y="356.5" width="2.2" height="30.8" fill="#5c8c6e" stroke="#111" stroke-width="1"/>
<rect x="515" y="325.0" width="1" height="32.5" fill="#111"/>
<rect x="514.4" y="335.5" width="2.2" height="21.0" fill="#5c8c6e" stroke="#111" stroke-width="1"/>
<rect x="518" y="308.2" width="1" height="34.2" fill="#111"/>
<rect x="517.4" y="319.1" width="2.2" height="17.4" fill="#5c8c6e" stroke="#111" stroke-width="1"/>
<rect x="522" y="317.0" width="1" height="89.0" fill="#111"/>
<rect x="521.4" y="318.1" width="2.2" height="60.3" fill="#9a464e" stroke="#111" stroke-width="1"/>
<rect x="526" y="355.3" width="1" height="84.2" fill="#111"/>
<rect x="525.4" y="378.0" width="2.2" height="60.7" fill="#9a464e" stroke="#111" stroke-width="1"/>
<rect x="530" y="380.6" width="1" height="59.9" fill="#111"/>
<rect x="529.4" y="406.7" width="2.2" height="32.8" fill="#5c8c6e" stroke="#111" stroke-width="1"/>
<rect x="534" y="368.4" width="1" height="51.0" fill="#111"/>
<rect x="533.4" y="394.3" width="2.2" height="11.4" fill="#5c8c6e" stroke="#111" stroke-width="1"/>
<rect x="538" y="381.4" width="1" height="46.1" fill="#111"/>
<rect x="537.4" y="388.4" width="2.2" height="5.9" fill="#5c8c6e" stroke="#111" stroke-width="1"/>
<rect x="541" y="361.3" width="1" height="34.2" fill="#111"/>
<rect x="540.4" y="381.4" width="2.2" height="7.0" fill="#5c8c6e" stroke="#111" stroke-width="1"/>
<rect x="545" y="310.2" width="1" height="85.3" fill="#111"/>
<rect x="544.4" y="316.1" width="2.2" height="65.3" fill="#5c8c6e" stroke="#111" stroke-width="1"/>
<rect x="549" y="261.2" width="1" height="57.6" fill="#111"/>
<rect x="548.4" y="274.4" width="2.2" height="42.0" fill="#5c8c6e" stroke="#111" stroke-width="1"/>
<rect x="553" y="265.3" width="1" height="30.2" fill="#111"/>
<rect x="552.4" y="274.4" width="2.2" height="8.0" fill="#9a464e" stroke="#111" stroke-width="1"/>
<rect x="557" y="265.3" width="1" height="38.5" fill="#111"/>
<rect x="556.4" y="272.2" width="2.2" height="10.2" fill="#5c8c6e" stroke="#111" stroke-width="1"/>
<rect x="561" y="267.4" width="1" height="72.2" fill="#111"/>
<rect x="560.4" y="272.2" width="2.2" height="65.1" fill="#9a464e" stroke="#111" stroke-width="1"/>
<rect x="564" y="257.9" width="1" height="81.7" fill="#111"/>
<rect x="563.4" y="302.3" width="2.2" height="35.6" fill="#5c8c6e" stroke="#111" stroke-width="1"/>
<rect x="568" y="238.5" width="1" height="65.5" fill="#111"/>
<rect x="567.4" y="244.5" width="2.2" height="58.7" fill="#5c8c6e" stroke="#111" stroke-width="1"/>
<rect x="572" y="212.4" width="1" height="64.1" fill="#111"/>
<rect x="571.4" y="235.2" width="2.2" height="9.3" fill="#5c8c6e" stroke="#111" stroke-width="1"/>
<rect x="576" y="214.7" width="1" height="38.7" fill="#111"/>
<rect x="575.4" y="234.3" width="2.2" height="4.9" fill="#9a464e" stroke="#111" stroke-width="1"/>
<rect x="580" y="204.5" width="1" height="35.5" fill="#111"/>
<rect x="579.4" y="215.4" width="2.2" height="23.8" fill="#5c8c6e" stroke="#111" stroke-width="1"/>
<rect x="584" y="207.2" width="1" height="26.1" fill="#111"/>
<rect x="583.4" y="215.4" width="2.2" height="6.0" fill="#9a464e" stroke="#111" stroke-width="1"/>
<rect x="588" y="212.4" width="1" height="30.1" fill="#111"/>
<rect x="587.4" y="221.4" width="2.2" height="20.1" fill="#9a464e" stroke="#111" stroke-width="1"/>
<rect x="591" y="218.4" width="1" height="38.0" fill="#111"/>
<rect x="590.4" y="233.7" width="2.2" height="7.8" fill="#5c8c6e" stroke="#111" stroke-width="1"/>
<rect x="595" y="219.4" width="1" height="22.8" fill="#111"/>
<rect x="594.4" y="225.4" width="2.2" height="7.9" fill="#5c8c6e" stroke="#111" stroke-width="1"/>
<rect x="599" y="217.7" width="1" height="16.6" fill="#111"/>
<rect x="598.4" y="226.3" width="2.2" height="3.3" fill="#9a464e" stroke="#111" stroke-width="1"/>
<rect x="603" y="186.5" width="1" height="44.0" fill="#111"/>
<rect x="602.4" y="187.9" width="2.2" height="41.7" fill="#5c8c6e" stroke="#111" stroke-width="1"/>
<rect x="607" y="169.0" width="1" height="30.5" fill="#111"/>
<rect x="606" y="187.5" width="3" height="1.2" fill="#111"/>
<rect x="611" y="181.6" width="1" height="28.9" fill="#111"/>
<rect x="610.4" y="187.6" width="2.2" height="16.9" fill="#9a464e" stroke="#111" stroke-width="1"/>
<rect x="614" y="188.5" width="1" height="25.0" fill="#111"/>
<rect x="613.4" y="190.0" width="2.2" height="14.5" fill="#5c8c6e" stroke="#111" stroke-width="1"/>
<rect x="618" y="187.6" width="1" height="39.7" fill="#111"/>
<rect x="617.4" y="190.0" width="2.2" height="36.3" fill="#9a464e" stroke="#111" stroke-width="1"/>
<rect x="622" y="212.4" width="1" height="19.0" fill="#111"/>
<rect x="621.4" y="215.4" width="2.2" height="10.4" fill="#5c8c6e" stroke="#111" stroke-width="1"/>
<rect x="626" y="202.5" width="1" height="23.3" fill="#111"/>
<rect x="625.4" y="204.3" width="2.2" height="11.1" fill="#5c8c6e" stroke="#111" stroke-width="1"/>
<rect x="630" y="192.3" width="1" height="13.2" fill="#111"/>
<rect x="629.4" y="199.5" width="2.2" height="5.0" fill="#5c8c6e" stroke="#111" stroke-width="1"/>
<rect x="634" y="197.5" width="1" height="10.0" fill="#111"/>
<rect x="633.4" y="199.5" width="2.2" height="4.0" fill="#9a464e" stroke="#111" stroke-width="1"/>
<rect x="637" y="177.0" width="1" height="33.5" fill="#111"/>
<rect x="636.4" y="178.2" width="2.2" height="25.3" fill="#5c8c6e" stroke="#111" stroke-width="1"/>
<rect x="641" y="177.0" width="1" height="21.6" fill="#111"/>
<rect x="640.4" y="178.2" width="2.2" height="4.9" fill="#9a464e" stroke="#111" stroke-width="1"/>
<rect x="645" y="174.5" width="1" height="17.1" fill="#111"/>
<rect x="644.4" y="175.7" width="2.2" height="7.7" fill="#5c8c6e" stroke="#111" stroke-width="1"/>
<rect x="649" y="162.0" width="1" height="20.4" fill="#111"/>
<rect x="648" y="174.8" width="3" height="1.2" fill="#111"/>
<rect x="653" y="166.5" width="1" height="27.9" fill="#111"/>
<rect x="652.4" y="174.5" width="2.2" height="13.2" fill="#9a464e" stroke="#111" stroke-width="1"/>
<rect x="657" y="179.0" width="1" height="21.8" fill="#111"/>
<rect x="656.4" y="187.4" width="2.2" height="5.9" fill="#9a464e" stroke="#111" stroke-width="1"/>
<rect x="660" y="176.0" width="1" height="32.5" fill="#111"/>
<rect x="659.4" y="193.3" width="2.2" height="4.0" fill="#9a464e" stroke="#111" stroke-width="1"/>
<rect x="664" y="193.6" width="1" height="60.4" fill="#111"/>
<rect x="663.4" y="197.3" width="2.2" height="29.1" fill="#9a464e" stroke="#111" stroke-width="1"/>
<rect x="668" y="197.3" width="1" height="44.7" fill="#111"/>
<rect x="667.4" y="206.3" width="2.2" height="20.1" fill="#5c8c6e" stroke="#111" stroke-width="1"/>
<rect x="672" y="205.0" width="1" height="16.2" fill="#111"/>
<rect x="671.4" y="206.3" width="2.2" height="13.4" fill="#9a464e" stroke="#111" stroke-width="1"/>
<rect x="676" y="206.0" width="1" height="21.0" fill="#111"/>
<rect x="675.4" y="207.3" width="2.2" height="12.4" fill="#5c8c6e" stroke="#111" stroke-width="1"/>
<rect x="680" y="199.6" width="1" height="14.1" fill="#111"/>
<rect x="679.4" y="208.5" width="2.2" height="3.3" fill="#9a464e" stroke="#111" stroke-width="1"/>
<rect x="683" y="185.4" width="1" height="26.6" fill="#111"/>
<rect x="682.4" y="193.3" width="2.2" height="18.2" fill="#5c8c6e" stroke="#111" stroke-width="1"/>
<rect x="687" y="182.9" width="1" height="15.1" fill="#111"/>
<rect x="686.4" y="193.3" width="2.2" height="4.0" fill="#9a464e" stroke="#111" stroke-width="1"/>
<rect x="691" y="195.0" width="1" height="42.5" fill="#111"/>
<rect x="690.4" y="197.3" width="2.2" height="29.8" fill="#9a464e" stroke="#111" stroke-width="1"/>
<rect x="695" y="216.2" width="1" height="47.4" fill="#111"/>
<rect x="694.4" y="221.6" width="2.2" height="5.5" fill="#5c8c6e" stroke="#111" stroke-width="1"/>
<rect x="699" y="204.3" width="1" height="30.3" fill="#111"/>
<rect x="698.4" y="208.2" width="2.2" height="13.4" fill="#5c8c6e" stroke="#111" stroke-width="1"/>
<rect x="703" y="207.0" width="1" height="36.5" fill="#111"/>
<rect x="702.4" y="208.2" width="2.2" height="26.4" fill="#9a464e" stroke="#111" stroke-width="1"/>
<rect x="706" y="220.4" width="1" height="20.1" fill="#111"/>
<rect x="705.4" y="230.5" width="2.2" height="4.1" fill="#5c8c6e" stroke="#111" stroke-width="1"/>
<rect x="710" y="229.0" width="1" height="22.7" fill="#111"/>
<rect x="709.4" y="230.0" width="2.2" height="7.5" fill="#9a464e" stroke="#111" stroke-width="1"/>
<rect x="714" y="212.2" width="1" height="26.3" fill="#111"/>
<rect x="713.4" y="227.1" width="2.2" height="10.4" fill="#5c8c6e" stroke="#111" stroke-width="1"/>
<rect x="718" y="208.0" width="1" height="26.6" fill="#111"/>
<rect x="717.4" y="209.2" width="2.2" height="17.9" fill="#5c8c6e" stroke="#111" stroke-width="1"/>
<rect x="722" y="191.4" width="1" height="34.6" fill="#111"/>
<rect x="721.4" y="209.2" width="2.2" height="16.0" fill="#9a464e" stroke="#111" stroke-width="1"/>
<rect x="726" y="209.2" width="1" height="16.8" fill="#111"/>
<rect x="725.4" y="216.7" width="2.2" height="8.5" fill="#5c8c6e" stroke="#111" stroke-width="1"/>
<rect x="729" y="205.2" width="1" height="16.0" fill="#111"/>
<rect x="728.4" y="216.2" width="2.2" height="2.0" fill="#9a464e" stroke="#111" stroke-width="1"/>
<rect x="733" y="216.5" width="1" height="29.2" fill="#111"/>
<rect x="732.4" y="217.4" width="2.2" height="9.0" fill="#9a464e" stroke="#111" stroke-width="1"/>
<rect x="737" y="214.2" width="1" height="16.3" fill="#111"/>
<rect x="736.4" y="220.4" width="2.2" height="6.3" fill="#5c8c6e" stroke="#111" stroke-width="1"/>
<rect x="741" y="211.2" width="1" height="13.7" fill="#111"/>
<rect x="740.4" y="220.4" width="2.2" height="1.8" fill="#9a464e" stroke="#111" stroke-width="1"/>
<rect x="745" y="219.7" width="1" height="10.8" fill="#111"/>
<rect x="744.4" y="222.2" width="2.2" height="2.4" fill="#9a464e" stroke="#111" stroke-width="1"/>
<rect x="749" y="220.4" width="1" height="6.7" fill="#111"/>
<rect x="748" y="223.1" width="3" height="1.2" fill="#111"/>
<rect x="753" y="180.2" width="1" height="44.8" fill="#111"/>
<rect x="752.4" y="188.4" width="2.2" height="35.3" fill="#5c8c6e" stroke="#111" stroke-width="1"/>
<rect x="756" y="156.0" width="1" height="37.6" fill="#111"/>
<rect x="755.4" y="183.2" width="2.2" height="5.2" fill="#5c8c6e" stroke="#111" stroke-width="1"/>
<rect x="760" y="170.5" width="1" height="23.1" fill="#111"/>
<rect x="759.4" y="179.5" width="2.2" height="4.0" fill="#5c8c6e" stroke="#111" stroke-width="1"/>
<rect x="764" y="173.0" width="1" height="17.0" fill="#111"/>
<rect x="763.4" y="179.5" width="2.2" height="9.3" fill="#9a464e" stroke="#111" stroke-width="1"/>
<rect x="768" y="151.2" width="1" height="38.3" fill="#111"/>
<rect x="767.4" y="158.6" width="2.2" height="30.2" fill="#5c8c6e" stroke="#111" stroke-width="1"/>
<rect x="772" y="136.1" width="1" height="22.9" fill="#111"/>
<rect x="771.4" y="143.3" width="2.2" height="14.9" fill="#5c8c6e" stroke="#111" stroke-width="1"/>
<rect x="776" y="139.1" width="1" height="23.5" fill="#111"/>
<rect x="775.4" y="143.3" width="2.2" height="5.9" fill="#9a464e" stroke="#111" stroke-width="1"/>
<rect x="779" y="145.5" width="1" height="19.4" fill="#111"/>
<rect x="778.4" y="149.2" width="2.2" height="12.7" fill="#9a464e" stroke="#111" stroke-width="1"/>
<rect x="783" y="152.2" width="1" height="12.8" fill="#111"/>
<rect x="782.4" y="161.5" width="2.2" height="2.6" fill="#9a464e" stroke="#111" stroke-width="1"/>
<rect x="787" y="149.2" width="1" height="15.8" fill="#111"/>
<rect x="786.4" y="157.4" width="2.2" height="6.7" fill="#5c8c6e" stroke="#111" stroke-width="1"/>
<rect x="791" y="148.0" width="1" height="26.6" fill="#111"/>
<rect x="790.4" y="157.4" width="2.2" height="6.4" fill="#9a464e" stroke="#111" stroke-width="1"/>
<rect x="795" y="159.4" width="1" height="25.0" fill="#111"/>
<rect x="794" y="163.1" width="3" height="1.2" fill="#111"/>
<rect x="799" y="160.4" width="1" height="10.6" fill="#111"/>
<rect x="798.4" y="163.4" width="2.2" height="6.4" fill="#9a464e" stroke="#111" stroke-width="1"/>
<rect x="802" y="164.1" width="1" height="23.3" fill="#111"/>
<rect x="801.4" y="169.8" width="2.2" height="6.7" fill="#9a464e" stroke="#111" stroke-width="1"/>
<rect x="806" y="161.2" width="1" height="15.8" fill="#111"/>
<rect x="805.4" y="165.3" width="2.2" height="11.2" fill="#5c8c6e" stroke="#111" stroke-width="1"/>
<rect x="810" y="147.0" width="1" height="19.0" fill="#111"/>
<rect x="809.4" y="150.0" width="2.2" height="15.6" fill="#5c8c6e" stroke="#111" stroke-width="1"/>
<rect x="814" y="144.0" width="1" height="15.7" fill="#111"/>
<rect x="813.4" y="148.0" width="2.2" height="2.7" fill="#5c8c6e" stroke="#111" stroke-width="1"/>
<rect x="818" y="139.1" width="1" height="11.9" fill="#111"/>
<rect x="817.4" y="141.0" width="2.2" height="8.0" fill="#5c8c6e" stroke="#111" stroke-width="1"/>
<rect x="822" y="123.9" width="1" height="23.1" fill="#111"/>
<rect x="821.4" y="126.2" width="2.2" height="15.6" fill="#5c8c6e" stroke="#111" stroke-width="1"/>
<rect x="825" y="101.3" width="1" height="31.6" fill="#111"/>
<rect x="824.4" y="104.3" width="2.2" height="22.3" fill="#5c8c6e" stroke="#111" stroke-width="1"/>
<rect x="829" y="99.4" width="1" height="23.3" fill="#111"/>
<rect x="828.4" y="104.3" width="2.2" height="4.4" fill="#9a464e" stroke="#111" stroke-width="1"/>
<rect x="833" y="84.0" width="1" height="31.7" fill="#111"/>
<rect x="832.4" y="85.2" width="2.2" height="22.3" fill="#5c8c6e" stroke="#111" stroke-width="1"/>
<rect x="837" y="77.0" width="1" height="26.8" fill="#111"/>
<rect x="836" y="85.2" width="3" height="1.2" fill="#111"/>
<rect x="841" y="70.3" width="1" height="20.6" fill="#111"/>
<rect x="840" y="84.7" width="3" height="1.2" fill="#111"/>
<rect x="845" y="80.4" width="1" height="19.4" fill="#111"/>
<rect x="844.4" y="85.2" width="2.2" height="10.4" fill="#9a464e" stroke="#111" stroke-width="1"/>
<rect x="848" y="80.0" width="1" height="19.8" fill="#111"/>
<rect x="847.4" y="91.5" width="2.2" height="4.1" fill="#5c8c6e" stroke="#111" stroke-width="1"/>
<rect x="852" y="79.3" width="1" height="19.6" fill="#111"/>
<rect x="851.4" y="83.0" width="2.2" height="8.5" fill="#5c8c6e" stroke="#111" stroke-width="1"/>
<rect x="856" y="68.0" width="1" height="16.9" fill="#111"/>
<rect x="855.4" y="68.8" width="2.2" height="15.2" fill="#5c8c6e" stroke="#111" stroke-width="1"/>
<rect x="860" y="65.8" width="1" height="14.9" fill="#111"/>
<rect x="859.4" y="66.6" width="2.2" height="3.0" fill="#5c8c6e" stroke="#111" stroke-width="1"/>
<rect x="864" y="58.0" width="1" height="10.0" fill="#111"/>
<rect x="863.4" y="58.7" width="2.2" height="8.6" fill="#5c8c6e" stroke="#111" stroke-width="1"/>
<rect x="868" y="55.1" width="1" height="16.7" fill="#111"/>
<rect x="867.4" y="59.1" width="2.2" height="5.3" fill="#9a464e" stroke="#111" stroke-width="1"/>
<rect x="871" y="63.5" width="1" height="21.4" fill="#111"/>
<rect x="870.4" y="64.4" width="2.2" height="14.1" fill="#9a464e" stroke="#111" stroke-width="1"/>
<rect x="875" y="74.0" width="1" height="23.9" fill="#111"/>
<rect x="874.4" y="77.0" width="2.2" height="16.8" fill="#9a464e" stroke="#111" stroke-width="1"/>
<rect x="879" y="91.9" width="1" height="20.1" fill="#111"/>
<rect x="878.4" y="92.7" width="2.2" height="7.1" fill="#5c8c6e" stroke="#111" stroke-width="1"/>
<rect x="883" y="78.0" width="1" height="23.9" fill="#111"/>
<rect x="882" y="99.3" width="3" height="1.2" fill="#111"/>
<rect x="887" y="71.0" width="1" height="35.8" fill="#111"/>
<rect x="886.4" y="97.4" width="2.2" height="3.4" fill="#5c8c6e" stroke="#111" stroke-width="1"/>
<rect x="891" y="96.0" width="1" height="45.0" fill="#111"/>
<rect x="890.4" y="97.1" width="2.2" height="27.6" fill="#9a464e" stroke="#111" stroke-width="1"/>
<rect x="894" y="108.3" width="1" height="26.8" fill="#111"/>
<rect x="893.4" y="117.7" width="2.2" height="7.0" fill="#5c8c6e" stroke="#111" stroke-width="1"/>
<rect x="898" y="98.9" width="1" height="20.1" fill="#111"/>
<rect x="897.4" y="101.9" width="2.2" height="16.4" fill="#5c8c6e" stroke="#111" stroke-width="1"/>
<rect x="902" y="98.3" width="1" height="19.7" fill="#111"/>
<rect x="901.4" y="101.9" width="2.2" height="12.8" fill="#9a464e" stroke="#111" stroke-width="1"/>
<rect x="906" y="98.3" width="1" height="22.7" fill="#111"/>
<rect x="905.4" y="112.3" width="2.2" height="2.4" fill="#5c8c6e" stroke="#111" stroke-width="1"/>
<rect x="910" y="87.4" width="1" height="26.1" fill="#111"/>
<rect x="909.4" y="92.4" width="2.2" height="20.4" fill="#5c8c6e" stroke="#111" stroke-width="1"/>
<rect x="914" y="89.4" width="1" height="28.6" fill="#111"/>
<rect x="913.4" y="92.4" width="2.2" height="19.6" fill="#9a464e" stroke="#111" stroke-width="1"/>
<rect x="917" y="106.4" width="1" height="30.6" fill="#111"/>
<rect x="916.4" y="108.3" width="2.2" height="4.0" fill="#5c8c6e" stroke="#111" stroke-width="1"/>
<rect x="921" y="107.0" width="1" height="15.1" fill="#111"/>
<rect x="920.4" y="108.3" width="2.2" height="12.7" fill="#9a464e" stroke="#111" stroke-width="1"/>
<rect x="925" y="103.4" width="1" height="28.7" fill="#111"/>
<rect x="924.4" y="109.3" width="2.2" height="11.4" fill="#5c8c6e" stroke="#111" stroke-width="1"/>
<rect x="929" y="107.2" width="1" height="10.8" fill="#111"/>
<rect x="928.4" y="109.0" width="2.2" height="2.3" fill="#9a464e" stroke="#111" stroke-width="1"/>
<rect x="933" y="96.4" width="1" height="18.6" fill="#111"/>
<rect x="932.4" y="97.9" width="2.2" height="13.4" fill="#5c8c6e" stroke="#111" stroke-width="1"/>
<rect x="937" y="96.5" width="1" height="15.2" fill="#111"/>
<rect x="936.4" y="97.9" width="2.2" height="11.9" fill="#9a464e" stroke="#111" stroke-width="1"/>
<rect x="941" y="98.5" width="1" height="15.3" fill="#111"/>
<rect x="940.4" y="99.4" width="2.2" height="10.4" fill="#5c8c6e" stroke="#111" stroke-width="1"/>
<rect x="944" y="98.5" width="1" height="13.5" fill="#111"/>
<rect x="943.4" y="99.4" width="2.2" height="7.0" fill="#9a464e" stroke="#111" stroke-width="1"/>
<rect x="948" y="104.9" width="1" height="10.1" fill="#111"/>
<rect x="947.4" y="106.1" width="2.2" height="4.4" fill="#9a464e" stroke="#111" stroke-width="1"/>
<rect x="952" y="105.3" width="1" height="25.8" fill="#111"/>
<rect x="951.4" y="110.2" width="2.2" height="11.5" fill="#9a464e" stroke="#111" stroke-width="1"/>
<rect x="956" y="120.5" width="1" height="57.3" fill="#111"/>
<rect x="955.4" y="121.2" width="2.2" height="40.2" fill="#9a464e" stroke="#111" stroke-width="1"/>
<rect x="960" y="133.1" width="1" height="30.1" fill="#111"/>
<rect x="959.4" y="152.0" width="2.2" height="10.0" fill="#5c8c6e" stroke="#111" stroke-width="1"/>
<rect x="964" y="151.5" width="1" height="17.9" fill="#111"/>
<rect x="963.4" y="152.5" width="2.2" height="4.7" fill="#9a464e" stroke="#111" stroke-width="1"/>
<rect x="967" y="128.2" width="1" height="29.8" fill="#111"/>
<rect x="966.4" y="144.1" width="2.2" height="13.1" fill="#5c8c6e" stroke="#111" stroke-width="1"/>
<rect x="971" y="133.1" width="1" height="29.8" fill="#111"/>
<rect x="970.4" y="144.1" width="2.2" height="15.4" fill="#9a464e" stroke="#111" stroke-width="1"/>
<rect x="975" y="151.3" width="1" height="70.7" fill="#111"/>
<rect x="974.4" y="159.5" width="2.2" height="42.1" fill="#9a464e" stroke="#111" stroke-width="1"/>
<rect x="979" y="166.2" width="1" height="36.3" fill="#111"/>
<rect x="978.4" y="174.4" width="2.2" height="27.2" fill="#5c8c6e" stroke="#111" stroke-width="1"/>
<rect x="983" y="173.5" width="1" height="86.9" fill="#111"/>
<rect x="982.4" y="174.4" width="2.2" height="59.1" fill="#9a464e" stroke="#111" stroke-width="1"/>
<rect x="987" y="181.0" width="1" height="57.8" fill="#111"/>
<rect x="986.4" y="209.4" width="2.2" height="24.1" fill="#5c8c6e" stroke="#111" stroke-width="1"/>
<rect x="990" y="197.1" width="1" height="33.1" fill="#111"/>
<rect x="989.4" y="209.4" width="2.2" height="18.1" fill="#9a464e" stroke="#111" stroke-width="1"/>
<rect x="994" y="205.2" width="1" height="47.8" fill="#111"/>
<rect x="993" y="226.7" width="3" height="1.2" fill="#111"/>
<rect x="998" y="192.2" width="1" height="40.7" fill="#111"/>
<rect x="997.4" y="199.2" width="2.2" height="28.3" fill="#5c8c6e" stroke="#111" stroke-width="1"/>
<rect x="1002" y="167.7" width="1" height="32.8" fill="#111"/>
<rect x="1001.4" y="176.3" width="2.2" height="23.4" fill="#5c8c6e" stroke="#111" stroke-width="1"/>
<rect x="1006" y="156.0" width="1" height="51.9" fill="#111"/>
<rect x="1005.4" y="176.3" width="2.2" height="16.4" fill="#9a464e" stroke="#111" stroke-width="1"/>
<rect x="1010" y="178.1" width="1" height="50.6" fill="#111"/>
<rect x="1009.4" y="192.2" width="2.2" height="28.3" fill="#9a464e" stroke="#111" stroke-width="1"/>
<rect x="1013" y="198.2" width="1" height="52.5" fill="#111"/>
<rect x="1012.4" y="201.6" width="2.2" height="18.9" fill="#5c8c6e" stroke="#111" stroke-width="1"/>
<rect x="1017" y="199.2" width="1" height="26.8" fill="#111"/>
<rect x="1016.4" y="201.2" width="2.2" height="6.7" fill="#9a464e" stroke="#111" stroke-width="1"/>
<rect x="1021" y="203.4" width="1" height="37.5" fill="#111"/>
<rect x="1020.4" y="206.1" width="2.2" height="28.6" fill="#9a464e" stroke="#111" stroke-width="1"/>
<rect x="1025" y="220.0" width="1" height="50.8" fill="#111"/>
<rect x="1024.4" y="221.3" width="2.2" height="13.4" fill="#5c8c6e" stroke="#111" stroke-width="1"/>
<rect x="1029" y="206.1" width="1" height="21.1" fill="#111"/>
<rect x="1028" y="221.5" width="3" height="1.2" fill="#111"/>
<rect x="1033" y="187.3" width="1" height="56.6" fill="#111"/>
<rect x="1032.4" y="196.7" width="2.2" height="26.1" fill="#5c8c6e" stroke="#111" stroke-width="1"/>
<rect x="1036" y="185.2" width="1" height="25.6" fill="#111"/>
<rect x="1035.4" y="196.7" width="2.2" height="9.7" fill="#9a464e" stroke="#111" stroke-width="1"/>
<rect x="1040" y="173.9" width="1" height="33.6" fill="#111"/>
<rect x="1039.4" y="193.3" width="2.2" height="13.1" fill="#5c8c6e" stroke="#111" stroke-width="1"/>
<rect x="1044" y="192.0" width="1" height="19.6" fill="#111"/>
<rect x="1043.4" y="193.0" width="2.2" height="15.2" fill="#9a464e" stroke="#111" stroke-width="1"/>
<rect x="1048" y="205.2" width="1" height="16.8" fill="#111"/>
<rect x="1047.4" y="208.2" width="2.2" height="5.3" fill="#9a464e" stroke="#111" stroke-width="1"/>
<rect x="1052" y="203.1" width="1" height="37.8" fill="#111"/>
<rect x="1051.4" y="213.5" width="2.2" height="24.1" fill="#9a464e" stroke="#111" stroke-width="1"/>
<rect x="1056" y="227.5" width="1" height="70.9" fill="#111"/>
<rect x="1055.4" y="237.3" width="2.2" height="42.0" fill="#9a464e" stroke="#111" stroke-width="1"/>
<rect x="1059" y="253.4" width="1" height="56.9" fill="#111"/>
<rect x="1058.4" y="279.3" width="2.2" height="3.5" fill="#9a464e" stroke="#111" stroke-width="1"/>
<rect x="1063" y="272.3" width="1" height="31.3" fill="#111"/>
<rect x="1062.4" y="277.2" width="2.2" height="5.6" fill="#5c8c6e" stroke="#111" stroke-width="1"/>
<rect x="1067" y="261.2" width="1" height="39.4" fill="#111"/>
<rect x="1066.4" y="269.4" width="2.2" height="8.1" fill="#5c8c6e" stroke="#111" stroke-width="1"/>
<rect x="1071" y="252.2" width="1" height="29.1" fill="#111"/>
<rect x="1070.4" y="263.0" width="2.2" height="6.4" fill="#5c8c6e" stroke="#111" stroke-width="1"/>
<rect x="1075" y="252.2" width="1" height="91.6" fill="#111"/>
<rect x="1074.4" y="263.4" width="2.2" height="66.3" fill="#9a464e" stroke="#111" stroke-width="1"/>
<rect x="1079" y="312.2" width="1" height="110.3" fill="#111"/>
<rect x="1078.4" y="330.5" width="2.2" height="25.8" fill="#9a464e" stroke="#111" stroke-width="1"/>
<rect x="1082" y="299.1" width="1" height="90.5" fill="#111"/>
<rect x="1081.4" y="356.3" width="2.2" height="11.0" fill="#9a464e" stroke="#111" stroke-width="1"/>
<rect x="1086" y="349.1" width="1" height="134.6" fill="#111"/>
<rect x="1085.4" y="367.3" width="2.2" height="69.9" fill="#9a464e" stroke="#111" stroke-width="1"/>
<rect x="1090" y="377.7" width="1" height="84.1" fill="#111"/>
<rect x="1089.4" y="392.3" width="2.2" height="44.2" fill="#5c8c6e" stroke="#111" stroke-width="1"/>
<rect x="1094" y="343.5" width="1" height="71.0" fill="#111"/>
<rect x="1093" y="391.2" width="3" height="1.2" fill="#111"/>
<rect x="1098" y="387.6" width="1" height="137.2" fill="#111"/>
<rect x="1097.4" y="391.6" width="2.2" height="123.8" fill="#9a464e" stroke="#111" stroke-width="1"/>
<rect x="1102" y="429.8" width="1" height="162.1" fill="#111"/>
<rect x="1101.4" y="449.1" width="2.2" height="66.3" fill="#5c8c6e" stroke="#111" stroke-width="1"/>
<rect x="1105" y="429.8" width="1" height="81.9" fill="#111"/>
<rect x="1104.4" y="448.0" width="2.2" height="2.6" fill="#5c8c6e" stroke="#111" stroke-width="1"/>
<rect x="1109" y="401.3" width="1" height="72.4" fill="#111"/>
<rect x="1108.4" y="425.3" width="2.2" height="23.1" fill="#5c8c6e" stroke="#111" stroke-width="1"/>
<rect x="1113" y="366.3" width="1" height="69.1" fill="#111"/>
<rect x="1112.4" y="392.3" width="2.2" height="33.1" fill="#5c8c6e" stroke="#111" stroke-width="1"/>
<rect x="1117" y="331.3" width="1" height="117.5" fill="#111"/>
<rect x="1116.4" y="392.3" width="2.2" height="20.2" fill="#9a464e" stroke="#111" stroke-width="1"/>
<rect x="1121" y="379.2" width="1" height="76.6" fill="#111"/>
<rect x="1120.4" y="394.1" width="2.2" height="18.4" fill="#5c8c6e" stroke="#111" stroke-width="1"/>
<rect x="1125" y="348.0" width="1" height="51.5" fill="#111"/>
<rect x="1124.4" y="358.4" width="2.2" height="36.2" fill="#5c8c6e" stroke="#111" stroke-width="1"/>
<rect x="1129" y="348.0" width="1" height="48.8" fill="#111"/>
<rect x="1128.4" y="358.4" width="2.2" height="28.7" fill="#9a464e" stroke="#111" stroke-width="1"/>
<rect x="1132" y="358.4" width="1" height="61.0" fill="#111"/>
<rect x="1131.4" y="373.3" width="2.2" height="14.3" fill="#5c8c6e" stroke="#111" stroke-width="1"/>
<rect x="1136" y="348.0" width="1" height="32.4" fill="#111"/>
<rect x="1135.4" y="355.4" width="2.2" height="17.9" fill="#5c8c6e" stroke="#111" stroke-width="1"/>
<rect x="1140" y="316.0" width="1" height="54.3" fill="#111"/>
<rect x="1139.4" y="317.1" width="2.2" height="38.3" fill="#5c8c6e" stroke="#111" stroke-width="1"/>
<rect x="1144" y="316.5" width="1" height="27.0" fill="#111"/>
<rect x="1143.4" y="317.6" width="2.2" height="10.0" fill="#9a464e" stroke="#111" stroke-width="1"/>
<rect x="1148" y="302.2" width="1" height="47.2" fill="#111"/>
<rect x="1147.4" y="327.6" width="2.2" height="6.9" fill="#9a464e" stroke="#111" stroke-width="1"/>
<rect x="1152" y="311.2" width="1" height="32.3" fill="#111"/>
<rect x="1151.4" y="319.1" width="2.2" height="15.4" fill="#5c8c6e" stroke="#111" stroke-width="1"/>
<rect x="1155" y="311.2" width="1" height="30.2" fill="#111"/>
<rect x="1154.4" y="319.1" width="2.2" height="12.2" fill="#9a464e" stroke="#111" stroke-width="1"/>
<rect x="1159" y="302.2" width="1" height="32.3" fill="#111"/>
<rect x="1158.4" y="308.2" width="2.2" height="23.1" fill="#5c8c6e" stroke="#111" stroke-width="1"/>
<rect x="1163" y="299.1" width="1" height="77.6" fill="#111"/>
<rect x="1162.4" y="308.2" width="2.2" height="49.1" fill="#9a464e" stroke="#111" stroke-width="1"/>
<rect x="1167" y="356.0" width="1" height="51.5" fill="#111"/>
<rect x="1166.4" y="357.3" width="2.2" height="40.2" fill="#9a464e" stroke="#111" stroke-width="1"/>
<rect x="1171" y="381.2" width="1" height="55.3" fill="#111"/>
<rect x="1170" y="396.9" width="3" height="1.2" fill="#111"/>
<rect x="1175" y="384.1" width="1" height="51.6" fill="#111"/>
<rect x="1174.4" y="394.1" width="2.2" height="4.2" fill="#5c8c6e" stroke="#111" stroke-width="1"/>
<rect x="1178" y="370.0" width="1" height="37.0" fill="#111"/>
<rect x="1177.4" y="394.1" width="2.2" height="11.6" fill="#9a464e" stroke="#111" stroke-width="1"/>
<rect x="1182" y="383.1" width="1" height="71.7" fill="#111"/>
<rect x="1181.4" y="405.4" width="2.2" height="27.1" fill="#9a464e" stroke="#111" stroke-width="1"/>
<rect x="1186" y="431.5" width="1" height="78.3" fill="#111"/>
<rect x="1185.4" y="432.5" width="2.2" height="41.7" fill="#9a464e" stroke="#111" stroke-width="1"/>
<rect x="1190" y="437.5" width="1" height="84.2" fill="#111"/>
<rect x="1189.4" y="438.4" width="2.2" height="35.8" fill="#5c8c6e" stroke="#111" stroke-width="1"/>
<rect x="1194" y="410.1" width="1" height="63.2" fill="#111"/>
<rect x="1193.4" y="438.4" width="2.2" height="13.7" fill="#9a464e" stroke="#111" stroke-width="1"/>
<rect x="1198" y="423.1" width="1" height="37.9" fill="#111"/>
<rect x="1197.4" y="452.1" width="2.2" height="7.5" fill="#9a464e" stroke="#111" stroke-width="1"/>
<rect x="1201" y="451.4" width="1" height="40.2" fill="#111"/>
<rect x="1200.4" y="459.6" width="2.2" height="18.6" fill="#9a464e" stroke="#111" stroke-width="1"/>
<rect x="1205" y="423.1" width="1" height="57.9" fill="#111"/>
<rect x="1204.4" y="447.4" width="2.2" height="32.3" fill="#5c8c6e" stroke="#111" stroke-width="1"/>
<rect x="1209" y="386.1" width="1" height="69.7" fill="#111"/>
<rect x="1208.4" y="392.3" width="2.2" height="55.1" fill="#5c8c6e" stroke="#111" stroke-width="1"/>
<rect x="1213" y="382.2" width="1" height="34.3" fill="#111"/>
<rect x="1212.4" y="390.1" width="2.2" height="10.0" fill="#9a464e" stroke="#111" stroke-width="1"/>
<rect x="1217" y="399.0" width="1" height="34.5" fill="#111"/>
<rect x="1216.4" y="400.1" width="2.2" height="30.4" fill="#9a464e" stroke="#111" stroke-width="1"/>
<rect x="1221" y="384.1" width="1" height="60.6" fill="#111"/>
<rect x="1220.4" y="397.5" width="2.2" height="33.0" fill="#5c8c6e" stroke="#111" stroke-width="1"/>
<rect x="1224" y="377.4" width="1" height="25.4" fill="#111"/>
<rect x="1223.4" y="385.2" width="2.2" height="12.3" fill="#5c8c6e" stroke="#111" stroke-width="1"/>
<rect x="1228" y="360.3" width="1" height="35.0" fill="#111"/>
<rect x="1227" y="384.8" width="3" height="1.2" fill="#111"/>
<rect x="1232" y="363.3" width="1" height="22.7" fill="#111"/>
<rect x="1231.4" y="371.2" width="2.2" height="14.0" fill="#5c8c6e" stroke="#111" stroke-width="1"/>
<rect x="1236" y="342.4" width="1" height="54.4" fill="#111"/>
<rect x="1235.4" y="371.2" width="2.2" height="21.4" fill="#9a464e" stroke="#111" stroke-width="1"/>
<rect x="1240" y="382.2" width="1" height="36.6" fill="#111"/>
<rect x="1239" y="391.8" width="3" height="1.2" fill="#111"/>
<rect x="1244" y="375.2" width="1" height="20.4" fill="#111"/>
<rect x="1243.4" y="384.6" width="2.2" height="8.0" fill="#5c8c6e" stroke="#111" stroke-width="1"/>
<rect x="1247" y="359.3" width="1" height="27.4" fill="#111"/>
<rect x="1246.4" y="370.3" width="2.2" height="14.3" fill="#5c8c6e" stroke="#111" stroke-width="1"/>
<rect x="1251" y="368.2" width="1" height="31.3" fill="#111"/>
<rect x="1250.4" y="370.3" width="2.2" height="18.3" fill="#9a464e" stroke="#111" stroke-width="1"/>
<rect x="1255" y="375.2" width="1" height="23.4" fill="#111"/>
<rect x="1254.4" y="382.2" width="2.2" height="6.4" fill="#5c8c6e" stroke="#111" stroke-width="1"/>
<rect x="1259" y="366.3" width="1" height="21.3" fill="#111"/>
<rect x="1258.4" y="380.4" width="2.2" height="2.3" fill="#5c8c6e" stroke="#111" stroke-width="1"/>
<rect x="1263" y="329.5" width="1" height="54.2" fill="#111"/>
<rect x="1262.4" y="338.4" width="2.2" height="42.3" fill="#5c8c6e" stroke="#111" stroke-width="1"/>
<rect x="1267" y="298.0" width="1" height="43.7" fill="#111"/>
<rect x="1266.4" y="306.3" width="2.2" height="32.1" fill="#5c8c6e" stroke="#111" stroke-width="1"/>
<rect x="1270" y="285.4" width="1" height="28.3" fill="#111"/>
<rect x="1269.4" y="294.4" width="2.2" height="11.9" fill="#5c8c6e" stroke="#111" stroke-width="1"/>
<rect x="1274" y="288.4" width="1" height="27.6" fill="#111"/>
<rect x="1273.4" y="291.1" width="2.2" height="3.6" fill="#5c8c6e" stroke="#111" stroke-width="1"/>
<rect x="1278" y="285.4" width="1" height="34.3" fill="#111"/>
<rect x="1277.4" y="291.1" width="2.2" height="22.3" fill="#9a464e" stroke="#111" stroke-width="1"/>
<rect x="1282" y="285.4" width="1" height="39.5" fill="#111"/>
<rect x="1281.4" y="294.4" width="2.2" height="19.0" fill="#5c8c6e" stroke="#111" stroke-width="1"/>
<rect x="1286" y="257.4" width="1" height="38.1" fill="#111"/>
<rect x="1285.4" y="263.4" width="2.2" height="31.3" fill="#5c8c6e" stroke="#111" stroke-width="1"/>
<rect x="1290" y="246.4" width="1" height="35.3" fill="#111"/>
<rect x="1289" y="262.7" width="3" height="1.2" fill="#111"/>
<rect x="1293" y="252.4" width="1" height="23.3" fill="#111"/>
<rect x="1292.4" y="255.3" width="2.2" height="8.1" fill="#5c8c6e" stroke="#111" stroke-width="1"/>
<rect x="1297" y="240.4" width="1" height="24.5" fill="#111"/>
<rect x="1296.4" y="252.4" width="2.2" height="3.2" fill="#5c8c6e" stroke="#111" stroke-width="1"/>
<rect x="1301" y="246.4" width="1" height="24.4" fill="#111"/>
<rect x="1300.4" y="251.2" width="2.2" height="10.1" fill="#9a464e" stroke="#111" stroke-width="1"/>
<rect x="1305" y="246.4" width="1" height="24.4" fill="#111"/>
<rect x="1304.4" y="251.2" width="2.2" height="10.4" fill="#5c8c6e" stroke="#111" stroke-width="1"/>
<rect x="1309" y="249.5" width="1" height="11.3" fill="#111"/>
<rect x="1308.4" y="251.2" width="2.2" height="2.2" fill="#9a464e" stroke="#111" stroke-width="1"/>
<rect x="1313" y="220.2" width="1" height="33.8" fill="#111"/>
<rect x="1312.4" y="223.2" width="2.2" height="30.2" fill="#5c8c6e" stroke="#111" stroke-width="1"/>
<rect x="1317" y="217.7" width="1" height="27.8" fill="#111"/>
<rect x="1316.4" y="223.2" width="2.2" height="11.3" fill="#9a464e" stroke="#111" stroke-width="1"/>
<rect x="1320" y="230.3" width="1" height="30.5" fill="#111"/>
<rect x="1319.4" y="234.5" width="2.2" height="19.6" fill="#9a464e" stroke="#111" stroke-width="1"/>
<rect x="1324" y="247.4" width="1" height="28.3" fill="#111"/>
<rect x="1323.4" y="254.1" width="2.2" height="9.3" fill="#9a464e" stroke="#111" stroke-width="1"/>
<rect x="1328" y="244.5" width="1" height="23.3" fill="#111"/>
<rect x="1327.4" y="257.4" width="2.2" height="6.0" fill="#5c8c6e" stroke="#111" stroke-width="1"/>
<rect x="1332" y="254.4" width="1" height="43.2" fill="#111"/>
<rect x="1331.4" y="257.4" width="2.2" height="27.3" fill="#9a464e" stroke="#111" stroke-width="1"/>
<rect x="1336" y="278.3" width="1" height="52.5" fill="#111"/>
<rect x="1335.4" y="284.7" width="2.2" height="23.8" fill="#9a464e" stroke="#111" stroke-width="1"/>
<rect x="1340" y="285.4" width="1" height="29.5" fill="#111"/>
<rect x="1339.4" y="308.5" width="2.2" height="1.9" fill="#9a464e" stroke="#111" stroke-width="1"/>
<rect x="1343" y="283.6" width="1" height="42.3" fill="#111"/>
<rect x="1342.4" y="287.2" width="2.2" height="23.2" fill="#5c8c6e" stroke="#111" stroke-width="1"/>
<rect x="1347" y="272.3" width="1" height="20.6" fill="#111"/>
<rect x="1346.4" y="278.3" width="2.2" height="9.4" fill="#5c8c6e" stroke="#111" stroke-width="1"/>
<rect x="1351" y="274.2" width="1" height="24.3" fill="#111"/>
<rect x="1350.4" y="276.2" width="2.2" height="2.5" fill="#5c8c6e" stroke="#111" stroke-width="1"/>
<rect x="1355" y="273.2" width="1" height="104.2" fill="#111"/>
<rect x="1354.4" y="276.2" width="2.2" height="69.2" fill="#9a464e" stroke="#111" stroke-width="1"/>
<rect x="1359" y="323.1" width="1" height="63.6" fill="#111"/>
<rect x="1358.4" y="344.4" width="2.2" height="37.2" fill="#9a464e" stroke="#111" stroke-width="1"/>
<rect x="1363" y="345.4" width="1" height="39.2" fill="#111"/>
<rect x="1362.4" y="356.3" width="2.2" height="25.3" fill="#5c8c6e" stroke="#111" stroke-width="1"/>
<rect x="1366" y="336.5" width="1" height="32.3" fill="#111"/>
<rect x="1365.4" y="350.3" width="2.2" height="6.3" fill="#5c8c6e" stroke="#111" stroke-width="1"/>
<rect x="1370" y="343.2" width="1" height="70.7" fill="#111"/>
<rect x="1369.4" y="350.3" width="2.2" height="26.4" fill="#9a464e" stroke="#111" stroke-width="1"/>
<rect x="1374" y="354.4" width="1" height="34.2" fill="#111"/>
<rect x="1373.4" y="361.4" width="2.2" height="15.3" fill="#5c8c6e" stroke="#111" stroke-width="1"/>
<rect x="1378" y="334.3" width="1" height="45.4" fill="#111"/>
<rect x="1377.4" y="353.3" width="2.2" height="8.1" fill="#5c8c6e" stroke="#111" stroke-width="1"/>
<rect x="1382" y="343.9" width="1" height="39.8" fill="#111"/>
<rect x="1381.4" y="353.3" width="2.2" height="4.0" fill="#9a464e" stroke="#111" stroke-width="1"/>
<rect x="1386" y="356.0" width="1" height="45.0" fill="#111"/>
<rect x="1385.4" y="357.3" width="2.2" height="13.0" fill="#9a464e" stroke="#111" stroke-width="1"/>
<rect x="1389" y="356.3" width="1" height="26.4" fill="#111"/>
<rect x="1388.4" y="367.8" width="2.2" height="2.5" fill="#5c8c6e" stroke="#111" stroke-width="1"/>
<rect x="1393" y="338.5" width="1" height="32.2" fill="#111"/>
<rect x="1392.4" y="339.5" width="2.2" height="29.3" fill="#5c8c6e" stroke="#111" stroke-width="1"/>
<rect x="1397" y="335.4" width="1" height="20.4" fill="#111"/>
<rect x="1396.4" y="339.5" width="2.2" height="2.9" fill="#9a464e" stroke="#111" stroke-width="1"/>
<rect x="1401" y="303.3" width="1" height="39.7" fill="#111"/>
<rect x="1400.4" y="309.2" width="2.2" height="33.2" fill="#5c8c6e" stroke="#111" stroke-width="1"/>
<rect x="1405" y="299.1" width="1" height="15.5" fill="#111"/>
<rect x="1404.4" y="305.7" width="2.2" height="4.0" fill="#5c8c6e" stroke="#111" stroke-width="1"/>
<rect x="1409" y="292.1" width="1" height="44.4" fill="#111"/>
<rect x="1408.4" y="305.2" width="2.2" height="21.9" fill="#9a464e" stroke="#111" stroke-width="1"/>
<rect x="1412" y="318.2" width="1" height="33.2" fill="#111"/>
<rect x="1411.4" y="327.1" width="2.2" height="21.3" fill="#9a464e" stroke="#111" stroke-width="1"/>
<rect x="1416" y="336.5" width="1" height="33.2" fill="#111"/>
<rect x="1415.4" y="345.4" width="2.2" height="3.0" fill="#5c8c6e" stroke="#111" stroke-width="1"/>
<rect x="1420" y="339.9" width="1" height="28.9" fill="#111"/>
<rect x="1419" y="345.3" width="3" height="1.2" fill="#111"/>
<rect x="1424" y="326.5" width="1" height="21.2" fill="#111"/>
<rect x="1423.4" y="330.5" width="2.2" height="16.4" fill="#5c8c6e" stroke="#111" stroke-width="1"/>
<rect x="1428" y="310.1" width="1" height="21.4" fill="#111"/>
<rect x="1427.4" y="325.3" width="2.2" height="5.2" fill="#5c8c6e" stroke="#111" stroke-width="1"/>
<rect x="1432" y="318.2" width="1" height="15.3" fill="#111"/>
<rect x="1431.4" y="321.6" width="2.2" height="3.7" fill="#5c8c6e" stroke="#111" stroke-width="1"/>
<rect x="1435" y="320.0" width="1" height="35.8" fill="#111"/>
<rect x="1434.4" y="321.6" width="2.2" height="26.1" fill="#9a464e" stroke="#111" stroke-width="1"/>
<rect x="1439" y="325.3" width="1" height="26.1" fill="#111"/>
<rect x="1438.4" y="340.2" width="2.2" height="7.5" fill="#5c8c6e" stroke="#111" stroke-width="1"/>
<rect x="1443" y="334.3" width="1" height="58.3" fill="#111"/>
<rect x="1442.4" y="340.2" width="2.2" height="44.4" fill="#9a464e" stroke="#111" stroke-width="1"/>
<rect x="1447" y="378.2" width="1" height="56.5" fill="#111"/>
<rect x="1446.4" y="384.6" width="2.2" height="19.8" fill="#9a464e" stroke="#111" stroke-width="1"/>
<rect x="1451" y="398.2" width="1" height="40.9" fill="#111"/>
<rect x="1450.4" y="404.4" width="2.2" height="4.1" fill="#9a464e" stroke="#111" stroke-width="1"/>
<rect x="1455" y="391.1" width="1" height="23.5" fill="#111"/>
<rect x="1454.4" y="393.2" width="2.2" height="15.3" fill="#5c8c6e" stroke="#111" stroke-width="1"/>
<rect x="1458" y="392.0" width="1" height="32.3" fill="#111"/>
<rect x="1457.4" y="393.4" width="2.2" height="18.1" fill="#9a464e" stroke="#111" stroke-width="1"/>
<rect x="1462" y="407.0" width="1" height="28.9" fill="#111"/>
<rect x="1461.4" y="411.1" width="2.2" height="2.5" fill="#9a464e" stroke="#111" stroke-width="1"/>
<rect x="1466" y="412.0" width="1" height="89.7" fill="#111"/>
<rect x="1465.4" y="413.5" width="2.2" height="53.9" fill="#9a464e" stroke="#111" stroke-width="1"/>
<rect x="1470" y="451.1" width="1" height="40.9" fill="#111"/>
<rect x="1469.4" y="467.4" width="2.2" height="6.3" fill="#9a464e" stroke="#111" stroke-width="1"/>
<rect x="1474" y="451.1" width="1" height="66.7" fill="#111"/>
<rect x="1473.4" y="453.3" width="2.2" height="20.4" fill="#5c8c6e" stroke="#111" stroke-width="1"/>
<rect x="1478" y="421.0" width="1" height="56.9" fill="#111"/>
<rect x="1477.4" y="423.1" width="2.2" height="30.6" fill="#5c8c6e" stroke="#111" stroke-width="1"/>
<rect x="1481" y="422.0" width="1" height="32.3" fill="#111"/>
<rect x="1480.4" y="423.5" width="2.2" height="18.9" fill="#9a464e" stroke="#111" stroke-width="1"/>
<rect x="1485" y="433.2" width="1" height="33.8" fill="#111"/>
<rect x="1484.4" y="442.4" width="2.2" height="23.6" fill="#9a464e" stroke="#111" stroke-width="1"/>
<rect x="1489" y="421.0" width="1" height="58.7" fill="#111"/>
<rect x="1488.4" y="434.4" width="2.2" height="31.6" fill="#5c8c6e" stroke="#111" stroke-width="1"/>
<rect x="1493" y="397.1" width="1" height="42.0" fill="#111"/>
<rect x="1492.4" y="426.0" width="2.2" height="8.4" fill="#5c8c6e" stroke="#111" stroke-width="1"/>
<rect x="1497" y="420.1" width="1" height="24.9" fill="#111"/>
<rect x="1496.4" y="426.0" width="2.2" height="17.9" fill="#9a464e" stroke="#111" stroke-width="1"/>
<rect x="1501" y="432.0" width="1" height="23.5" fill="#111"/>
<rect x="1500.4" y="433.5" width="2.2" height="10.4" fill="#5c8c6e" stroke="#111" stroke-width="1"/>
<rect x="1505" y="428.4" width="1" height="35.3" fill="#111"/>
<rect x="1504.4" y="432.4" width="2.2" height="24.3" fill="#9a464e" stroke="#111" stroke-width="1"/>
<rect x="1508" y="418.3" width="1" height="39.9" fill="#111"/>
<rect x="1507.4" y="423.5" width="2.2" height="33.8" fill="#5c8c6e" stroke="#111" stroke-width="1"/>
<rect x="1512" y="402.2" width="1" height="36.9" fill="#111"/>
<rect x="1511.4" y="417.2" width="2.2" height="6.3" fill="#5c8c6e" stroke="#111" stroke-width="1"/>
<rect x="1516" y="394.3" width="1" height="23.7" fill="#111"/>
<rect x="1515.4" y="406.5" width="2.2" height="10.9" fill="#5c8c6e" stroke="#111" stroke-width="1"/>
<rect x="1520" y="352.9" width="1" height="54.1" fill="#111"/>
<rect x="1519.4" y="368.2" width="2.2" height="38.3" fill="#5c8c6e" stroke="#111" stroke-width="1"/>
<rect x="1524" y="362.2" width="1" height="17.5" fill="#111"/>
<rect x="1523" y="367.7" width="3" height="1.2" fill="#111"/>
<rect x="1528" y="346.2" width="1" height="22.8" fill="#111"/>
<rect x="1527.4" y="364.3" width="2.2" height="3.9" fill="#5c8c6e" stroke="#111" stroke-width="1"/>
<rect x="1531" y="358.4" width="1" height="17.3" fill="#111"/>
<rect x="1530.4" y="364.3" width="2.2" height="9.9" fill="#9a464e" stroke="#111" stroke-width="1"/>
<rect x="1535" y="372.2" width="1" height="34.8" fill="#111"/>
<rect x="1534.4" y="374.2" width="2.2" height="31.8" fill="#9a464e" stroke="#111" stroke-width="1"/>
<rect x="1539" y="385.6" width="1" height="23.3" fill="#111"/>
<rect x="1538.4" y="397.1" width="2.2" height="8.9" fill="#5c8c6e" stroke="#111" stroke-width="1"/>
<rect x="1543" y="384.1" width="1" height="21.9" fill="#111"/>
<rect x="1542.4" y="390.1" width="2.2" height="7.4" fill="#5c8c6e" stroke="#111" stroke-width="1"/>
<rect x="1547" y="366.3" width="1" height="28.3" fill="#111"/>
<rect x="1546.4" y="383.4" width="2.2" height="7.1" fill="#5c8c6e" stroke="#111" stroke-width="1"/>
<rect x="1551" y="375.2" width="1" height="22.3" fill="#111"/>
<rect x="1550.4" y="383.4" width="2.2" height="2.2" fill="#9a464e" stroke="#111" stroke-width="1"/>
<rect x="1554" y="385.0" width="1" height="32.4" fill="#111"/>
<rect x="1553.4" y="386.1" width="2.2" height="21.9" fill="#9a464e" stroke="#111" stroke-width="1"/>
<rect x="1558" y="407.0" width="1" height="22.8" fill="#111"/>
<rect x="1557.4" y="408.0" width="2.2" height="14.4" fill="#9a464e" stroke="#111" stroke-width="1"/>
<rect x="1562" y="404.5" width="1" height="33.5" fill="#111"/>
<rect x="1561.4" y="409.3" width="2.2" height="13.1" fill="#5c8c6e" stroke="#111" stroke-width="1"/>
<rect x="1566" y="408.5" width="1" height="17.5" fill="#111"/>
<rect x="1565.4" y="409.3" width="2.2" height="15.4" fill="#9a464e" stroke="#111" stroke-width="1"/>
<rect x="1570" y="406.0" width="1" height="20.0" fill="#111"/>
<rect x="1569.4" y="407.1" width="2.2" height="17.9" fill="#5c8c6e" stroke="#111" stroke-width="1"/>
<rect x="1574" y="380.1" width="1" height="27.9" fill="#111"/>
<rect x="1573.4" y="390.5" width="2.2" height="16.8" fill="#5c8c6e" stroke="#111" stroke-width="1"/>
<rect x="1577" y="382.3" width="1" height="18.6" fill="#111"/>
<rect x="1576.4" y="390.5" width="2.2" height="8.5" fill="#9a464e" stroke="#111" stroke-width="1"/>
<rect x="1581" y="365.2" width="1" height="34.8" fill="#111"/>
<rect x="1580.4" y="383.5" width="2.2" height="16.0" fill="#5c8c6e" stroke="#111" stroke-width="1"/>
<rect x="1585" y="382.0" width="1" height="27.5" fill="#111"/>
<rect x="1584.4" y="383.1" width="2.2" height="18.6" fill="#9a464e" stroke="#111" stroke-width="1"/>
<rect x="1589" y="398.3" width="1" height="38.6" fill="#111"/>
<rect x="1588.4" y="401.7" width="2.2" height="16.0" fill="#9a464e" stroke="#111" stroke-width="1"/>
<rect x="1593" y="399.5" width="1" height="23.3" fill="#111"/>
<rect x="1592.4" y="400.3" width="2.2" height="17.4" fill="#5c8c6e" stroke="#111" stroke-width="1"/>
<rect x="1597" y="386.5" width="1" height="15.5" fill="#111"/>
<rect x="1596.4" y="391.3" width="2.2" height="9.7" fill="#5c8c6e" stroke="#111" stroke-width="1"/>
<rect x="1600" y="379.6" width="1" height="14.9" fill="#111"/>
<rect x="1599.4" y="388.3" width="2.2" height="3.3" fill="#5c8c6e" stroke="#111" stroke-width="1"/>
<rect x="1604" y="360.3" width="1" height="29.7" fill="#111"/>
<rect x="1603.4" y="362.2" width="2.2" height="26.8" fill="#5c8c6e" stroke="#111" stroke-width="1"/>
<rect x="1608" y="361.0" width="1" height="24.3" fill="#111"/>
<rect x="1607.4" y="362.2" width="2.2" height="15.7" fill="#9a464e" stroke="#111" stroke-width="1"/>
<rect x="1612" y="363.3" width="1" height="16.3" fill="#111"/>
<rect x="1611.4" y="366.2" width="2.2" height="11.7" fill="#5c8c6e" stroke="#111" stroke-width="1"/>
<rect x="1616" y="271.4" width="1" height="96.1" fill="#111"/>
<rect x="1615.4" y="310.5" width="2.2" height="56.2" fill="#5c8c6e" stroke="#111" stroke-width="1"/>
<rect x="1620" y="283.3" width="1" height="33.4" fill="#111"/>
<rect x="1619" y="310.6" width="3" height="1.2" fill="#111"/>
<rect x="1623" y="298.3" width="1" height="22.3" fill="#111"/>
<rect x="1622.4" y="311.5" width="2.2" height="5.0" fill="#9a464e" stroke="#111" stroke-width="1"/>
<rect x="1627" y="302.1" width="1" height="15.4" fill="#111"/>
<rect x="1626.4" y="310.5" width="2.2" height="6.0" fill="#5c8c6e" stroke="#111" stroke-width="1"/>
<rect x="1631" y="285.4" width="1" height="28.2" fill="#111"/>
<rect x="1630.4" y="308.1" width="2.2" height="2.4" fill="#5c8c6e" stroke="#111" stroke-width="1"/>
<rect x="1635" y="289.1" width="1" height="21.1" fill="#111"/>
<rect x="1634.4" y="294.4" width="2.2" height="15.1" fill="#5c8c6e" stroke="#111" stroke-width="1"/>
<rect x="1639" y="274.9" width="1" height="22.1" fill="#111"/>
<rect x="1638.4" y="283.3" width="2.2" height="11.1" fill="#5c8c6e" stroke="#111" stroke-width="1"/>
<rect x="1643" y="282.5" width="1" height="29.5" fill="#111"/>
<rect x="1642.4" y="283.3" width="2.2" height="27.7" fill="#9a464e" stroke="#111" stroke-width="1"/>
<rect x="1646" y="305.0" width="1" height="22.7" fill="#111"/>
<rect x="1645.4" y="308.3" width="2.2" height="2.2" fill="#5c8c6e" stroke="#111" stroke-width="1"/>
<rect x="1650" y="303.5" width="1" height="25.1" fill="#111"/>
<rect x="1649.4" y="305.4" width="2.2" height="2.9" fill="#5c8c6e" stroke="#111" stroke-width="1"/>
<rect x="1654" y="294.8" width="1" height="13.5" fill="#111"/>
<rect x="1653.4" y="295.6" width="2.2" height="10.0" fill="#5c8c6e" stroke="#111" stroke-width="1"/>
<rect x="1658" y="287.2" width="1" height="20.5" fill="#111"/>
<rect x="1657.4" y="295.6" width="2.2" height="11.1" fill="#9a464e" stroke="#111" stroke-width="1"/>
<rect x="1662" y="304.3" width="1" height="11.9" fill="#111"/>
<rect x="1661.4" y="307.3" width="2.2" height="8.2" fill="#9a464e" stroke="#111" stroke-width="1"/>
<rect x="1666" y="296.0" width="1" height="21.0" fill="#111"/>
<rect x="1665.4" y="296.8" width="2.2" height="19.3" fill="#5c8c6e" stroke="#111" stroke-width="1"/>
<text x="869.9" y="41.9" font-size="12" font-weight="bold" font-style="italic" fill="#141414" stroke="#141414" stroke-width="0.3" textLength="18" lengthAdjust="spacingAndGlyphs">UT</text>
<text x="427.8" y="163.9" font-size="12" font-weight="bold" font-style="italic" fill="#141414" stroke="#141414" stroke-width="0.3" textLength="17.4" lengthAdjust="spacingAndGlyphs">BC</text>
<text x="635" y="148.5" font-size="12" font-weight="bold" font-style="italic" fill="#141414" stroke="#141414" stroke-width="0.3" textLength="16.6" lengthAdjust="spacingAndGlyphs">ST</text>
<text x="473" y="218.5" font-size="12" font-weight="bold" font-style="italic" fill="#141414" stroke="#141414" stroke-width="0.3" textLength="16.9" lengthAdjust="spacingAndGlyphs">ST</text>
<text x="370.8" y="251.6" font-size="12" font-weight="bold" font-style="italic" fill="#141414" stroke="#141414" stroke-width="0.3" textLength="24.8" lengthAdjust="spacingAndGlyphs">PSY</text>
<text x="439.5" y="391.8" font-size="12" font-weight="bold" font-style="italic" fill="#141414" stroke="#141414" stroke-width="0.3" textLength="18.1" lengthAdjust="spacingAndGlyphs">AR</text>
<text x="516.5" y="456.7" font-size="12" font-weight="bold" font-style="italic" fill="#141414" stroke="#141414" stroke-width="0.3" textLength="32" lengthAdjust="spacingAndGlyphs">SOW</text>
<text x="651" y="338.7" font-size="12" font-weight="bold" font-style="italic" fill="#1a1ab4" stroke="#1a1ab4" stroke-width="0.3" textLength="26.5" lengthAdjust="spacingAndGlyphs">ICE</text>
<text x="1298.5" y="199" font-size="12" font-weight="bold" font-style="italic" fill="#141414" stroke="#141414" stroke-width="0.3" textLength="33.3" lengthAdjust="spacingAndGlyphs">LPSY</text>
<text x="1613.1" y="239" font-size="12" font-weight="bold" font-style="italic" fill="#141414" stroke="#141414" stroke-width="0.3" textLength="33.7" lengthAdjust="spacingAndGlyphs">LPSY</text>
<text x="596.5" y="582.9" font-size="12" font-weight="bold" font-style="italic" fill="#141414" stroke="#141414" stroke-width="0.3" textLength="105" lengthAdjust="spacingAndGlyphs">Parabolic Curve</text>
<text x="1045.7" y="582.6" font-size="12" font-weight="bold" font-style="italic" fill="#141414" stroke="#141414" stroke-width="0.3" textLength="45.9" lengthAdjust="spacingAndGlyphs">MAJOR</text>
<text x="1045.7" y="594.6" font-size="12" font-weight="bold" font-style="italic" fill="#141414" stroke="#141414" stroke-width="0.3" textLength="31.3" lengthAdjust="spacingAndGlyphs">SOW</text>
<text x="1245.6" y="639.8" font-size="12" font-weight="bold" font-style="italic" fill="#8a14d8" stroke="#8a14d8" stroke-width="0.3" textLength="84.4" lengthAdjust="spacingAndGlyphs">Linear Trend</text>
<text x="1248.5" y="28.5" font-size="12" font-weight="bold" font-style="italic" fill="#dc1a20" stroke="#dc1a20" stroke-width="0.3" textLength="80.2" lengthAdjust="spacingAndGlyphs">Hypodermic</text>
<text x="1249.1" y="40.6" font-size="12" font-weight="bold" font-style="italic" fill="#dc1a20" stroke="#dc1a20" stroke-width="0.3" textLength="62.9" lengthAdjust="spacingAndGlyphs">Trendline</text>
<rect x="3" y="5.8" width="1810" height="1.3" fill="#3f6f8c"/>
<rect x="4" y="7.1" width="1809" height="1.2" fill="#d8fdff"/>
<rect x="3" y="5.8" width="1.15" height="874.2" fill="#3f6f8c"/>
<rect x="1764" y="8" width="49" height="872" fill="#ffffff"/>
<rect x="4" y="862" width="1809" height="18" fill="#ffffff"/>
<line x1="1764.5" y1="8" x2="1764.5" y2="861" stroke="#50535e" stroke-width="1.4"/>
<line x1="4" y1="861.5" x2="1765" y2="861.5" stroke="#50535e" stroke-width="1.4"/>
<line x1="1765" y1="8.93" x2="1769" y2="8.93" stroke="#50535e" stroke-width="1"/>
<text x="1771" y="13.53" font-size="10.8" fill="#50535e">21000.0</text>
<line x1="1765" y1="51.14" x2="1769" y2="51.14" stroke="#50535e" stroke-width="1"/>
<text x="1771" y="55.74" font-size="10.8" fill="#50535e">20000.0</text>
<line x1="1765" y1="86.45" x2="1769" y2="86.45" stroke="#50535e" stroke-width="1"/>
<text x="1771" y="91.05" font-size="10.8" fill="#50535e">19200.0</text>
<line x1="1765" y1="123.27" x2="1769" y2="123.27" stroke="#50535e" stroke-width="1"/>
<text x="1771" y="127.87" font-size="10.8" fill="#50535e">18400.0</text>
<line x1="1765" y1="161.73" x2="1769" y2="161.73" stroke="#50535e" stroke-width="1"/>
<text x="1771" y="166.33" font-size="10.8" fill="#50535e">17600.0</text>
<line x1="1765" y1="201.98" x2="1769" y2="201.98" stroke="#50535e" stroke-width="1"/>
<text x="1771" y="206.58" font-size="10.8" fill="#50535e">16800.0</text>
<line x1="1765" y1="244.19" x2="1769" y2="244.19" stroke="#50535e" stroke-width="1"/>
<text x="1771" y="248.79" font-size="10.8" fill="#50535e">16000.0</text>
<line x1="1765" y1="288.56" x2="1769" y2="288.56" stroke="#50535e" stroke-width="1"/>
<text x="1771" y="293.16" font-size="10.8" fill="#50535e">15200.0</text>
<line x1="1765" y1="317.50" x2="1769" y2="317.50" stroke="#50535e" stroke-width="1"/>
<text x="1771" y="322.10" font-size="10.8" fill="#50535e">14700.0</text>
<line x1="1765" y1="347.44" x2="1769" y2="347.44" stroke="#50535e" stroke-width="1"/>
<text x="1771" y="352.04" font-size="10.8" fill="#50535e">14200.0</text>
<line x1="1765" y1="378.45" x2="1769" y2="378.45" stroke="#50535e" stroke-width="1"/>
<text x="1771" y="383.05" font-size="10.8" fill="#50535e">13700.0</text>
<line x1="1765" y1="417.19" x2="1769" y2="417.19" stroke="#50535e" stroke-width="1"/>
<text x="1771" y="421.79" font-size="10.8" fill="#50535e">13100.0</text>
<line x1="1765" y1="457.75" x2="1769" y2="457.75" stroke="#50535e" stroke-width="1"/>
<text x="1771" y="462.35" font-size="10.8" fill="#50535e">12500.0</text>
<line x1="1765" y1="485.89" x2="1769" y2="485.89" stroke="#50535e" stroke-width="1"/>
<text x="1771" y="490.49" font-size="10.8" fill="#50535e">12100.0</text>
<line x1="1765" y1="514.97" x2="1769" y2="514.97" stroke="#50535e" stroke-width="1"/>
<text x="1771" y="519.57" font-size="10.8" fill="#50535e">11700.0</text>
<line x1="1765" y1="545.07" x2="1769" y2="545.07" stroke="#50535e" stroke-width="1"/>
<text x="1771" y="549.67" font-size="10.8" fill="#50535e">11300.0</text>
<line x1="1765" y1="576.25" x2="1769" y2="576.25" stroke="#50535e" stroke-width="1"/>
<text x="1771" y="580.85" font-size="10.8" fill="#50535e">10900.0</text>
<line x1="1765" y1="608.59" x2="1769" y2="608.59" stroke="#50535e" stroke-width="1"/>
<text x="1771" y="613.19" font-size="10.8" fill="#50535e">10500.0</text>
<line x1="1765" y1="642.19" x2="1769" y2="642.19" stroke="#50535e" stroke-width="1"/>
<text x="1771" y="646.79" font-size="10.8" fill="#50535e">10100.0</text>
<line x1="1765" y1="677.15" x2="1769" y2="677.15" stroke="#50535e" stroke-width="1"/>
<text x="1771" y="681.75" font-size="10.8" fill="#50535e">9700.0</text>
<line x1="1765" y1="704.33" x2="1769" y2="704.33" stroke="#50535e" stroke-width="1"/>
<text x="1771" y="708.93" font-size="10.8" fill="#50535e">9400.0</text>
<line x1="1765" y1="732.39" x2="1769" y2="732.39" stroke="#50535e" stroke-width="1"/>
<text x="1771" y="736.99" font-size="10.8" fill="#50535e">9100.0</text>
<line x1="1765" y1="761.39" x2="1769" y2="761.39" stroke="#50535e" stroke-width="1"/>
<text x="1771" y="765.99" font-size="10.8" fill="#50535e">8800.0</text>
<line x1="1765" y1="789.37" x2="1769" y2="789.37" stroke="#50535e" stroke-width="1"/>
<text x="1771" y="793.97" font-size="10.8" fill="#50535e">8520.0</text>
<line x1="1765" y1="817.75" x2="1769" y2="817.75" stroke="#50535e" stroke-width="1"/>
<text x="1771" y="822.35" font-size="10.8" fill="#50535e">8245.0</text>
<line x1="1765" y1="845.47" x2="1769" y2="845.47" stroke="#50535e" stroke-width="1"/>
<text x="1771" y="850.07" font-size="10.8" fill="#50535e">7985.0</text>
<line x1="28.4" y1="862" x2="28.4" y2="866" stroke="#50535e" stroke-width="1"/>
<text x="28.4" y="877" font-size="11.3" fill="#50535e" text-anchor="middle">29</text>
<line x1="120.4" y1="862" x2="120.4" y2="866" stroke="#50535e" stroke-width="1"/>
<text x="120.4" y="877" font-size="11.3" fill="#50535e" text-anchor="middle">Dec</text>
<line x1="259.4" y1="862" x2="259.4" y2="866" stroke="#50535e" stroke-width="1"/>
<text x="259.4" y="877" font-size="11.3" fill="#50535e" text-anchor="middle">4</text>
<line x1="351.4" y1="862" x2="351.4" y2="866" stroke="#50535e" stroke-width="1"/>
<text x="351.4" y="877" font-size="11.3" fill="#50535e" text-anchor="middle">6</text>
<line x1="443.4" y1="862" x2="443.4" y2="866" stroke="#50535e" stroke-width="1"/>
<text x="443.4" y="877" font-size="11.3" fill="#50535e" text-anchor="middle">8</text>
<line x1="581.4" y1="862" x2="581.4" y2="866" stroke="#50535e" stroke-width="1"/>
<text x="581.4" y="877" font-size="11.3" fill="#50535e" text-anchor="middle">11</text>
<line x1="673.4" y1="862" x2="673.4" y2="866" stroke="#50535e" stroke-width="1"/>
<text x="673.4" y="877" font-size="11.3" fill="#50535e" text-anchor="middle">13</text>
<line x1="765.4" y1="862" x2="765.4" y2="866" stroke="#50535e" stroke-width="1"/>
<text x="765.4" y="877" font-size="11.3" fill="#50535e" text-anchor="middle">15</text>
<line x1="903.4" y1="862" x2="903.4" y2="866" stroke="#50535e" stroke-width="1"/>
<text x="903.4" y="877" font-size="11.3" fill="#50535e" text-anchor="middle">18</text>
<line x1="995.4" y1="862" x2="995.4" y2="866" stroke="#50535e" stroke-width="1"/>
<text x="995.4" y="877" font-size="11.3" fill="#50535e" text-anchor="middle">20</text>
<line x1="1087.4" y1="862" x2="1087.4" y2="866" stroke="#50535e" stroke-width="1"/>
<text x="1087.4" y="877" font-size="11.3" fill="#50535e" text-anchor="middle">22</text>
<line x1="1225.4" y1="862" x2="1225.4" y2="866" stroke="#50535e" stroke-width="1"/>
<text x="1225.4" y="877" font-size="11.3" fill="#50535e" text-anchor="middle">25</text>
<line x1="1318.4" y1="862" x2="1318.4" y2="866" stroke="#50535e" stroke-width="1"/>
<text x="1318.4" y="877" font-size="11.3" fill="#50535e" text-anchor="middle">27</text>
<line x1="1410.4" y1="862" x2="1410.4" y2="866" stroke="#50535e" stroke-width="1"/>
<text x="1410.4" y="877" font-size="11.3" fill="#50535e" text-anchor="middle">29</text>
<line x1="1548.4" y1="862" x2="1548.4" y2="866" stroke="#50535e" stroke-width="1"/>
<text x="1548.4" y="877" font-size="11.3" fill="#50535e" text-anchor="middle" font-weight="bold">2018</text>
<line x1="1640.4" y1="862" x2="1640.4" y2="866" stroke="#50535e" stroke-width="1"/>
<text x="1640.4" y="877" font-size="11.3" fill="#50535e" text-anchor="middle">3</text>
<line x1="1732.4" y1="862" x2="1732.4" y2="866" stroke="#50535e" stroke-width="1"/>
<text x="1732.4" y="877" font-size="11.3" fill="#50535e" text-anchor="middle">5</text>
<rect x="1763" y="290" width="50" height="16" fill="#53b987"/>
<text x="1768" y="302.5" font-size="11.3" font-weight="bold" fill="#ffffff">15034.0</text>
<rect x="1779" y="307" width="34" height="16" fill="#53b987"/>
<text x="1782" y="319.5" font-size="11.3" font-weight="bold" fill="#ffffff">09:41</text>
<rect x="9.5" y="19.5" width="12" height="13" rx="1.5" fill="none" stroke="#6b6e78" stroke-width="1"/>
<path d="M11.5 25.5h8M15.5 21.5v8" stroke="#6b6e78" stroke-width="1" fill="none"/>
<text x="28.8" y="31.8" font-size="14.5" fill="#5a5d66" textLength="9.4" lengthAdjust="spacingAndGlyphs">O</text>
<text x="40.4" y="31.8" font-size="14.5" fill="#1e2026" textLength="50.6" lengthAdjust="spacingAndGlyphs">14726.0</text>
<text x="101.9" y="31.8" font-size="14.5" fill="#5a5d66" textLength="8.7" lengthAdjust="spacingAndGlyphs">H</text>
<text x="113.8" y="31.8" font-size="14.5" fill="#1e2026" textLength="50.4" lengthAdjust="spacingAndGlyphs">15058.0</text>
<text x="175.3" y="31.8" font-size="14.5" fill="#5a5d66" textLength="6.7" lengthAdjust="spacingAndGlyphs">L</text>
<text x="184.8" y="31.8" font-size="14.5" fill="#1e2026" textLength="50.4" lengthAdjust="spacingAndGlyphs">14703.0</text>
<text x="245.7" y="31.8" font-size="14.5" fill="#5a5d66" textLength="7.8" lengthAdjust="spacingAndGlyphs">C</text>
<text x="257.6" y="31.8" font-size="14.5" fill="#1e2026" textLength="50" lengthAdjust="spacingAndGlyphs">15034.0</text>
</svg>
</body></html>
